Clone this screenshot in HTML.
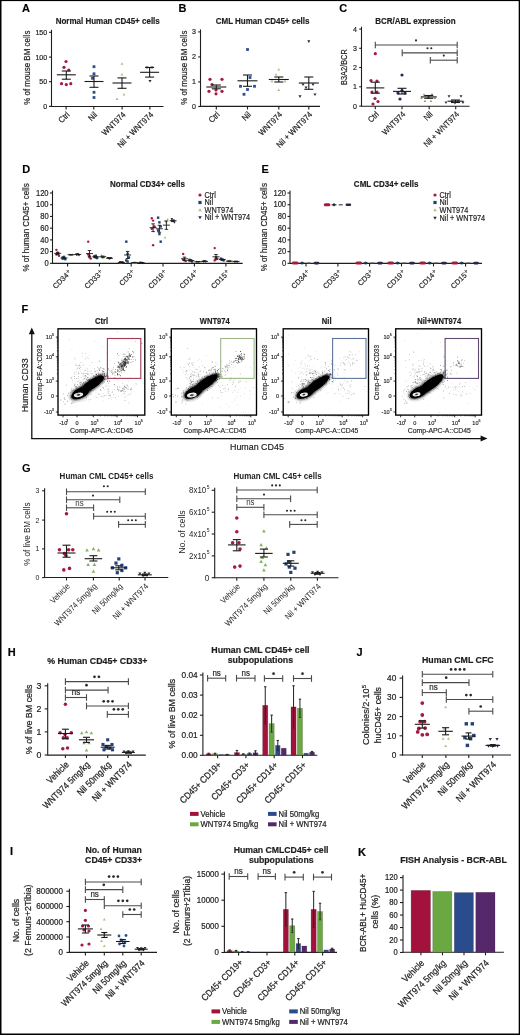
<!DOCTYPE html>
<html><head><meta charset="utf-8"><style>
html,body{margin:0;padding:0;background:#fff;}
svg{display:block;will-change:transform;}
text{font-family:"Liberation Sans", sans-serif;}
.hv text{stroke:#1e1e1e;stroke-width:0.2px;}
.md text{stroke:#1e1e1e;stroke-width:0.17px;}
</style></head><body>
<svg width="520" height="1035" viewBox="0 0 520 1035">
<rect x="0" y="0" width="520" height="1035" fill="#fff"/>
<g class="md">
<text x="0" y="0" font-size="11" text-anchor="start" font-weight="bold" fill="#000" transform="translate(22 12.3)">A</text>
<text x="0" y="0" font-size="8" text-anchor="middle" font-weight="bold" fill="#1e1e1e" transform="translate(107.7 23.5) scale(1 1.12)">Normal Human CD45+ cells</text>
<line x1="51.5" y1="29.8" x2="51.5" y2="107" stroke="#1e1e1e" stroke-width="1.1"/>
<line x1="49" y1="32.3" x2="51.5" y2="32.3" stroke="#1e1e1e" stroke-width="1.1"/>
<text x="0" y="0" font-size="7.1" text-anchor="end" fill="#1e1e1e" transform="translate(47.2 34.86) scale(1 1.12)">150</text>
<line x1="49" y1="57.1" x2="51.5" y2="57.1" stroke="#1e1e1e" stroke-width="1.1"/>
<text x="0" y="0" font-size="7.1" text-anchor="end" fill="#1e1e1e" transform="translate(47.2 59.66) scale(1 1.12)">100</text>
<line x1="49" y1="81.7" x2="51.5" y2="81.7" stroke="#1e1e1e" stroke-width="1.1"/>
<text x="0" y="0" font-size="7.1" text-anchor="end" fill="#1e1e1e" transform="translate(47.2 84.26) scale(1 1.12)">50</text>
<line x1="49" y1="106.4" x2="51.5" y2="106.4" stroke="#1e1e1e" stroke-width="1.1"/>
<text x="0" y="0" font-size="7.1" text-anchor="end" fill="#1e1e1e" transform="translate(47.2 108.96) scale(1 1.12)">0</text>
<text x="0" y="0" font-size="7.95" text-anchor="middle" fill="#1e1e1e" transform="translate(29.6 67.7) rotate(-90) scale(1 1.12)">% of mouse BM cells</text>
<line x1="51.5" y1="106.5" x2="163.5" y2="106.5" stroke="#1e1e1e" stroke-width="1.1"/>
<line x1="66.1" y1="106.5" x2="66.1" y2="109.5" stroke="#1e1e1e" stroke-width="1.1"/>
<line x1="93.8" y1="106.5" x2="93.8" y2="109.5" stroke="#1e1e1e" stroke-width="1.1"/>
<line x1="122.1" y1="106.5" x2="122.1" y2="109.5" stroke="#1e1e1e" stroke-width="1.1"/>
<line x1="149.9" y1="106.5" x2="149.9" y2="109.5" stroke="#1e1e1e" stroke-width="1.1"/>
<circle cx="66" cy="61.5" r="1.6" fill="#a51a3e"/>
<circle cx="64" cy="67.3" r="1.6" fill="#a51a3e"/>
<circle cx="68.8" cy="70" r="1.6" fill="#a51a3e"/>
<circle cx="61.5" cy="83.7" r="1.6" fill="#a51a3e"/>
<circle cx="66.3" cy="84.6" r="1.6" fill="#a51a3e"/>
<circle cx="70.8" cy="83.7" r="1.6" fill="#a51a3e"/>
<line x1="56.8" y1="74.8" x2="75.8" y2="74.8" stroke="#1a1a1a" stroke-width="1.1"/>
<line x1="66.3" y1="71" x2="66.3" y2="79.2" stroke="#1a1a1a" stroke-width="1.1"/>
<line x1="61.8" y1="71" x2="70.8" y2="71" stroke="#1a1a1a" stroke-width="1.1"/>
<line x1="61.8" y1="79.2" x2="70.8" y2="79.2" stroke="#1a1a1a" stroke-width="1.1"/>
<rect x="92.6" y="65.3" width="2.8" height="2.8" fill="#2c4f8e"/>
<rect x="92.6" y="72.4" width="2.8" height="2.8" fill="#2c4f8e"/>
<rect x="91.1" y="76.9" width="2.8" height="2.8" fill="#2c4f8e"/>
<rect x="92.6" y="90.9" width="2.8" height="2.8" fill="#2c4f8e"/>
<rect x="92.6" y="96.1" width="2.8" height="2.8" fill="#2c4f8e"/>
<line x1="84.5" y1="81.5" x2="103.5" y2="81.5" stroke="#1a1a1a" stroke-width="1.1"/>
<line x1="94" y1="76" x2="94" y2="87.3" stroke="#1a1a1a" stroke-width="1.1"/>
<line x1="89.5" y1="76" x2="98.5" y2="76" stroke="#1a1a1a" stroke-width="1.1"/>
<line x1="89.5" y1="87.3" x2="98.5" y2="87.3" stroke="#1a1a1a" stroke-width="1.1"/>
<polygon points="122,62.32 123.43,64.79 120.57,64.79" fill="#bdb57e"/>
<polygon points="122,72.92 123.43,75.39 120.57,75.39" fill="#bdb57e"/>
<polygon points="124,93.12 125.43,95.59 122.57,95.59" fill="#bdb57e"/>
<polygon points="117,97.52 118.43,99.99 115.57,99.99" fill="#bdb57e"/>
<line x1="112.5" y1="83" x2="131.5" y2="83" stroke="#1a1a1a" stroke-width="1.1"/>
<line x1="122" y1="77.9" x2="122" y2="88.3" stroke="#1a1a1a" stroke-width="1.1"/>
<line x1="117.5" y1="77.9" x2="126.5" y2="77.9" stroke="#1a1a1a" stroke-width="1.1"/>
<line x1="117.5" y1="88.3" x2="126.5" y2="88.3" stroke="#1a1a1a" stroke-width="1.1"/>
<polygon points="147,69.1 148.54,66.44 145.46,66.44" fill="#2b2740"/>
<polygon points="152,69.1 153.54,66.44 150.46,66.44" fill="#2b2740"/>
<polygon points="150,82.6 151.54,79.94 148.46,79.94" fill="#2b2740"/>
<line x1="140.1" y1="72.3" x2="159.1" y2="72.3" stroke="#1a1a1a" stroke-width="1.1"/>
<line x1="149.6" y1="67.5" x2="149.6" y2="77.1" stroke="#1a1a1a" stroke-width="1.1"/>
<line x1="145.1" y1="67.5" x2="154.1" y2="67.5" stroke="#1a1a1a" stroke-width="1.1"/>
<line x1="145.1" y1="77.1" x2="154.1" y2="77.1" stroke="#1a1a1a" stroke-width="1.1"/>
<text x="0" y="0" font-size="7.5" text-anchor="end" fill="#1e1e1e" transform="translate(70.1 115.2) rotate(-45) scale(1 1.12)">Ctrl</text>
<text x="0" y="0" font-size="7.5" text-anchor="end" fill="#1e1e1e" transform="translate(97.8 115.2) rotate(-45) scale(1 1.12)">Nil</text>
<text x="0" y="0" font-size="7.5" text-anchor="end" fill="#1e1e1e" transform="translate(126.1 115.2) rotate(-45) scale(1 1.12)">WNT974</text>
<text x="0" y="0" font-size="7.5" text-anchor="end" fill="#1e1e1e" transform="translate(153.9 115.2) rotate(-45) scale(1 1.12)">Nil + WNT974</text>
<text x="0" y="0" font-size="11" text-anchor="start" font-weight="bold" fill="#000" transform="translate(178.5 12.3)">B</text>
<text x="0" y="0" font-size="8" text-anchor="middle" font-weight="bold" fill="#1e1e1e" transform="translate(262.6 23.6) scale(1 1.12)">CML Human CD45+ cells</text>
<line x1="200.5" y1="29.4" x2="200.5" y2="107" stroke="#1e1e1e" stroke-width="1.1"/>
<line x1="198.2" y1="31.9" x2="200.5" y2="31.9" stroke="#1e1e1e" stroke-width="1.1"/>
<text x="0" y="0" font-size="7.1" text-anchor="end" fill="#1e1e1e" transform="translate(195.9 34.46) scale(1 1.12)">3</text>
<line x1="198.2" y1="56.9" x2="200.5" y2="56.9" stroke="#1e1e1e" stroke-width="1.1"/>
<text x="0" y="0" font-size="7.1" text-anchor="end" fill="#1e1e1e" transform="translate(195.9 59.46) scale(1 1.12)">2</text>
<line x1="198.2" y1="81.9" x2="200.5" y2="81.9" stroke="#1e1e1e" stroke-width="1.1"/>
<text x="0" y="0" font-size="7.1" text-anchor="end" fill="#1e1e1e" transform="translate(195.9 84.46) scale(1 1.12)">1</text>
<line x1="198.2" y1="106.5" x2="200.5" y2="106.5" stroke="#1e1e1e" stroke-width="1.1"/>
<text x="0" y="0" font-size="7.1" text-anchor="end" fill="#1e1e1e" transform="translate(195.9 109.06) scale(1 1.12)">0</text>
<text x="0" y="0" font-size="7.95" text-anchor="middle" fill="#1e1e1e" transform="translate(186.8 67.7) rotate(-90) scale(1 1.12)">% of mouse BM cells</text>
<line x1="200.4" y1="106.4" x2="320" y2="106.4" stroke="#1e1e1e" stroke-width="1.1"/>
<line x1="216.3" y1="106.4" x2="216.3" y2="109.4" stroke="#1e1e1e" stroke-width="1.1"/>
<line x1="247.5" y1="106.4" x2="247.5" y2="109.4" stroke="#1e1e1e" stroke-width="1.1"/>
<line x1="278.8" y1="106.4" x2="278.8" y2="109.4" stroke="#1e1e1e" stroke-width="1.1"/>
<line x1="308.8" y1="106.4" x2="308.8" y2="109.4" stroke="#1e1e1e" stroke-width="1.1"/>
<circle cx="210" cy="79.3" r="1.6" fill="#a51a3e"/>
<circle cx="222" cy="79.3" r="1.6" fill="#a51a3e"/>
<circle cx="212" cy="84.5" r="1.6" fill="#a51a3e"/>
<circle cx="216" cy="90" r="1.6" fill="#a51a3e"/>
<circle cx="209" cy="91.3" r="1.6" fill="#a51a3e"/>
<circle cx="222" cy="91.3" r="1.6" fill="#a51a3e"/>
<circle cx="216" cy="93.8" r="1.6" fill="#a51a3e"/>
<line x1="206.3" y1="87" x2="226.3" y2="87" stroke="#1a1a1a" stroke-width="1.1"/>
<line x1="216.3" y1="85" x2="216.3" y2="88.8" stroke="#1a1a1a" stroke-width="1.1"/>
<line x1="211.8" y1="85" x2="220.8" y2="85" stroke="#1a1a1a" stroke-width="1.1"/>
<line x1="211.8" y1="88.8" x2="220.8" y2="88.8" stroke="#1a1a1a" stroke-width="1.1"/>
<rect x="246.1" y="48.1" width="2.8" height="2.8" fill="#2c4f8e"/>
<rect x="248.6" y="76.1" width="2.8" height="2.8" fill="#2c4f8e"/>
<rect x="239.1" y="84.9" width="2.8" height="2.8" fill="#2c4f8e"/>
<rect x="253.1" y="84.9" width="2.8" height="2.8" fill="#2c4f8e"/>
<rect x="246.1" y="88.1" width="2.8" height="2.8" fill="#2c4f8e"/>
<rect x="242.6" y="92.9" width="2.8" height="2.8" fill="#2c4f8e"/>
<line x1="237.5" y1="80.8" x2="257.5" y2="80.8" stroke="#1a1a1a" stroke-width="1.1"/>
<line x1="247.5" y1="75" x2="247.5" y2="86.3" stroke="#1a1a1a" stroke-width="1.1"/>
<line x1="243" y1="75" x2="252" y2="75" stroke="#1a1a1a" stroke-width="1.1"/>
<line x1="243" y1="86.3" x2="252" y2="86.3" stroke="#1a1a1a" stroke-width="1.1"/>
<polygon points="278.8,68.02 280.23,70.49 277.37,70.49" fill="#bdb57e"/>
<polygon points="276,73.02 277.43,75.49 274.57,75.49" fill="#bdb57e"/>
<polygon points="272,79.82 273.43,82.29 270.57,82.29" fill="#bdb57e"/>
<polygon points="285,79.82 286.43,82.29 283.57,82.29" fill="#bdb57e"/>
<polygon points="278.8,88.52 280.23,90.99 277.37,90.99" fill="#bdb57e"/>
<line x1="268.8" y1="79.5" x2="288.8" y2="79.5" stroke="#1a1a1a" stroke-width="1.1"/>
<line x1="278.8" y1="77" x2="278.8" y2="82" stroke="#1a1a1a" stroke-width="1.1"/>
<line x1="274.3" y1="77" x2="283.3" y2="77" stroke="#1a1a1a" stroke-width="1.1"/>
<line x1="274.3" y1="82" x2="283.3" y2="82" stroke="#1a1a1a" stroke-width="1.1"/>
<polygon points="308.8,42.9 310.34,40.24 307.26,40.24" fill="#2b2740"/>
<polygon points="303,86.1 304.54,83.44 301.46,83.44" fill="#2b2740"/>
<polygon points="313,86.1 314.54,83.44 311.46,83.44" fill="#2b2740"/>
<polygon points="306,89.1 307.54,86.44 304.46,86.44" fill="#2b2740"/>
<polygon points="315,96.1 316.54,93.44 313.46,93.44" fill="#2b2740"/>
<polygon points="300,97.9 301.54,95.24 298.46,95.24" fill="#2b2740"/>
<line x1="298.8" y1="83" x2="318.8" y2="83" stroke="#1a1a1a" stroke-width="1.1"/>
<line x1="308.8" y1="77" x2="308.8" y2="89.3" stroke="#1a1a1a" stroke-width="1.1"/>
<line x1="304.3" y1="77" x2="313.3" y2="77" stroke="#1a1a1a" stroke-width="1.1"/>
<line x1="304.3" y1="89.3" x2="313.3" y2="89.3" stroke="#1a1a1a" stroke-width="1.1"/>
<text x="0" y="0" font-size="7.5" text-anchor="end" fill="#1e1e1e" transform="translate(220.3 115.1) rotate(-45) scale(1 1.12)">Ctrl</text>
<text x="0" y="0" font-size="7.5" text-anchor="end" fill="#1e1e1e" transform="translate(251.5 115.1) rotate(-45) scale(1 1.12)">Nil</text>
<text x="0" y="0" font-size="7.5" text-anchor="end" fill="#1e1e1e" transform="translate(282.8 115.1) rotate(-45) scale(1 1.12)">WNT974</text>
<text x="0" y="0" font-size="7.5" text-anchor="end" fill="#1e1e1e" transform="translate(312.8 115.1) rotate(-45) scale(1 1.12)">Nil + WNT974</text>
<text x="0" y="0" font-size="11" text-anchor="start" font-weight="bold" fill="#000" transform="translate(339.3 12.3)">C</text>
<text x="0" y="0" font-size="8" text-anchor="middle" font-weight="bold" fill="#1e1e1e" transform="translate(415.4 23.5) scale(1 1.12)">BCR/ABL expression</text>
<line x1="361.5" y1="26.7" x2="361.5" y2="106.7" stroke="#1e1e1e" stroke-width="1.1"/>
<line x1="359.2" y1="29.1" x2="361.5" y2="29.1" stroke="#1e1e1e" stroke-width="1.1"/>
<text x="0" y="0" font-size="7.1" text-anchor="end" fill="#1e1e1e" transform="translate(356.9 31.66) scale(1 1.12)">4</text>
<line x1="359.2" y1="48.3" x2="361.5" y2="48.3" stroke="#1e1e1e" stroke-width="1.1"/>
<text x="0" y="0" font-size="7.1" text-anchor="end" fill="#1e1e1e" transform="translate(356.9 50.86) scale(1 1.12)">3</text>
<line x1="359.2" y1="67.5" x2="361.5" y2="67.5" stroke="#1e1e1e" stroke-width="1.1"/>
<text x="0" y="0" font-size="7.1" text-anchor="end" fill="#1e1e1e" transform="translate(356.9 70.06) scale(1 1.12)">2</text>
<line x1="359.2" y1="86.8" x2="361.5" y2="86.8" stroke="#1e1e1e" stroke-width="1.1"/>
<text x="0" y="0" font-size="7.1" text-anchor="end" fill="#1e1e1e" transform="translate(356.9 89.36) scale(1 1.12)">1</text>
<line x1="359.2" y1="106.1" x2="361.5" y2="106.1" stroke="#1e1e1e" stroke-width="1.1"/>
<text x="0" y="0" font-size="7.1" text-anchor="end" fill="#1e1e1e" transform="translate(356.9 108.66) scale(1 1.12)">0</text>
<text x="0" y="0" font-size="7.4" text-anchor="middle" fill="#1e1e1e" transform="translate(346.6 67.1) rotate(-90) scale(1 1.12)">B3A2/BCR</text>
<line x1="361.5" y1="106.2" x2="469.5" y2="106.2" stroke="#1e1e1e" stroke-width="1.1"/>
<line x1="375.3" y1="106.2" x2="375.3" y2="109.2" stroke="#1e1e1e" stroke-width="1.1"/>
<line x1="402" y1="106.2" x2="402" y2="109.2" stroke="#1e1e1e" stroke-width="1.1"/>
<line x1="429.2" y1="106.2" x2="429.2" y2="109.2" stroke="#1e1e1e" stroke-width="1.1"/>
<line x1="455.7" y1="106.2" x2="455.7" y2="109.2" stroke="#1e1e1e" stroke-width="1.1"/>
<line x1="375.3" y1="45" x2="457.2" y2="45" stroke="#4a4a4a" stroke-width="1.1"/>
<line x1="375.3" y1="41.7" x2="375.3" y2="48.3" stroke="#4a4a4a" stroke-width="1.1"/>
<line x1="457.2" y1="41.7" x2="457.2" y2="48.3" stroke="#4a4a4a" stroke-width="1.1"/>
<circle cx="416" cy="40.4" r="1.05" fill="#2a2a2a"/>
<line x1="402.2" y1="52.9" x2="457.2" y2="52.9" stroke="#4a4a4a" stroke-width="1.1"/>
<line x1="402.2" y1="49.6" x2="402.2" y2="56.2" stroke="#4a4a4a" stroke-width="1.1"/>
<line x1="457.2" y1="49.6" x2="457.2" y2="56.2" stroke="#4a4a4a" stroke-width="1.1"/>
<circle cx="427.5" cy="48.3" r="1.05" fill="#2a2a2a"/>
<circle cx="431.3" cy="48.3" r="1.05" fill="#2a2a2a"/>
<line x1="430.3" y1="60.2" x2="457.2" y2="60.2" stroke="#4a4a4a" stroke-width="1.1"/>
<line x1="430.3" y1="56.9" x2="430.3" y2="63.5" stroke="#4a4a4a" stroke-width="1.1"/>
<line x1="457.2" y1="56.9" x2="457.2" y2="63.5" stroke="#4a4a4a" stroke-width="1.1"/>
<circle cx="443.8" cy="55.6" r="1.05" fill="#2a2a2a"/>
<circle cx="375.3" cy="53.7" r="1.6" fill="#a51a3e"/>
<circle cx="371" cy="80.5" r="1.6" fill="#9a2040"/>
<circle cx="377" cy="81" r="1.6" fill="#9a2040"/>
<circle cx="372" cy="92" r="1.6" fill="#9a2040"/>
<circle cx="377" cy="92" r="1.6" fill="#9a2040"/>
<circle cx="375" cy="98.5" r="1.6" fill="#9a2040"/>
<circle cx="378" cy="101.5" r="1.6" fill="#9a2040"/>
<circle cx="373" cy="104" r="1.6" fill="#9a2040"/>
<line x1="366.3" y1="87.9" x2="384.3" y2="87.9" stroke="#1a1a1a" stroke-width="1.1"/>
<line x1="375.3" y1="82.2" x2="375.3" y2="93.2" stroke="#1a1a1a" stroke-width="1.1"/>
<line x1="370.8" y1="82.2" x2="379.8" y2="82.2" stroke="#1a1a1a" stroke-width="1.1"/>
<line x1="370.8" y1="93.2" x2="379.8" y2="93.2" stroke="#1a1a1a" stroke-width="1.1"/>
<circle cx="402" cy="75" r="1.6" fill="#1f2f55"/>
<circle cx="398" cy="93" r="1.6" fill="#1f2f55"/>
<circle cx="405" cy="93" r="1.6" fill="#1f2f55"/>
<circle cx="400" cy="99" r="1.6" fill="#1f2f55"/>
<circle cx="402" cy="90.5" r="1.6" fill="#1f2f55"/>
<line x1="393" y1="91.4" x2="411" y2="91.4" stroke="#1a1a1a" stroke-width="1.1"/>
<line x1="402" y1="88.3" x2="402" y2="94" stroke="#1a1a1a" stroke-width="1.1"/>
<line x1="397.5" y1="88.3" x2="406.5" y2="88.3" stroke="#1a1a1a" stroke-width="1.1"/>
<line x1="397.5" y1="94" x2="406.5" y2="94" stroke="#1a1a1a" stroke-width="1.1"/>
<polygon points="424,93.13 425.32,95.41 422.68,95.41" fill="#8a9a70"/>
<polygon points="432,92.63 433.32,94.91 430.68,94.91" fill="#8a9a70"/>
<polygon points="428,96.13 429.32,98.41 426.68,98.41" fill="#8a9a70"/>
<polygon points="421.5,96.63 422.82,98.91 420.18,98.91" fill="#8a9a70"/>
<polygon points="435,96.63 436.32,98.91 433.68,98.91" fill="#8a9a70"/>
<polygon points="425,99.63 426.32,101.91 423.68,101.91" fill="#8a9a70"/>
<polygon points="431,99.63 432.32,101.91 429.68,101.91" fill="#8a9a70"/>
<line x1="420.8" y1="96.9" x2="436.8" y2="96.9" stroke="#1a1a1a" stroke-width="1.1"/>
<line x1="428.8" y1="95.5" x2="428.8" y2="98.3" stroke="#1a1a1a" stroke-width="1.1"/>
<line x1="424.3" y1="95.5" x2="433.3" y2="95.5" stroke="#1a1a1a" stroke-width="1.1"/>
<line x1="424.3" y1="98.3" x2="433.3" y2="98.3" stroke="#1a1a1a" stroke-width="1.1"/>
<polygon points="449,97.68 450.43,95.21 447.57,95.21" fill="#2b2740"/>
<polygon points="461,97.68 462.43,95.21 459.57,95.21" fill="#2b2740"/>
<polygon points="452,102.98 453.43,100.51 450.57,100.51" fill="#2b2740"/>
<polygon points="458,102.98 459.43,100.51 456.57,100.51" fill="#2b2740"/>
<polygon points="446,103.98 447.43,101.51 444.57,101.51" fill="#2b2740"/>
<polygon points="455,104.48 456.43,102.01 453.57,102.01" fill="#2b2740"/>
<polygon points="463,103.98 464.43,101.51 461.57,101.51" fill="#2b2740"/>
<line x1="447.5" y1="101.2" x2="463.5" y2="101.2" stroke="#1a1a1a" stroke-width="1.1"/>
<line x1="455.5" y1="100" x2="455.5" y2="102.5" stroke="#1a1a1a" stroke-width="1.1"/>
<line x1="451" y1="100" x2="460" y2="100" stroke="#1a1a1a" stroke-width="1.1"/>
<line x1="451" y1="102.5" x2="460" y2="102.5" stroke="#1a1a1a" stroke-width="1.1"/>
<text x="0" y="0" font-size="7.4" text-anchor="end" fill="#1e1e1e" transform="translate(379.3 114.9) rotate(-45) scale(1 1.12)">Ctrl</text>
<text x="0" y="0" font-size="7.4" text-anchor="end" fill="#1e1e1e" transform="translate(406 114.9) rotate(-45) scale(1 1.12)">WNT974</text>
<text x="0" y="0" font-size="7.4" text-anchor="end" fill="#1e1e1e" transform="translate(433.2 114.9) rotate(-45) scale(1 1.12)">Nil</text>
<text x="0" y="0" font-size="7.4" text-anchor="end" fill="#1e1e1e" transform="translate(459.7 114.9) rotate(-45) scale(1 1.12)">Nil + WNT974</text>
<text x="0" y="0" font-size="11" text-anchor="start" font-weight="bold" fill="#000" transform="translate(22.2 172.7)">D</text>
<text x="0" y="0" font-size="8" text-anchor="middle" font-weight="bold" fill="#1e1e1e" transform="translate(147.5 187) scale(1 1.12)">Normal CD34+ cells</text>
<line x1="52.5" y1="190.5" x2="52.5" y2="263.9" stroke="#1e1e1e" stroke-width="1.1"/>
<line x1="50" y1="193" x2="52.5" y2="193" stroke="#1e1e1e" stroke-width="1.1"/>
<text x="0" y="0" font-size="7.6" text-anchor="end" fill="#1e1e1e" transform="translate(48.6 195.74) scale(1 1.12)">120</text>
<line x1="50" y1="204.72" x2="52.5" y2="204.72" stroke="#1e1e1e" stroke-width="1.1"/>
<text x="0" y="0" font-size="7.6" text-anchor="end" fill="#1e1e1e" transform="translate(48.6 207.46) scale(1 1.12)">100</text>
<line x1="50" y1="216.44" x2="52.5" y2="216.44" stroke="#1e1e1e" stroke-width="1.1"/>
<text x="0" y="0" font-size="7.6" text-anchor="end" fill="#1e1e1e" transform="translate(48.6 219.18) scale(1 1.12)">80</text>
<line x1="50" y1="228.16" x2="52.5" y2="228.16" stroke="#1e1e1e" stroke-width="1.1"/>
<text x="0" y="0" font-size="7.6" text-anchor="end" fill="#1e1e1e" transform="translate(48.6 230.9) scale(1 1.12)">60</text>
<line x1="50" y1="239.88" x2="52.5" y2="239.88" stroke="#1e1e1e" stroke-width="1.1"/>
<text x="0" y="0" font-size="7.6" text-anchor="end" fill="#1e1e1e" transform="translate(48.6 242.62) scale(1 1.12)">40</text>
<line x1="50" y1="251.6" x2="52.5" y2="251.6" stroke="#1e1e1e" stroke-width="1.1"/>
<text x="0" y="0" font-size="7.6" text-anchor="end" fill="#1e1e1e" transform="translate(48.6 254.34) scale(1 1.12)">20</text>
<line x1="50" y1="263.32" x2="52.5" y2="263.32" stroke="#1e1e1e" stroke-width="1.1"/>
<text x="0" y="0" font-size="7.6" text-anchor="end" fill="#1e1e1e" transform="translate(48.6 266.06) scale(1 1.12)">0</text>
<text x="0" y="0" font-size="8.0" text-anchor="middle" fill="#1e1e1e" transform="translate(28.6 227.4) rotate(-90) scale(1 1.12)">% of human CD45+ cells</text>
<line x1="52.5" y1="263.4" x2="242.7" y2="263.4" stroke="#1e1e1e" stroke-width="1.1"/>
<line x1="67.6" y1="263.4" x2="67.6" y2="266.4" stroke="#1e1e1e" stroke-width="1.1"/>
<line x1="99.4" y1="263.4" x2="99.4" y2="266.4" stroke="#1e1e1e" stroke-width="1.1"/>
<line x1="131.2" y1="263.4" x2="131.2" y2="266.4" stroke="#1e1e1e" stroke-width="1.1"/>
<line x1="163" y1="263.4" x2="163" y2="266.4" stroke="#1e1e1e" stroke-width="1.1"/>
<line x1="194.4" y1="263.4" x2="194.4" y2="266.4" stroke="#1e1e1e" stroke-width="1.1"/>
<line x1="225.9" y1="263.4" x2="225.9" y2="266.4" stroke="#1e1e1e" stroke-width="1.1"/>
<circle cx="56.4" cy="249.85" r="1.2" fill="#a51a3e"/>
<circle cx="57.7" cy="253.94" r="1.2" fill="#a51a3e"/>
<circle cx="59" cy="255.7" r="1.2" fill="#a51a3e"/>
<circle cx="56.4" cy="254.53" r="1.2" fill="#a51a3e"/>
<circle cx="57.7" cy="252.77" r="1.2" fill="#a51a3e"/>
<line x1="54.2" y1="253.36" x2="61.2" y2="253.36" stroke="#1a1a1a" stroke-width="0.9"/>
<line x1="57.7" y1="252.36" x2="57.7" y2="254.35" stroke="#1a1a1a" stroke-width="0.9"/>
<line x1="55.95" y1="252.36" x2="59.45" y2="252.36" stroke="#1a1a1a" stroke-width="0.9"/>
<line x1="55.95" y1="254.35" x2="59.45" y2="254.35" stroke="#1a1a1a" stroke-width="0.9"/>
<rect x="61.5" y="257.42" width="2.4" height="2.4" fill="#22426e"/>
<rect x="62.8" y="255.67" width="2.4" height="2.4" fill="#22426e"/>
<rect x="64.1" y="258" width="2.4" height="2.4" fill="#22426e"/>
<rect x="61.5" y="256.25" width="2.4" height="2.4" fill="#22426e"/>
<line x1="60.5" y1="258.04" x2="67.5" y2="258.04" stroke="#1a1a1a" stroke-width="0.9"/>
<line x1="64" y1="257.5" x2="64" y2="258.57" stroke="#1a1a1a" stroke-width="0.9"/>
<line x1="62.25" y1="257.5" x2="65.75" y2="257.5" stroke="#1a1a1a" stroke-width="0.9"/>
<line x1="62.25" y1="258.57" x2="65.75" y2="258.57" stroke="#1a1a1a" stroke-width="0.9"/>
<polygon points="69.7,253.16 71.02,255.44 68.38,255.44" fill="#a8c07a"/>
<polygon points="71,253.74 72.32,256.02 69.68,256.02" fill="#a8c07a"/>
<polygon points="72.3,253.16 73.62,255.44 70.98,255.44" fill="#a8c07a"/>
<line x1="67.5" y1="254.72" x2="74.5" y2="254.72" stroke="#1a1a1a" stroke-width="0.9"/>
<line x1="71" y1="254.53" x2="71" y2="254.92" stroke="#1a1a1a" stroke-width="0.9"/>
<line x1="69.25" y1="254.53" x2="72.75" y2="254.53" stroke="#1a1a1a" stroke-width="0.9"/>
<line x1="69.25" y1="254.92" x2="72.75" y2="254.92" stroke="#1a1a1a" stroke-width="0.9"/>
<polygon points="76.4,255.89 77.72,253.61 75.08,253.61" fill="#2b2740"/>
<polygon points="77.7,255.31 79.02,253.03 76.38,253.03" fill="#2b2740"/>
<polygon points="79,256.48 80.32,254.2 77.68,254.2" fill="#2b2740"/>
<line x1="74.2" y1="254.53" x2="81.2" y2="254.53" stroke="#1a1a1a" stroke-width="0.9"/>
<line x1="77.7" y1="254.19" x2="77.7" y2="254.86" stroke="#1a1a1a" stroke-width="0.9"/>
<line x1="75.95" y1="254.19" x2="79.45" y2="254.19" stroke="#1a1a1a" stroke-width="0.9"/>
<line x1="75.95" y1="254.86" x2="79.45" y2="254.86" stroke="#1a1a1a" stroke-width="0.9"/>
<circle cx="88.2" cy="241.66" r="1.2" fill="#a51a3e"/>
<circle cx="89.5" cy="255.7" r="1.2" fill="#a51a3e"/>
<circle cx="90.8" cy="258.62" r="1.2" fill="#a51a3e"/>
<circle cx="88.2" cy="254.53" r="1.2" fill="#a51a3e"/>
<circle cx="89.5" cy="257.45" r="1.2" fill="#a51a3e"/>
<line x1="86" y1="253.59" x2="93" y2="253.59" stroke="#1a1a1a" stroke-width="0.9"/>
<line x1="89.5" y1="250.52" x2="89.5" y2="256.65" stroke="#1a1a1a" stroke-width="0.9"/>
<line x1="87.75" y1="250.52" x2="91.25" y2="250.52" stroke="#1a1a1a" stroke-width="0.9"/>
<line x1="87.75" y1="256.65" x2="91.25" y2="256.65" stroke="#1a1a1a" stroke-width="0.9"/>
<rect x="93.3" y="255.67" width="2.4" height="2.4" fill="#22426e"/>
<rect x="94.6" y="254.5" width="2.4" height="2.4" fill="#22426e"/>
<rect x="95.9" y="256.84" width="2.4" height="2.4" fill="#22426e"/>
<rect x="93.3" y="255.08" width="2.4" height="2.4" fill="#22426e"/>
<rect x="94.6" y="256.25" width="2.4" height="2.4" fill="#22426e"/>
<line x1="92.3" y1="256.87" x2="99.3" y2="256.87" stroke="#1a1a1a" stroke-width="0.9"/>
<line x1="95.8" y1="256.45" x2="95.8" y2="257.28" stroke="#1a1a1a" stroke-width="0.9"/>
<line x1="94.05" y1="256.45" x2="97.55" y2="256.45" stroke="#1a1a1a" stroke-width="0.9"/>
<line x1="94.05" y1="257.28" x2="97.55" y2="257.28" stroke="#1a1a1a" stroke-width="0.9"/>
<polygon points="101.5,254.91 102.82,257.19 100.18,257.19" fill="#a8c07a"/>
<polygon points="102.8,256.67 104.12,258.95 101.48,258.95" fill="#a8c07a"/>
<polygon points="104.1,256.08 105.42,258.36 102.78,258.36" fill="#a8c07a"/>
<polygon points="101.5,253.74 102.82,256.02 100.18,256.02" fill="#a8c07a"/>
<line x1="99.3" y1="256.72" x2="106.3" y2="256.72" stroke="#1a1a1a" stroke-width="0.9"/>
<line x1="102.8" y1="256.07" x2="102.8" y2="257.37" stroke="#1a1a1a" stroke-width="0.9"/>
<line x1="101.05" y1="256.07" x2="104.55" y2="256.07" stroke="#1a1a1a" stroke-width="0.9"/>
<line x1="101.05" y1="257.37" x2="104.55" y2="257.37" stroke="#1a1a1a" stroke-width="0.9"/>
<polygon points="108.2,259.4 109.52,257.12 106.88,257.12" fill="#2b2740"/>
<polygon points="109.5,259.99 110.82,257.71 108.18,257.71" fill="#2b2740"/>
<polygon points="110.8,259.4 112.12,257.12 109.48,257.12" fill="#2b2740"/>
<line x1="106" y1="258.23" x2="113" y2="258.23" stroke="#1a1a1a" stroke-width="0.9"/>
<line x1="109.5" y1="258.04" x2="109.5" y2="258.43" stroke="#1a1a1a" stroke-width="0.9"/>
<line x1="107.75" y1="258.04" x2="111.25" y2="258.04" stroke="#1a1a1a" stroke-width="0.9"/>
<line x1="107.75" y1="258.43" x2="111.25" y2="258.43" stroke="#1a1a1a" stroke-width="0.9"/>
<circle cx="120" cy="262.13" r="1.2" fill="#a51a3e"/>
<circle cx="121.3" cy="262.72" r="1.2" fill="#a51a3e"/>
<circle cx="122.6" cy="262.13" r="1.2" fill="#a51a3e"/>
<circle cx="120" cy="262.72" r="1.2" fill="#a51a3e"/>
<circle cx="121.3" cy="262.42" r="1.2" fill="#a51a3e"/>
<line x1="117.8" y1="262.42" x2="124.8" y2="262.42" stroke="#1a1a1a" stroke-width="0.9"/>
<line x1="121.3" y1="262.29" x2="121.3" y2="262.55" stroke="#1a1a1a" stroke-width="0.9"/>
<line x1="119.55" y1="262.29" x2="123.05" y2="262.29" stroke="#1a1a1a" stroke-width="0.9"/>
<line x1="119.55" y1="262.55" x2="123.05" y2="262.55" stroke="#1a1a1a" stroke-width="0.9"/>
<rect x="125.1" y="240.46" width="2.4" height="2.4" fill="#22426e"/>
<rect x="126.4" y="252.74" width="2.4" height="2.4" fill="#22426e"/>
<rect x="127.7" y="256.25" width="2.4" height="2.4" fill="#22426e"/>
<rect x="125.1" y="259.18" width="2.4" height="2.4" fill="#22426e"/>
<rect x="126.4" y="260.35" width="2.4" height="2.4" fill="#22426e"/>
<line x1="124.1" y1="254.99" x2="131.1" y2="254.99" stroke="#1a1a1a" stroke-width="0.9"/>
<line x1="127.6" y1="251.41" x2="127.6" y2="258.58" stroke="#1a1a1a" stroke-width="0.9"/>
<line x1="125.85" y1="251.41" x2="129.35" y2="251.41" stroke="#1a1a1a" stroke-width="0.9"/>
<line x1="125.85" y1="258.58" x2="129.35" y2="258.58" stroke="#1a1a1a" stroke-width="0.9"/>
<polygon points="133.3,261.35 134.62,263.63 131.98,263.63" fill="#a8c07a"/>
<polygon points="134.6,261.05 135.92,263.33 133.28,263.33" fill="#a8c07a"/>
<polygon points="135.9,261.35 137.22,263.63 134.58,263.63" fill="#a8c07a"/>
<line x1="131.1" y1="262.62" x2="138.1" y2="262.62" stroke="#1a1a1a" stroke-width="0.9"/>
<line x1="134.6" y1="262.52" x2="134.6" y2="262.72" stroke="#1a1a1a" stroke-width="0.9"/>
<line x1="132.85" y1="262.52" x2="136.35" y2="262.52" stroke="#1a1a1a" stroke-width="0.9"/>
<line x1="132.85" y1="262.72" x2="136.35" y2="262.72" stroke="#1a1a1a" stroke-width="0.9"/>
<polygon points="140,264.08 141.32,261.8 138.68,261.8" fill="#2b2740"/>
<polygon points="141.3,264.08 142.62,261.8 139.98,261.8" fill="#2b2740"/>
<polygon points="142.6,264.38 143.92,262.1 141.28,262.1" fill="#2b2740"/>
<line x1="137.8" y1="262.81" x2="144.8" y2="262.81" stroke="#1a1a1a" stroke-width="0.9"/>
<line x1="141.3" y1="262.72" x2="141.3" y2="262.91" stroke="#1a1a1a" stroke-width="0.9"/>
<line x1="139.55" y1="262.72" x2="143.05" y2="262.72" stroke="#1a1a1a" stroke-width="0.9"/>
<line x1="139.55" y1="262.91" x2="143.05" y2="262.91" stroke="#1a1a1a" stroke-width="0.9"/>
<circle cx="151.8" cy="218.26" r="1.2" fill="#a51a3e"/>
<circle cx="153.1" cy="220.6" r="1.2" fill="#a51a3e"/>
<circle cx="154.4" cy="226.45" r="1.2" fill="#a51a3e"/>
<circle cx="151.8" cy="228.79" r="1.2" fill="#a51a3e"/>
<circle cx="153.1" cy="245.17" r="1.2" fill="#a51a3e"/>
<circle cx="154.4" cy="227.03" r="1.2" fill="#a51a3e"/>
<line x1="149.6" y1="227.71" x2="156.6" y2="227.71" stroke="#1a1a1a" stroke-width="0.9"/>
<line x1="153.1" y1="223.85" x2="153.1" y2="231.58" stroke="#1a1a1a" stroke-width="0.9"/>
<line x1="151.35" y1="223.85" x2="154.85" y2="223.85" stroke="#1a1a1a" stroke-width="0.9"/>
<line x1="151.35" y1="231.58" x2="154.85" y2="231.58" stroke="#1a1a1a" stroke-width="0.9"/>
<rect x="156.9" y="216.47" width="2.4" height="2.4" fill="#22426e"/>
<rect x="158.2" y="221.15" width="2.4" height="2.4" fill="#22426e"/>
<rect x="159.5" y="225.25" width="2.4" height="2.4" fill="#22426e"/>
<rect x="156.9" y="229.34" width="2.4" height="2.4" fill="#22426e"/>
<rect x="158.2" y="232.85" width="2.4" height="2.4" fill="#22426e"/>
<rect x="159.5" y="240.46" width="2.4" height="2.4" fill="#22426e"/>
<line x1="155.9" y1="228.79" x2="162.9" y2="228.79" stroke="#1a1a1a" stroke-width="0.9"/>
<line x1="159.4" y1="225.29" x2="159.4" y2="232.28" stroke="#1a1a1a" stroke-width="0.9"/>
<line x1="157.65" y1="225.29" x2="161.15" y2="225.29" stroke="#1a1a1a" stroke-width="0.9"/>
<line x1="157.65" y1="232.28" x2="161.15" y2="232.28" stroke="#1a1a1a" stroke-width="0.9"/>
<polygon points="165.1,219.81 166.42,222.09 163.78,222.09" fill="#a8c07a"/>
<polygon points="166.4,220.98 167.72,223.26 165.08,223.26" fill="#a8c07a"/>
<polygon points="167.7,218.06 169.02,220.34 166.38,220.34" fill="#a8c07a"/>
<polygon points="165.1,236.19 166.42,238.47 163.78,238.47" fill="#a8c07a"/>
<line x1="162.9" y1="225.13" x2="169.9" y2="225.13" stroke="#1a1a1a" stroke-width="0.9"/>
<line x1="166.4" y1="220.94" x2="166.4" y2="229.32" stroke="#1a1a1a" stroke-width="0.9"/>
<line x1="164.65" y1="220.94" x2="168.15" y2="220.94" stroke="#1a1a1a" stroke-width="0.9"/>
<line x1="164.65" y1="229.32" x2="168.15" y2="229.32" stroke="#1a1a1a" stroke-width="0.9"/>
<polygon points="171.8,220.21 173.12,217.93 170.48,217.93" fill="#2b2740"/>
<polygon points="173.1,221.96 174.42,219.68 171.78,219.68" fill="#2b2740"/>
<polygon points="174.4,223.72 175.72,221.44 173.08,221.44" fill="#2b2740"/>
<polygon points="171.8,222.55 173.12,220.27 170.48,220.27" fill="#2b2740"/>
<line x1="169.6" y1="220.74" x2="176.6" y2="220.74" stroke="#1a1a1a" stroke-width="0.9"/>
<line x1="173.1" y1="220.01" x2="173.1" y2="221.47" stroke="#1a1a1a" stroke-width="0.9"/>
<line x1="171.35" y1="220.01" x2="174.85" y2="220.01" stroke="#1a1a1a" stroke-width="0.9"/>
<line x1="171.35" y1="221.47" x2="174.85" y2="221.47" stroke="#1a1a1a" stroke-width="0.9"/>
<circle cx="183.2" cy="253.94" r="1.2" fill="#a51a3e"/>
<circle cx="184.5" cy="260.38" r="1.2" fill="#a51a3e"/>
<circle cx="185.8" cy="260.96" r="1.2" fill="#a51a3e"/>
<circle cx="183.2" cy="259.79" r="1.2" fill="#a51a3e"/>
<line x1="181" y1="258.77" x2="188" y2="258.77" stroke="#1a1a1a" stroke-width="0.9"/>
<line x1="184.5" y1="257.14" x2="184.5" y2="260.39" stroke="#1a1a1a" stroke-width="0.9"/>
<line x1="182.75" y1="257.14" x2="186.25" y2="257.14" stroke="#1a1a1a" stroke-width="0.9"/>
<line x1="182.75" y1="260.39" x2="186.25" y2="260.39" stroke="#1a1a1a" stroke-width="0.9"/>
<rect x="188.3" y="258.59" width="2.4" height="2.4" fill="#22426e"/>
<rect x="189.6" y="259.18" width="2.4" height="2.4" fill="#22426e"/>
<rect x="190.9" y="260.35" width="2.4" height="2.4" fill="#22426e"/>
<rect x="188.3" y="259.18" width="2.4" height="2.4" fill="#22426e"/>
<line x1="187.3" y1="260.52" x2="194.3" y2="260.52" stroke="#1a1a1a" stroke-width="0.9"/>
<line x1="190.8" y1="260.15" x2="190.8" y2="260.89" stroke="#1a1a1a" stroke-width="0.9"/>
<line x1="189.05" y1="260.15" x2="192.55" y2="260.15" stroke="#1a1a1a" stroke-width="0.9"/>
<line x1="189.05" y1="260.89" x2="192.55" y2="260.89" stroke="#1a1a1a" stroke-width="0.9"/>
<polygon points="196.5,260.18 197.82,262.46 195.18,262.46" fill="#a8c07a"/>
<polygon points="197.8,260.76 199.12,263.04 196.48,263.04" fill="#a8c07a"/>
<polygon points="199.1,260.18 200.42,262.46 197.78,262.46" fill="#a8c07a"/>
<line x1="194.3" y1="261.74" x2="201.3" y2="261.74" stroke="#1a1a1a" stroke-width="0.9"/>
<line x1="197.8" y1="261.55" x2="197.8" y2="261.94" stroke="#1a1a1a" stroke-width="0.9"/>
<line x1="196.05" y1="261.55" x2="199.55" y2="261.55" stroke="#1a1a1a" stroke-width="0.9"/>
<line x1="196.05" y1="261.94" x2="199.55" y2="261.94" stroke="#1a1a1a" stroke-width="0.9"/>
<polygon points="203.2,262.91 204.52,260.63 201.88,260.63" fill="#2b2740"/>
<polygon points="204.5,262.33 205.82,260.05 203.18,260.05" fill="#2b2740"/>
<polygon points="205.8,262.91 207.12,260.63 204.48,260.63" fill="#2b2740"/>
<line x1="201" y1="261.35" x2="208" y2="261.35" stroke="#1a1a1a" stroke-width="0.9"/>
<line x1="204.5" y1="261.16" x2="204.5" y2="261.55" stroke="#1a1a1a" stroke-width="0.9"/>
<line x1="202.75" y1="261.16" x2="206.25" y2="261.16" stroke="#1a1a1a" stroke-width="0.9"/>
<line x1="202.75" y1="261.55" x2="206.25" y2="261.55" stroke="#1a1a1a" stroke-width="0.9"/>
<circle cx="214.7" cy="248.09" r="1.2" fill="#a51a3e"/>
<circle cx="216" cy="257.45" r="1.2" fill="#a51a3e"/>
<circle cx="217.3" cy="258.62" r="1.2" fill="#a51a3e"/>
<circle cx="214.7" cy="260.38" r="1.2" fill="#a51a3e"/>
<circle cx="216" cy="259.2" r="1.2" fill="#a51a3e"/>
<line x1="212.5" y1="256.75" x2="219.5" y2="256.75" stroke="#1a1a1a" stroke-width="0.9"/>
<line x1="216" y1="254.53" x2="216" y2="258.96" stroke="#1a1a1a" stroke-width="0.9"/>
<line x1="214.25" y1="254.53" x2="217.75" y2="254.53" stroke="#1a1a1a" stroke-width="0.9"/>
<line x1="214.25" y1="258.96" x2="217.75" y2="258.96" stroke="#1a1a1a" stroke-width="0.9"/>
<rect x="219.8" y="257.42" width="2.4" height="2.4" fill="#22426e"/>
<rect x="221.1" y="258.59" width="2.4" height="2.4" fill="#22426e"/>
<rect x="222.4" y="259.18" width="2.4" height="2.4" fill="#22426e"/>
<rect x="219.8" y="258" width="2.4" height="2.4" fill="#22426e"/>
<line x1="218.8" y1="259.5" x2="225.8" y2="259.5" stroke="#1a1a1a" stroke-width="0.9"/>
<line x1="222.3" y1="259.12" x2="222.3" y2="259.88" stroke="#1a1a1a" stroke-width="0.9"/>
<line x1="220.55" y1="259.12" x2="224.05" y2="259.12" stroke="#1a1a1a" stroke-width="0.9"/>
<line x1="220.55" y1="259.88" x2="224.05" y2="259.88" stroke="#1a1a1a" stroke-width="0.9"/>
<polygon points="228,259.59 229.32,261.87 226.68,261.87" fill="#a8c07a"/>
<polygon points="229.3,260.18 230.62,262.46 227.98,262.46" fill="#a8c07a"/>
<polygon points="230.6,259.59 231.92,261.87 229.28,261.87" fill="#a8c07a"/>
<line x1="225.8" y1="261.16" x2="232.8" y2="261.16" stroke="#1a1a1a" stroke-width="0.9"/>
<line x1="229.3" y1="260.96" x2="229.3" y2="261.35" stroke="#1a1a1a" stroke-width="0.9"/>
<line x1="227.55" y1="260.96" x2="231.05" y2="260.96" stroke="#1a1a1a" stroke-width="0.9"/>
<line x1="227.55" y1="261.35" x2="231.05" y2="261.35" stroke="#1a1a1a" stroke-width="0.9"/>
<polygon points="234.7,262.91 236.02,260.63 233.38,260.63" fill="#2b2740"/>
<polygon points="236,262.91 237.32,260.63 234.68,260.63" fill="#2b2740"/>
<polygon points="237.3,262.91 238.62,260.63 235.98,260.63" fill="#2b2740"/>
<line x1="232.5" y1="261.55" x2="239.5" y2="261.55" stroke="#1a1a1a" stroke-width="0.9"/>
<line x1="236" y1="261.55" x2="236" y2="261.55" stroke="#1a1a1a" stroke-width="0.9"/>
<line x1="234.25" y1="261.55" x2="237.75" y2="261.55" stroke="#1a1a1a" stroke-width="0.9"/>
<line x1="234.25" y1="261.55" x2="237.75" y2="261.55" stroke="#1a1a1a" stroke-width="0.9"/>
<circle cx="200" cy="195" r="1.6" fill="#a51a3e"/>
<text x="0" y="0" font-size="7.3" text-anchor="start" fill="#1e1e1e" transform="translate(204.5 197.63) scale(1 1.12)">Ctrl</text>
<rect x="198.4" y="200.9" width="3.2" height="3.2" fill="#22426e"/>
<text x="0" y="0" font-size="7.3" text-anchor="start" fill="#1e1e1e" transform="translate(204.5 205.13) scale(1 1.12)">Nil</text>
<polygon points="200,208.18 201.76,211.22 198.24,211.22" fill="#a8c07a"/>
<text x="0" y="0" font-size="7.3" text-anchor="start" fill="#1e1e1e" transform="translate(204.5 212.63) scale(1 1.12)">WNT974</text>
<polygon points="200,219.32 201.76,216.28 198.24,216.28" fill="#2b2740"/>
<text x="0" y="0" font-size="7.3" text-anchor="start" fill="#1e1e1e" transform="translate(204.5 220.13) scale(1 1.12)">Nil + WNT974</text>
<text x="72" y="273" font-size="7.4" text-anchor="end" fill="#1e1e1e" transform="rotate(-45 72 273)">CD34<tspan font-size="6.29" dx="0.4" dy="-2.0">+</tspan></text>
<text x="103.8" y="273" font-size="7.4" text-anchor="end" fill="#1e1e1e" transform="rotate(-45 103.8 273)">CD33<tspan font-size="6.29" dx="0.4" dy="-2.0">+</tspan></text>
<text x="135.6" y="273" font-size="7.4" text-anchor="end" fill="#1e1e1e" transform="rotate(-45 135.6 273)">CD3<tspan font-size="6.29" dx="0.4" dy="-2.0">+</tspan></text>
<text x="167.4" y="273" font-size="7.4" text-anchor="end" fill="#1e1e1e" transform="rotate(-45 167.4 273)">CD19<tspan font-size="6.29" dx="0.4" dy="-2.0">+</tspan></text>
<text x="198.8" y="273" font-size="7.4" text-anchor="end" fill="#1e1e1e" transform="rotate(-45 198.8 273)">CD14<tspan font-size="6.29" dx="0.4" dy="-2.0">+</tspan></text>
<text x="230.3" y="273" font-size="7.4" text-anchor="end" fill="#1e1e1e" transform="rotate(-45 230.3 273)">CD15<tspan font-size="6.29" dx="0.4" dy="-2.0">+</tspan></text>
<text x="0" y="0" font-size="11" text-anchor="start" font-weight="bold" fill="#000" transform="translate(261.5 173.4)">E</text>
<text x="0" y="0" font-size="8" text-anchor="middle" font-weight="bold" fill="#1e1e1e" transform="translate(386.1 186.6) scale(1 1.12)">CML CD34+ cells</text>
<line x1="290" y1="190.5" x2="290" y2="263.9" stroke="#1e1e1e" stroke-width="1.1"/>
<line x1="287.5" y1="193" x2="290" y2="193" stroke="#1e1e1e" stroke-width="1.1"/>
<text x="0" y="0" font-size="7.6" text-anchor="end" fill="#1e1e1e" transform="translate(286.1 195.74) scale(1 1.12)">120</text>
<line x1="287.5" y1="204.72" x2="290" y2="204.72" stroke="#1e1e1e" stroke-width="1.1"/>
<text x="0" y="0" font-size="7.6" text-anchor="end" fill="#1e1e1e" transform="translate(286.1 207.46) scale(1 1.12)">100</text>
<line x1="287.5" y1="216.44" x2="290" y2="216.44" stroke="#1e1e1e" stroke-width="1.1"/>
<text x="0" y="0" font-size="7.6" text-anchor="end" fill="#1e1e1e" transform="translate(286.1 219.18) scale(1 1.12)">80</text>
<line x1="287.5" y1="228.16" x2="290" y2="228.16" stroke="#1e1e1e" stroke-width="1.1"/>
<text x="0" y="0" font-size="7.6" text-anchor="end" fill="#1e1e1e" transform="translate(286.1 230.9) scale(1 1.12)">60</text>
<line x1="287.5" y1="239.88" x2="290" y2="239.88" stroke="#1e1e1e" stroke-width="1.1"/>
<text x="0" y="0" font-size="7.6" text-anchor="end" fill="#1e1e1e" transform="translate(286.1 242.62) scale(1 1.12)">40</text>
<line x1="287.5" y1="251.6" x2="290" y2="251.6" stroke="#1e1e1e" stroke-width="1.1"/>
<text x="0" y="0" font-size="7.6" text-anchor="end" fill="#1e1e1e" transform="translate(286.1 254.34) scale(1 1.12)">20</text>
<line x1="287.5" y1="263.32" x2="290" y2="263.32" stroke="#1e1e1e" stroke-width="1.1"/>
<text x="0" y="0" font-size="7.6" text-anchor="end" fill="#1e1e1e" transform="translate(286.1 266.06) scale(1 1.12)">0</text>
<text x="0" y="0" font-size="8.0" text-anchor="middle" fill="#1e1e1e" transform="translate(267.3 227.2) rotate(-90) scale(1 1.12)">% of human CD45+ cells</text>
<line x1="290" y1="263.4" x2="482" y2="263.4" stroke="#1e1e1e" stroke-width="1.1"/>
<line x1="306" y1="263.4" x2="306" y2="266.4" stroke="#1e1e1e" stroke-width="1.1"/>
<line x1="337.9" y1="263.4" x2="337.9" y2="266.4" stroke="#1e1e1e" stroke-width="1.1"/>
<line x1="369.6" y1="263.4" x2="369.6" y2="266.4" stroke="#1e1e1e" stroke-width="1.1"/>
<line x1="401.5" y1="263.4" x2="401.5" y2="266.4" stroke="#1e1e1e" stroke-width="1.1"/>
<line x1="433.5" y1="263.4" x2="433.5" y2="266.4" stroke="#1e1e1e" stroke-width="1.1"/>
<line x1="465.6" y1="263.4" x2="465.6" y2="266.4" stroke="#1e1e1e" stroke-width="1.1"/>
<rect x="291.9" y="261.62" width="6.6" height="3" rx="1.5" fill="#a51a3e"/>
<circle cx="302.1" cy="263.12" r="1.5" fill="#22426e"/>
<line x1="299.6" y1="263.12" x2="304.6" y2="263.12" stroke="#222" stroke-width="0.9"/>
<line x1="306.8" y1="263.12" x2="310.8" y2="263.12" stroke="#445" stroke-width="1.2"/>
<rect x="313.7" y="261.82" width="5.6" height="2.6" rx="1.3" fill="#2b2740"/>
<rect x="323.8" y="203.3" width="6.6" height="3" rx="1.5" fill="#a51a3e"/>
<circle cx="334" cy="204.8" r="1.5" fill="#22426e"/>
<line x1="331.5" y1="204.8" x2="336.5" y2="204.8" stroke="#222" stroke-width="0.9"/>
<line x1="338.7" y1="204.8" x2="342.7" y2="204.8" stroke="#445" stroke-width="1.2"/>
<rect x="345.6" y="203.5" width="5.6" height="2.6" rx="1.3" fill="#2b2740"/>
<rect x="355.5" y="261.62" width="6.6" height="3" rx="1.5" fill="#a51a3e"/>
<circle cx="365.7" cy="263.12" r="1.5" fill="#22426e"/>
<line x1="363.2" y1="263.12" x2="368.2" y2="263.12" stroke="#222" stroke-width="0.9"/>
<line x1="370.4" y1="263.12" x2="374.4" y2="263.12" stroke="#445" stroke-width="1.2"/>
<rect x="377.3" y="261.82" width="5.6" height="2.6" rx="1.3" fill="#2b2740"/>
<rect x="387.4" y="261.62" width="6.6" height="3" rx="1.5" fill="#a51a3e"/>
<circle cx="397.6" cy="263.12" r="1.5" fill="#22426e"/>
<line x1="395.1" y1="263.12" x2="400.1" y2="263.12" stroke="#222" stroke-width="0.9"/>
<line x1="402.3" y1="263.12" x2="406.3" y2="263.12" stroke="#445" stroke-width="1.2"/>
<rect x="409.2" y="261.82" width="5.6" height="2.6" rx="1.3" fill="#2b2740"/>
<rect x="419.4" y="261.62" width="6.6" height="3" rx="1.5" fill="#a51a3e"/>
<circle cx="429.6" cy="263.12" r="1.5" fill="#22426e"/>
<line x1="427.1" y1="263.12" x2="432.1" y2="263.12" stroke="#222" stroke-width="0.9"/>
<line x1="434.3" y1="263.12" x2="438.3" y2="263.12" stroke="#445" stroke-width="1.2"/>
<rect x="441.2" y="261.82" width="5.6" height="2.6" rx="1.3" fill="#2b2740"/>
<rect x="451.5" y="261.62" width="6.6" height="3" rx="1.5" fill="#a51a3e"/>
<circle cx="461.7" cy="263.12" r="1.5" fill="#22426e"/>
<line x1="459.2" y1="263.12" x2="464.2" y2="263.12" stroke="#222" stroke-width="0.9"/>
<line x1="466.4" y1="263.12" x2="470.4" y2="263.12" stroke="#445" stroke-width="1.2"/>
<rect x="473.3" y="261.82" width="5.6" height="2.6" rx="1.3" fill="#2b2740"/>
<circle cx="435" cy="195" r="1.6" fill="#a51a3e"/>
<text x="0" y="0" font-size="7.3" text-anchor="start" fill="#1e1e1e" transform="translate(439.5 197.63) scale(1 1.12)">Ctrl</text>
<rect x="433.4" y="200.9" width="3.2" height="3.2" fill="#22426e"/>
<text x="0" y="0" font-size="7.3" text-anchor="start" fill="#1e1e1e" transform="translate(439.5 205.13) scale(1 1.12)">Nil</text>
<polygon points="435,208.18 436.76,211.22 433.24,211.22" fill="#a8c07a"/>
<text x="0" y="0" font-size="7.3" text-anchor="start" fill="#1e1e1e" transform="translate(439.5 212.63) scale(1 1.12)">WNT974</text>
<polygon points="435,219.82 436.76,216.78 433.24,216.78" fill="#2b2740"/>
<text x="0" y="0" font-size="7.3" text-anchor="start" fill="#1e1e1e" transform="translate(439.5 220.63) scale(1 1.12)">Nil + WNT974</text>
<text x="310.4" y="273" font-size="7.4" text-anchor="end" fill="#1e1e1e" transform="rotate(-45 310.4 273)">CD34<tspan font-size="6.29" dx="0.4" dy="-2.0">+</tspan></text>
<text x="342.3" y="273" font-size="7.4" text-anchor="end" fill="#1e1e1e" transform="rotate(-45 342.3 273)">CD33<tspan font-size="6.29" dx="0.4" dy="-2.0">+</tspan></text>
<text x="374" y="273" font-size="7.4" text-anchor="end" fill="#1e1e1e" transform="rotate(-45 374 273)">CD3<tspan font-size="6.29" dx="0.4" dy="-2.0">+</tspan></text>
<text x="405.9" y="273" font-size="7.4" text-anchor="end" fill="#1e1e1e" transform="rotate(-45 405.9 273)">CD19<tspan font-size="6.29" dx="0.4" dy="-2.0">+</tspan></text>
<text x="437.9" y="273" font-size="7.4" text-anchor="end" fill="#1e1e1e" transform="rotate(-45 437.9 273)">CD14<tspan font-size="6.29" dx="0.4" dy="-2.0">+</tspan></text>
<text x="470" y="273" font-size="7.4" text-anchor="end" fill="#1e1e1e" transform="rotate(-45 470 273)">CD15<tspan font-size="6.29" dx="0.4" dy="-2.0">+</tspan></text>
<text x="0" y="0" font-size="11" text-anchor="start" font-weight="bold" fill="#000" transform="translate(21.5 313.2)">F</text>
<text x="0" y="0" font-size="7.6" text-anchor="middle" font-weight="bold" fill="#1e1e1e" transform="translate(101.5 324) scale(1 1.12)">Ctrl</text>
<line x1="55.8" y1="337.1" x2="58" y2="337.1" stroke="#1e1e1e" stroke-width="0.9"/>
<text x="0" y="0" font-size="5.6" text-anchor="end" fill="#333" transform="translate(52 339.1) scale(1 1.12)">10</text>
<text x="0" y="0" font-size="3.5" text-anchor="start" fill="#333" transform="translate(52.1 336.4) scale(1 1.12)">5</text>
<line x1="55.8" y1="356.8" x2="58" y2="356.8" stroke="#1e1e1e" stroke-width="0.9"/>
<text x="0" y="0" font-size="5.6" text-anchor="end" fill="#333" transform="translate(52 358.8) scale(1 1.12)">10</text>
<text x="0" y="0" font-size="3.5" text-anchor="start" fill="#333" transform="translate(52.1 356.1) scale(1 1.12)">4</text>
<line x1="55.8" y1="381.1" x2="58" y2="381.1" stroke="#1e1e1e" stroke-width="0.9"/>
<text x="0" y="0" font-size="5.6" text-anchor="end" fill="#333" transform="translate(52 383.1) scale(1 1.12)">10</text>
<text x="0" y="0" font-size="3.5" text-anchor="start" fill="#333" transform="translate(52.1 380.4) scale(1 1.12)">3</text>
<line x1="55.8" y1="396" x2="58" y2="396" stroke="#1e1e1e" stroke-width="0.9"/>
<text x="0" y="0" font-size="5.6" text-anchor="end" fill="#333" transform="translate(54 398) scale(1 1.12)">0</text>
<line x1="55.8" y1="412" x2="58" y2="412" stroke="#1e1e1e" stroke-width="0.9"/>
<text x="0" y="0" font-size="5.6" text-anchor="end" fill="#333" transform="translate(52 414) scale(1 1.12)">-10</text>
<text x="0" y="0" font-size="3.5" text-anchor="start" fill="#333" transform="translate(52.1 411.3) scale(1 1.12)">3</text>
<line x1="56.8" y1="350.87" x2="58" y2="350.87" stroke="#1e1e1e" stroke-width="0.6"/>
<line x1="56.8" y1="347.4" x2="58" y2="347.4" stroke="#1e1e1e" stroke-width="0.6"/>
<line x1="56.8" y1="344.94" x2="58" y2="344.94" stroke="#1e1e1e" stroke-width="0.6"/>
<line x1="56.8" y1="343.03" x2="58" y2="343.03" stroke="#1e1e1e" stroke-width="0.6"/>
<line x1="56.8" y1="341.47" x2="58" y2="341.47" stroke="#1e1e1e" stroke-width="0.6"/>
<line x1="56.8" y1="340.15" x2="58" y2="340.15" stroke="#1e1e1e" stroke-width="0.6"/>
<line x1="56.8" y1="339.01" x2="58" y2="339.01" stroke="#1e1e1e" stroke-width="0.6"/>
<line x1="56.8" y1="338" x2="58" y2="338" stroke="#1e1e1e" stroke-width="0.6"/>
<line x1="56.8" y1="373.78" x2="58" y2="373.78" stroke="#1e1e1e" stroke-width="0.6"/>
<line x1="56.8" y1="369.51" x2="58" y2="369.51" stroke="#1e1e1e" stroke-width="0.6"/>
<line x1="56.8" y1="366.47" x2="58" y2="366.47" stroke="#1e1e1e" stroke-width="0.6"/>
<line x1="56.8" y1="364.12" x2="58" y2="364.12" stroke="#1e1e1e" stroke-width="0.6"/>
<line x1="56.8" y1="362.19" x2="58" y2="362.19" stroke="#1e1e1e" stroke-width="0.6"/>
<line x1="56.8" y1="360.56" x2="58" y2="360.56" stroke="#1e1e1e" stroke-width="0.6"/>
<line x1="56.8" y1="359.15" x2="58" y2="359.15" stroke="#1e1e1e" stroke-width="0.6"/>
<line x1="56.8" y1="357.91" x2="58" y2="357.91" stroke="#1e1e1e" stroke-width="0.6"/>
<line x1="63" y1="415.1" x2="63" y2="417.3" stroke="#1e1e1e" stroke-width="0.9"/>
<text x="0" y="0" font-size="5.6" text-anchor="middle" fill="#333" transform="translate(63.2 424.6) scale(1 1.12)">-10</text>
<text x="0" y="0" font-size="3.5" text-anchor="start" fill="#333" transform="translate(66.2 421.6) scale(1 1.12)">3</text>
<line x1="77" y1="415.1" x2="77" y2="417.3" stroke="#1e1e1e" stroke-width="0.9"/>
<text x="0" y="0" font-size="5.6" text-anchor="middle" fill="#333" transform="translate(77 424.6) scale(1 1.12)">0</text>
<line x1="93.3" y1="415.1" x2="93.3" y2="417.3" stroke="#1e1e1e" stroke-width="0.9"/>
<text x="0" y="0" font-size="5.6" text-anchor="middle" fill="#333" transform="translate(93.5 424.6) scale(1 1.12)">10</text>
<text x="0" y="0" font-size="3.5" text-anchor="start" fill="#333" transform="translate(96.5 421.6) scale(1 1.12)">3</text>
<line x1="117" y1="415.1" x2="117" y2="417.3" stroke="#1e1e1e" stroke-width="0.9"/>
<text x="0" y="0" font-size="5.6" text-anchor="middle" fill="#333" transform="translate(117.2 424.6) scale(1 1.12)">10</text>
<text x="0" y="0" font-size="3.5" text-anchor="start" fill="#333" transform="translate(120.2 421.6) scale(1 1.12)">4</text>
<line x1="137.5" y1="415.1" x2="137.5" y2="417.3" stroke="#1e1e1e" stroke-width="0.9"/>
<text x="0" y="0" font-size="5.6" text-anchor="middle" fill="#333" transform="translate(137.7 424.6) scale(1 1.12)">10</text>
<text x="0" y="0" font-size="3.5" text-anchor="start" fill="#333" transform="translate(140.7 421.6) scale(1 1.12)">5</text>
<line x1="100.43" y1="415.1" x2="100.43" y2="416.3" stroke="#1e1e1e" stroke-width="0.6"/>
<line x1="104.61" y1="415.1" x2="104.61" y2="416.3" stroke="#1e1e1e" stroke-width="0.6"/>
<line x1="107.57" y1="415.1" x2="107.57" y2="416.3" stroke="#1e1e1e" stroke-width="0.6"/>
<line x1="109.87" y1="415.1" x2="109.87" y2="416.3" stroke="#1e1e1e" stroke-width="0.6"/>
<line x1="111.74" y1="415.1" x2="111.74" y2="416.3" stroke="#1e1e1e" stroke-width="0.6"/>
<line x1="113.33" y1="415.1" x2="113.33" y2="416.3" stroke="#1e1e1e" stroke-width="0.6"/>
<line x1="114.7" y1="415.1" x2="114.7" y2="416.3" stroke="#1e1e1e" stroke-width="0.6"/>
<line x1="115.92" y1="415.1" x2="115.92" y2="416.3" stroke="#1e1e1e" stroke-width="0.6"/>
<line x1="123.17" y1="415.1" x2="123.17" y2="416.3" stroke="#1e1e1e" stroke-width="0.6"/>
<line x1="126.78" y1="415.1" x2="126.78" y2="416.3" stroke="#1e1e1e" stroke-width="0.6"/>
<line x1="129.34" y1="415.1" x2="129.34" y2="416.3" stroke="#1e1e1e" stroke-width="0.6"/>
<line x1="131.33" y1="415.1" x2="131.33" y2="416.3" stroke="#1e1e1e" stroke-width="0.6"/>
<line x1="132.95" y1="415.1" x2="132.95" y2="416.3" stroke="#1e1e1e" stroke-width="0.6"/>
<line x1="134.32" y1="415.1" x2="134.32" y2="416.3" stroke="#1e1e1e" stroke-width="0.6"/>
<line x1="135.51" y1="415.1" x2="135.51" y2="416.3" stroke="#1e1e1e" stroke-width="0.6"/>
<line x1="136.56" y1="415.1" x2="136.56" y2="416.3" stroke="#1e1e1e" stroke-width="0.6"/>
<text x="101.6" y="432.8" font-size="7.4" text-anchor="middle" fill="#2a2a2a" textLength="63" lengthAdjust="spacingAndGlyphs">Comp-APC-A::CD45</text>
<text x="41.7" y="372.4" font-size="7.4" text-anchor="middle" fill="#2a2a2a" textLength="55" lengthAdjust="spacingAndGlyphs" transform="rotate(-90 41.7 372.4)">Comp-PE-A::CD33</text>
<path d="M83.55 372.61h0.85v0.85h-0.85zM82.71 368.96h0.85v0.85h-0.85zM78.47 378.17h0.85v0.85h-0.85zM86.48 368.53h0.85v0.85h-0.85zM86.72 379.81h0.85v0.85h-0.85zM85.19 358.06h0.85v0.85h-0.85zM71.82 375.84h0.85v0.85h-0.85zM76.03 371.33h0.85v0.85h-0.85zM82.04 375.29h0.85v0.85h-0.85zM74.52 373.3h0.85v0.85h-0.85zM94.35 369.69h0.85v0.85h-0.85zM81.77 375.76h0.85v0.85h-0.85zM75.46 362.76h0.85v0.85h-0.85zM83.42 378.44h0.85v0.85h-0.85zM82.44 379.29h0.85v0.85h-0.85zM79.22 380.02h0.85v0.85h-0.85zM77.65 371.7h0.85v0.85h-0.85zM71.49 349.33h0.85v0.85h-0.85zM94.42 372.53h0.85v0.85h-0.85zM89.17 355.19h0.85v0.85h-0.85zM85.13 367.42h0.85v0.85h-0.85zM87.98 394.46h0.85v0.85h-0.85zM87.24 368.31h0.85v0.85h-0.85zM77.58 374.19h0.85v0.85h-0.85zM83.16 380.45h0.85v0.85h-0.85zM106.45 382.45h0.85v0.85h-0.85zM74.93 364.36h0.85v0.85h-0.85zM79.93 371.03h0.85v0.85h-0.85zM84.52 359.25h0.85v0.85h-0.85zM80.32 368.98h0.85v0.85h-0.85zM78.92 363.86h0.85v0.85h-0.85zM82.19 372.94h0.85v0.85h-0.85zM76.95 367.97h0.85v0.85h-0.85zM83.34 374.14h0.85v0.85h-0.85zM73.65 356.74h0.85v0.85h-0.85zM69.68 362.89h0.85v0.85h-0.85zM84.98 377.83h0.85v0.85h-0.85zM82.24 356.05h0.85v0.85h-0.85zM78.36 388.26h0.85v0.85h-0.85zM88.81 370.42h0.85v0.85h-0.85zM75.34 363.99h0.85v0.85h-0.85zM88.88 364.91h0.85v0.85h-0.85zM85.23 376.74h0.85v0.85h-0.85zM89.46 374.95h0.85v0.85h-0.85zM78.95 365.78h0.85v0.85h-0.85zM78.24 371.87h0.85v0.85h-0.85zM76.89 364.91h0.85v0.85h-0.85zM74.84 384.13h0.85v0.85h-0.85zM107.41 385.67h0.85v0.85h-0.85zM122.25 383.1h0.85v0.85h-0.85zM113.06 397.24h0.85v0.85h-0.85zM103.28 396.63h0.85v0.85h-0.85zM109.38 394.99h0.85v0.85h-0.85zM117.69 380.41h0.85v0.85h-0.85zM122.07 382.33h0.85v0.85h-0.85zM127.59 388.55h0.85v0.85h-0.85zM106.41 389.38h0.85v0.85h-0.85zM121.41 395.01h0.85v0.85h-0.85zM126.82 395.38h0.85v0.85h-0.85zM121.8 386.2h0.85v0.85h-0.85zM102.85 392.84h0.85v0.85h-0.85zM119.05 389.59h0.85v0.85h-0.85zM113.98 389.09h0.85v0.85h-0.85zM104.27 389.14h0.85v0.85h-0.85zM112.47 389.61h0.85v0.85h-0.85zM131.02 391.49h0.85v0.85h-0.85zM97.56 395.71h0.85v0.85h-0.85zM111.02 399.01h0.85v0.85h-0.85zM82.8 401.45h0.85v0.85h-0.85zM94.73 396.32h0.85v0.85h-0.85zM102.66 400.61h0.85v0.85h-0.85zM136.25 384.11h0.85v0.85h-0.85zM111.34 392.21h0.85v0.85h-0.85zM95.65 391.96h0.85v0.85h-0.85zM105.87 384.27h0.85v0.85h-0.85zM118.02 395.84h0.85v0.85h-0.85zM119.61 386.68h0.85v0.85h-0.85zM103.06 387.53h0.85v0.85h-0.85zM101.8 346.28h0.85v0.85h-0.85zM75.1 382.66h0.85v0.85h-0.85zM109.94 359.87h0.85v0.85h-0.85zM142.28 383.18h0.85v0.85h-0.85zM63.5 364.66h0.85v0.85h-0.85zM125.22 356.04h0.85v0.85h-0.85zM117.19 331.12h0.85v0.85h-0.85zM85.21 400.11h0.85v0.85h-0.85zM108.54 385.79h0.85v0.85h-0.85zM76.28 371.77h0.85v0.85h-0.85zM105.81 352.69h0.85v0.85h-0.85zM113.56 374.54h0.85v0.85h-0.85zM142.56 378.08h0.85v0.85h-0.85zM94.04 340.8h0.85v0.85h-0.85zM72.98 393.31h0.85v0.85h-0.85zM68.83 339.04h0.85v0.85h-0.85zM74.12 373.8h0.85v0.85h-0.85zM128.16 381.25h0.85v0.85h-0.85z" fill="#000" opacity="0.15"/>
<path d="M86.49 387.13h0.85v0.85h-0.85zM62.93 393.54h0.85v0.85h-0.85zM100.68 375.83h0.85v0.85h-0.85zM92.42 387.63h0.85v0.85h-0.85zM89.47 379.23h0.85v0.85h-0.85zM74.85 386.13h0.85v0.85h-0.85zM76.4 388.1h0.85v0.85h-0.85zM70.17 391.81h0.85v0.85h-0.85zM105.48 376.53h0.85v0.85h-0.85zM84 389.24h0.85v0.85h-0.85zM88.04 399.46h0.85v0.85h-0.85zM98.4 381.61h0.85v0.85h-0.85zM75.32 388.46h0.85v0.85h-0.85zM99.23 372.98h0.85v0.85h-0.85zM101.17 374.94h0.85v0.85h-0.85zM75.55 386.98h0.85v0.85h-0.85zM87.22 380.37h0.85v0.85h-0.85zM93.95 378.02h0.85v0.85h-0.85zM101.21 381.19h0.85v0.85h-0.85zM78.62 386.04h0.85v0.85h-0.85zM79.76 381.85h0.85v0.85h-0.85zM84.49 383.78h0.85v0.85h-0.85zM100.1 374.09h0.85v0.85h-0.85zM86.75 385.54h0.85v0.85h-0.85zM83.96 384.25h0.85v0.85h-0.85zM78.39 390.22h0.85v0.85h-0.85zM71.01 395.87h0.85v0.85h-0.85zM99.56 381.13h0.85v0.85h-0.85zM86.12 379.19h0.85v0.85h-0.85zM95.64 374.68h0.85v0.85h-0.85zM74.63 385.83h0.85v0.85h-0.85zM90.47 370.81h0.85v0.85h-0.85zM95.29 384.72h0.85v0.85h-0.85zM97.82 374.67h0.85v0.85h-0.85zM96.36 385.41h0.85v0.85h-0.85zM71.86 395.18h0.85v0.85h-0.85zM70.52 397.25h0.85v0.85h-0.85zM85.19 381.27h0.85v0.85h-0.85zM79.9 383.84h0.85v0.85h-0.85zM109.2 369.95h0.85v0.85h-0.85zM95.42 377.59h0.85v0.85h-0.85zM96.21 378.12h0.85v0.85h-0.85zM93.92 367.95h0.85v0.85h-0.85zM73.53 391.44h0.85v0.85h-0.85zM98.44 368.34h0.85v0.85h-0.85zM87.49 379.95h0.85v0.85h-0.85zM70.44 396.63h0.85v0.85h-0.85zM87.86 380.29h0.85v0.85h-0.85zM90.36 386.26h0.85v0.85h-0.85zM73 392.88h0.85v0.85h-0.85zM74.45 395.18h0.85v0.85h-0.85zM106.82 364.16h0.85v0.85h-0.85zM90.07 378.81h0.85v0.85h-0.85zM81.69 390.62h0.85v0.85h-0.85zM87.33 370.83h0.85v0.85h-0.85zM92.05 377.84h0.85v0.85h-0.85zM75.25 389.55h0.85v0.85h-0.85zM83.72 385.76h0.85v0.85h-0.85zM90.63 394.25h0.85v0.85h-0.85zM85.3 382.35h0.85v0.85h-0.85zM88.54 378.96h0.85v0.85h-0.85zM88.26 383.93h0.85v0.85h-0.85zM88.42 380.31h0.85v0.85h-0.85zM95.18 375.96h0.85v0.85h-0.85zM106.69 372.77h0.85v0.85h-0.85zM96.41 376.34h0.85v0.85h-0.85zM91.74 362h0.85v0.85h-0.85zM107.13 370.86h0.85v0.85h-0.85zM97.29 375.68h0.85v0.85h-0.85zM98.24 375.39h0.85v0.85h-0.85zM80.65 391.18h0.85v0.85h-0.85zM71.04 389.19h0.85v0.85h-0.85zM101.72 372.31h0.85v0.85h-0.85zM112.6 368.86h0.85v0.85h-0.85zM97.22 379.15h0.85v0.85h-0.85zM93.11 389.98h0.85v0.85h-0.85zM87.13 387.76h0.85v0.85h-0.85zM102.61 380.85h0.85v0.85h-0.85zM80.72 376.96h0.85v0.85h-0.85zM101.77 368.14h0.85v0.85h-0.85zM91.75 373.32h0.85v0.85h-0.85zM71.41 391.28h0.85v0.85h-0.85zM87.08 383.67h0.85v0.85h-0.85zM84.51 378.22h0.85v0.85h-0.85zM94.58 388.64h0.85v0.85h-0.85zM85.81 376.15h0.85v0.85h-0.85zM74.17 384.88h0.85v0.85h-0.85zM92.99 379.11h0.85v0.85h-0.85zM76.07 392.66h0.85v0.85h-0.85zM113.95 363.3h0.85v0.85h-0.85zM99.31 375.03h0.85v0.85h-0.85zM98.78 369.46h0.85v0.85h-0.85zM80.47 382.53h0.85v0.85h-0.85zM79.68 391.65h0.85v0.85h-0.85zM89.89 379.11h0.85v0.85h-0.85zM103.17 368.03h0.85v0.85h-0.85zM87.76 376.92h0.85v0.85h-0.85zM90.5 373.37h0.85v0.85h-0.85zM63.2 401.18h0.85v0.85h-0.85zM76.17 388.95h0.85v0.85h-0.85zM100.56 374.26h0.85v0.85h-0.85zM79.12 387.74h0.85v0.85h-0.85zM86.28 386.4h0.85v0.85h-0.85zM77.55 398.27h0.85v0.85h-0.85zM76.96 397.28h0.85v0.85h-0.85zM82.28 390.76h0.85v0.85h-0.85zM99.99 379.89h0.85v0.85h-0.85zM96.97 366.85h0.85v0.85h-0.85zM100.49 373.06h0.85v0.85h-0.85zM96.23 376.57h0.85v0.85h-0.85zM90.69 384.59h0.85v0.85h-0.85zM107.72 374.85h0.85v0.85h-0.85zM87.68 378.9h0.85v0.85h-0.85zM80.1 384.32h0.85v0.85h-0.85zM84.91 382.32h0.85v0.85h-0.85zM85.81 398.3h0.85v0.85h-0.85zM83.03 389.19h0.85v0.85h-0.85zM88.62 387.77h0.85v0.85h-0.85zM79.97 389.18h0.85v0.85h-0.85zM94.47 376.6h0.85v0.85h-0.85zM83.73 378.76h0.85v0.85h-0.85zM80.33 388.36h0.85v0.85h-0.85zM103.01 378.09h0.85v0.85h-0.85zM96.62 372.87h0.85v0.85h-0.85zM90.59 381.67h0.85v0.85h-0.85zM74.58 397.01h0.85v0.85h-0.85zM73.94 371.75h0.85v0.85h-0.85zM99.98 377.88h0.85v0.85h-0.85zM105.7 375.85h0.85v0.85h-0.85zM74.47 402.01h0.85v0.85h-0.85zM88.06 373.75h0.85v0.85h-0.85zM81.78 352.75h0.85v0.85h-0.85zM81.27 386.25h0.85v0.85h-0.85zM86.33 373h0.85v0.85h-0.85zM80.56 362.16h0.85v0.85h-0.85zM85.29 352.7h0.85v0.85h-0.85zM77.82 366.99h0.85v0.85h-0.85zM66.24 384.79h0.85v0.85h-0.85zM83.49 376.26h0.85v0.85h-0.85zM82.93 364.62h0.85v0.85h-0.85zM76.71 368.45h0.85v0.85h-0.85zM88.36 379.48h0.85v0.85h-0.85zM86.39 356.72h0.85v0.85h-0.85zM80.33 366.82h0.85v0.85h-0.85zM83.34 373.07h0.85v0.85h-0.85zM78.18 376.29h0.85v0.85h-0.85zM79.04 382.75h0.85v0.85h-0.85zM81.01 372.89h0.85v0.85h-0.85zM78.32 364.94h0.85v0.85h-0.85zM72.13 379.69h0.85v0.85h-0.85zM84.57 370.05h0.85v0.85h-0.85zM74.48 358.31h0.85v0.85h-0.85zM79.02 368.07h0.85v0.85h-0.85zM83.72 377.76h0.85v0.85h-0.85zM85.24 370.02h0.85v0.85h-0.85zM79.38 365.07h0.85v0.85h-0.85zM75.85 365.34h0.85v0.85h-0.85zM74.14 377.94h0.85v0.85h-0.85zM74.13 376.1h0.85v0.85h-0.85zM87.66 357.95h0.85v0.85h-0.85zM84.46 374.94h0.85v0.85h-0.85zM85.07 373.2h0.85v0.85h-0.85zM119.79 366.31h0.85v0.85h-0.85zM118.39 355.11h0.85v0.85h-0.85zM121.79 359.8h0.85v0.85h-0.85zM123.09 368.76h0.85v0.85h-0.85zM116.47 378.6h0.85v0.85h-0.85zM123.87 362.69h0.85v0.85h-0.85zM127.43 355.58h0.85v0.85h-0.85zM114.56 374.91h0.85v0.85h-0.85zM123.81 353.42h0.85v0.85h-0.85zM134.93 340.78h0.85v0.85h-0.85zM130 355.38h0.85v0.85h-0.85zM126.07 359.03h0.85v0.85h-0.85zM116.88 366.59h0.85v0.85h-0.85zM129.41 358.57h0.85v0.85h-0.85zM117.24 374.54h0.85v0.85h-0.85zM114.37 377.1h0.85v0.85h-0.85zM132.99 358.88h0.85v0.85h-0.85zM128.92 348.16h0.85v0.85h-0.85zM126.55 355.99h0.85v0.85h-0.85zM117.16 371.52h0.85v0.85h-0.85zM123.88 370.54h0.85v0.85h-0.85zM117.64 360.99h0.85v0.85h-0.85zM118.3 366.08h0.85v0.85h-0.85zM123.96 358.72h0.85v0.85h-0.85zM113.23 366.79h0.85v0.85h-0.85zM112.51 371.87h0.85v0.85h-0.85zM120.75 367.36h0.85v0.85h-0.85zM121.71 357.93h0.85v0.85h-0.85zM128.35 363.29h0.85v0.85h-0.85zM127.72 388.72h0.85v0.85h-0.85zM126.16 387.31h0.85v0.85h-0.85zM126.15 387.72h0.85v0.85h-0.85zM127.11 385.04h0.85v0.85h-0.85zM124.96 386.65h0.85v0.85h-0.85zM127.76 386.48h0.85v0.85h-0.85zM120.54 390.61h0.85v0.85h-0.85zM123.29 391.2h0.85v0.85h-0.85zM117.23 386.26h0.85v0.85h-0.85zM130.95 387.54h0.85v0.85h-0.85zM123.67 387.62h0.85v0.85h-0.85zM123.71 393.32h0.85v0.85h-0.85zM117.64 389.09h0.85v0.85h-0.85zM123.81 392.63h0.85v0.85h-0.85zM124.25 384.83h0.85v0.85h-0.85zM122.68 387.7h0.85v0.85h-0.85zM126.51 384.62h0.85v0.85h-0.85zM121.81 389.87h0.85v0.85h-0.85zM124.4 386.52h0.85v0.85h-0.85zM124.51 400.03h0.85v0.85h-0.85zM90.35 399.26h0.85v0.85h-0.85zM108.3 395.15h0.85v0.85h-0.85zM108.04 382.6h0.85v0.85h-0.85zM109.94 394.51h0.85v0.85h-0.85zM114.92 397.16h0.85v0.85h-0.85zM129.79 393.53h0.85v0.85h-0.85zM86.06 396.97h0.85v0.85h-0.85zM124.72 396.61h0.85v0.85h-0.85zM99.64 394.2h0.85v0.85h-0.85zM126.59 388.68h0.85v0.85h-0.85zM113.21 394.14h0.85v0.85h-0.85zM108.29 389.28h0.85v0.85h-0.85zM98.33 393.53h0.85v0.85h-0.85zM109.1 394.8h0.85v0.85h-0.85zM124.84 391.05h0.85v0.85h-0.85zM128.49 402.5h0.85v0.85h-0.85zM99.92 389.97h0.85v0.85h-0.85zM90.38 390.99h0.85v0.85h-0.85zM105.49 385.83h0.85v0.85h-0.85zM119.27 386.56h0.85v0.85h-0.85zM108.21 393.21h0.85v0.85h-0.85zM114.57 385.39h0.85v0.85h-0.85zM103.43 395.77h0.85v0.85h-0.85zM110.35 396.53h0.85v0.85h-0.85zM101.19 396.04h0.85v0.85h-0.85zM112.17 391.53h0.85v0.85h-0.85zM105.58 394.88h0.85v0.85h-0.85zM117.19 386.95h0.85v0.85h-0.85zM108.51 390.95h0.85v0.85h-0.85zM120.84 391.13h0.85v0.85h-0.85zM127.8 393.89h0.85v0.85h-0.85zM108.42 397.9h0.85v0.85h-0.85zM71.34 387.72h0.85v0.85h-0.85zM104.32 395.01h0.85v0.85h-0.85zM107.59 391.64h0.85v0.85h-0.85zM135.58 383.15h0.85v0.85h-0.85zM96.3 396.95h0.85v0.85h-0.85zM107.41 388.53h0.85v0.85h-0.85zM128.66 378.26h0.85v0.85h-0.85z" fill="#000" opacity="0.3"/>
<path d="M102.4 376.45h0.85v0.85h-0.85zM111.49 370.39h0.85v0.85h-0.85zM77.12 394.12h0.85v0.85h-0.85zM71.65 389.94h0.85v0.85h-0.85zM75.83 386.5h0.85v0.85h-0.85zM87.09 376.94h0.85v0.85h-0.85zM83.27 381.93h0.85v0.85h-0.85zM63.82 397.6h0.85v0.85h-0.85zM80.95 387.55h0.85v0.85h-0.85zM92.24 379.52h0.85v0.85h-0.85zM84.46 390.17h0.85v0.85h-0.85zM106.31 373.98h0.85v0.85h-0.85zM88.26 388.66h0.85v0.85h-0.85zM71.12 402.63h0.85v0.85h-0.85zM100.53 377.64h0.85v0.85h-0.85zM100.39 367.02h0.85v0.85h-0.85zM70.86 377.62h0.85v0.85h-0.85zM73.01 394.02h0.85v0.85h-0.85zM88.26 386.15h0.85v0.85h-0.85zM67.02 400.65h0.85v0.85h-0.85zM80.41 391.81h0.85v0.85h-0.85zM73.49 389.87h0.85v0.85h-0.85zM82.01 384.84h0.85v0.85h-0.85zM102.02 371.14h0.85v0.85h-0.85zM107.93 377.58h0.85v0.85h-0.85zM98.02 379.46h0.85v0.85h-0.85zM102.59 387.36h0.85v0.85h-0.85zM82.95 382.01h0.85v0.85h-0.85zM67.34 394.99h0.85v0.85h-0.85zM108.05 368.59h0.85v0.85h-0.85zM91.31 390.03h0.85v0.85h-0.85zM64.47 403.74h0.85v0.85h-0.85zM100.33 378.65h0.85v0.85h-0.85zM89.73 379.18h0.85v0.85h-0.85zM87.27 373.61h0.85v0.85h-0.85zM95.51 373.71h0.85v0.85h-0.85zM115.42 371.83h0.85v0.85h-0.85zM103.87 373.54h0.85v0.85h-0.85zM88.77 379.28h0.85v0.85h-0.85zM60.37 399.56h0.85v0.85h-0.85zM86.38 378.75h0.85v0.85h-0.85zM89.2 380.32h0.85v0.85h-0.85zM99.14 370.03h0.85v0.85h-0.85zM84.61 391.82h0.85v0.85h-0.85zM80.64 381.82h0.85v0.85h-0.85zM79.19 388.8h0.85v0.85h-0.85zM81.66 389.16h0.85v0.85h-0.85zM101.91 370.26h0.85v0.85h-0.85zM107.48 379.49h0.85v0.85h-0.85zM100.26 389.3h0.85v0.85h-0.85zM97.03 382.29h0.85v0.85h-0.85zM85.53 388.08h0.85v0.85h-0.85zM98.71 378.84h0.85v0.85h-0.85zM79.84 393.44h0.85v0.85h-0.85zM93.12 379h0.85v0.85h-0.85zM88.7 385.69h0.85v0.85h-0.85zM94.72 371.03h0.85v0.85h-0.85zM78.05 393.99h0.85v0.85h-0.85zM111.33 371.95h0.85v0.85h-0.85zM125.71 358.61h0.85v0.85h-0.85zM93.31 384.37h0.85v0.85h-0.85zM79.93 387.72h0.85v0.85h-0.85zM80.77 387.95h0.85v0.85h-0.85zM79.17 388.64h0.85v0.85h-0.85zM108 376.25h0.85v0.85h-0.85zM77 384.19h0.85v0.85h-0.85zM88.61 381.71h0.85v0.85h-0.85zM84.86 386.01h0.85v0.85h-0.85zM96.77 370.44h0.85v0.85h-0.85zM81.87 388.09h0.85v0.85h-0.85zM99.05 375.57h0.85v0.85h-0.85zM87.77 383.38h0.85v0.85h-0.85zM88.77 385.09h0.85v0.85h-0.85zM76.65 387.62h0.85v0.85h-0.85zM74.19 384.41h0.85v0.85h-0.85zM85.17 375.3h0.85v0.85h-0.85zM110.58 370.68h0.85v0.85h-0.85zM91.33 381.63h0.85v0.85h-0.85zM98.18 374.55h0.85v0.85h-0.85zM84.82 383.29h0.85v0.85h-0.85zM89.05 384.67h0.85v0.85h-0.85zM78.3 373.15h0.85v0.85h-0.85zM89.68 379.85h0.85v0.85h-0.85zM94.51 380.14h0.85v0.85h-0.85zM92.15 380.33h0.85v0.85h-0.85zM81.6 382.89h0.85v0.85h-0.85zM102.42 372.81h0.85v0.85h-0.85zM87.96 385.37h0.85v0.85h-0.85zM93.04 380.74h0.85v0.85h-0.85zM93.45 378.32h0.85v0.85h-0.85zM64.46 399.27h0.85v0.85h-0.85zM89.01 382.39h0.85v0.85h-0.85zM88.23 382.54h0.85v0.85h-0.85zM76.36 378.27h0.85v0.85h-0.85zM88.95 384.57h0.85v0.85h-0.85zM103.38 372.41h0.85v0.85h-0.85zM88.18 384.81h0.85v0.85h-0.85zM82.46 384.21h0.85v0.85h-0.85zM79.69 390.74h0.85v0.85h-0.85zM86.42 382.19h0.85v0.85h-0.85zM71.03 397.68h0.85v0.85h-0.85zM96.28 382.85h0.85v0.85h-0.85zM86.82 393.29h0.85v0.85h-0.85zM82.07 389.55h0.85v0.85h-0.85zM84.29 383.67h0.85v0.85h-0.85zM74.97 389.84h0.85v0.85h-0.85zM99.55 368.54h0.85v0.85h-0.85zM72.94 393.39h0.85v0.85h-0.85zM111.88 373.76h0.85v0.85h-0.85zM79.66 392.58h0.85v0.85h-0.85zM98.61 380.32h0.85v0.85h-0.85zM71.55 402.98h0.85v0.85h-0.85zM103.62 368.83h0.85v0.85h-0.85zM75.61 386.18h0.85v0.85h-0.85zM97.92 376.55h0.85v0.85h-0.85zM100.24 375.77h0.85v0.85h-0.85zM95.77 379.04h0.85v0.85h-0.85zM96.24 379.48h0.85v0.85h-0.85zM77.62 381.01h0.85v0.85h-0.85zM83.13 382.66h0.85v0.85h-0.85zM90.97 385.23h0.85v0.85h-0.85zM93.66 378.05h0.85v0.85h-0.85zM72.39 401.72h0.85v0.85h-0.85zM86.05 387.74h0.85v0.85h-0.85zM105.56 372.77h0.85v0.85h-0.85zM98.85 360.7h0.85v0.85h-0.85zM88.61 382.98h0.85v0.85h-0.85zM68.15 392.75h0.85v0.85h-0.85zM78.79 398.12h0.85v0.85h-0.85zM83.74 394.79h0.85v0.85h-0.85zM99.85 374.22h0.85v0.85h-0.85zM98.07 372.57h0.85v0.85h-0.85zM101.99 376.5h0.85v0.85h-0.85zM102.44 381.39h0.85v0.85h-0.85zM97.38 375.02h0.85v0.85h-0.85zM95.39 380.74h0.85v0.85h-0.85zM97.06 377.41h0.85v0.85h-0.85zM101.07 377.71h0.85v0.85h-0.85zM96.04 374.58h0.85v0.85h-0.85zM100.44 375.09h0.85v0.85h-0.85zM97.3 378.18h0.85v0.85h-0.85zM101.01 378.08h0.85v0.85h-0.85zM104.9 378.81h0.85v0.85h-0.85zM98.24 373.9h0.85v0.85h-0.85zM99.62 379.37h0.85v0.85h-0.85zM102.95 377.27h0.85v0.85h-0.85zM101.62 380.05h0.85v0.85h-0.85zM99.83 379.13h0.85v0.85h-0.85zM101.43 377.14h0.85v0.85h-0.85zM98.79 375.31h0.85v0.85h-0.85zM100.06 379.02h0.85v0.85h-0.85zM104.1 381.43h0.85v0.85h-0.85zM101.64 376.82h0.85v0.85h-0.85zM101.55 377.67h0.85v0.85h-0.85zM104.26 375.07h0.85v0.85h-0.85zM102.5 382.65h0.85v0.85h-0.85zM104.39 376.52h0.85v0.85h-0.85zM101.92 378.59h0.85v0.85h-0.85zM103.18 378.31h0.85v0.85h-0.85zM98.3 379.49h0.85v0.85h-0.85zM101.48 374.14h0.85v0.85h-0.85zM120.79 366.23h0.85v0.85h-0.85zM121.88 368.83h0.85v0.85h-0.85zM124.78 362.54h0.85v0.85h-0.85zM121.89 364.54h0.85v0.85h-0.85zM123.35 363.08h0.85v0.85h-0.85zM120.16 363.82h0.85v0.85h-0.85zM130.47 362.07h0.85v0.85h-0.85zM126.48 360.99h0.85v0.85h-0.85zM132.89 352.34h0.85v0.85h-0.85zM122.34 365.58h0.85v0.85h-0.85zM124.97 357.81h0.85v0.85h-0.85zM123.81 362.43h0.85v0.85h-0.85zM123.08 368.7h0.85v0.85h-0.85zM124.16 362.94h0.85v0.85h-0.85zM125.29 366.76h0.85v0.85h-0.85zM121.8 365.13h0.85v0.85h-0.85zM125.82 359.51h0.85v0.85h-0.85zM129.17 358.88h0.85v0.85h-0.85zM113.95 377.69h0.85v0.85h-0.85zM128.92 352.97h0.85v0.85h-0.85zM125.94 362.87h0.85v0.85h-0.85zM121.24 371.77h0.85v0.85h-0.85zM125.36 360.48h0.85v0.85h-0.85zM123.44 366.28h0.85v0.85h-0.85zM118.78 366.14h0.85v0.85h-0.85zM126.09 365.81h0.85v0.85h-0.85zM120.6 365.84h0.85v0.85h-0.85zM123.9 365.1h0.85v0.85h-0.85zM128.57 360.93h0.85v0.85h-0.85zM121.89 362.29h0.85v0.85h-0.85zM126.46 362.85h0.85v0.85h-0.85zM124.85 357.6h0.85v0.85h-0.85zM122.13 366.71h0.85v0.85h-0.85zM124.75 358.75h0.85v0.85h-0.85zM120.34 365.67h0.85v0.85h-0.85zM125.48 359.05h0.85v0.85h-0.85zM122.22 368.06h0.85v0.85h-0.85zM128.59 357.61h0.85v0.85h-0.85zM118.34 362.65h0.85v0.85h-0.85zM118.16 369.78h0.85v0.85h-0.85zM119.18 374.21h0.85v0.85h-0.85zM126.08 359.95h0.85v0.85h-0.85zM121.17 362.26h0.85v0.85h-0.85zM125.54 364.21h0.85v0.85h-0.85zM127.1 357.11h0.85v0.85h-0.85zM125.25 363.01h0.85v0.85h-0.85zM118.6 366.27h0.85v0.85h-0.85zM121.51 367.05h0.85v0.85h-0.85zM122.91 360.72h0.85v0.85h-0.85zM120.68 368.11h0.85v0.85h-0.85zM123.4 363.4h0.85v0.85h-0.85zM124.75 363.54h0.85v0.85h-0.85zM123.58 361.58h0.85v0.85h-0.85zM128.05 362.34h0.85v0.85h-0.85zM122.07 362.01h0.85v0.85h-0.85zM121.08 366.17h0.85v0.85h-0.85zM124.15 359.35h0.85v0.85h-0.85zM125.02 363.64h0.85v0.85h-0.85zM113.84 384.09h0.85v0.85h-0.85zM126.74 362.11h0.85v0.85h-0.85zM117.17 373.26h0.85v0.85h-0.85zM126.44 363.06h0.85v0.85h-0.85zM123.19 369.14h0.85v0.85h-0.85zM128.49 355.94h0.85v0.85h-0.85zM133.44 356.43h0.85v0.85h-0.85zM118.95 366.83h0.85v0.85h-0.85zM121.82 364.55h0.85v0.85h-0.85zM125.16 358.75h0.85v0.85h-0.85zM124.75 362.79h0.85v0.85h-0.85zM120.6 369.83h0.85v0.85h-0.85zM119.93 368.75h0.85v0.85h-0.85zM112.3 373.33h0.85v0.85h-0.85zM120.82 367.99h0.85v0.85h-0.85zM128.22 359.03h0.85v0.85h-0.85zM120.28 365.6h0.85v0.85h-0.85zM122.55 363.43h0.85v0.85h-0.85zM129.63 355.73h0.85v0.85h-0.85zM119.51 371.01h0.85v0.85h-0.85zM122.29 369.65h0.85v0.85h-0.85zM124.67 361.47h0.85v0.85h-0.85zM124.6 362.2h0.85v0.85h-0.85zM122.67 366.78h0.85v0.85h-0.85zM129.37 353.78h0.85v0.85h-0.85zM122.19 365.93h0.85v0.85h-0.85zM125.79 356.45h0.85v0.85h-0.85zM113.78 372.51h0.85v0.85h-0.85zM122.07 369.36h0.85v0.85h-0.85zM123.73 360.75h0.85v0.85h-0.85zM124 365.45h0.85v0.85h-0.85zM117.14 369.32h0.85v0.85h-0.85zM124.42 364.24h0.85v0.85h-0.85zM123.62 361.33h0.85v0.85h-0.85zM123.46 363.56h0.85v0.85h-0.85zM120.39 366.66h0.85v0.85h-0.85zM122.22 362.6h0.85v0.85h-0.85zM121.42 364.95h0.85v0.85h-0.85zM121.12 359.66h0.85v0.85h-0.85zM124.63 354.2h0.85v0.85h-0.85zM125.96 361.92h0.85v0.85h-0.85zM122.28 369.74h0.85v0.85h-0.85zM141.39 342.8h0.85v0.85h-0.85zM123.66 356.14h0.85v0.85h-0.85zM126.84 359.22h0.85v0.85h-0.85zM119.07 365.02h0.85v0.85h-0.85zM129.95 355.05h0.85v0.85h-0.85zM121.09 361.79h0.85v0.85h-0.85zM115.05 369.24h0.85v0.85h-0.85zM132.5 360.93h0.85v0.85h-0.85zM135.06 359.6h0.85v0.85h-0.85zM122.89 360.33h0.85v0.85h-0.85zM127.68 351.62h0.85v0.85h-0.85zM119.16 368.58h0.85v0.85h-0.85zM117.01 353.34h0.85v0.85h-0.85zM122.76 354.25h0.85v0.85h-0.85zM121.24 365.93h0.85v0.85h-0.85zM121.69 365.93h0.85v0.85h-0.85zM124.41 363.33h0.85v0.85h-0.85zM125.03 363.77h0.85v0.85h-0.85zM124.21 358.89h0.85v0.85h-0.85zM121.59 366.04h0.85v0.85h-0.85zM130.76 358.89h0.85v0.85h-0.85zM117.32 374.2h0.85v0.85h-0.85zM128.15 361.56h0.85v0.85h-0.85zM130.7 388.87h0.85v0.85h-0.85zM124.06 386.13h0.85v0.85h-0.85zM130.15 389.15h0.85v0.85h-0.85zM122.39 390.03h0.85v0.85h-0.85zM118.26 390.49h0.85v0.85h-0.85zM120.63 390.91h0.85v0.85h-0.85zM122.37 388.03h0.85v0.85h-0.85zM125.27 386.88h0.85v0.85h-0.85zM117.4 388.86h0.85v0.85h-0.85zM123.67 389.05h0.85v0.85h-0.85zM120.67 390.17h0.85v0.85h-0.85z" fill="#000" opacity="0.5"/>
<path d="M107.17 380.82h0.85v0.85h-0.85zM103.63 376.32h0.85v0.85h-0.85zM106.39 378.74h0.85v0.85h-0.85zM102.39 374.17h0.85v0.85h-0.85zM99.25 380.65h0.85v0.85h-0.85zM98.46 376.58h0.85v0.85h-0.85zM102.71 379.58h0.85v0.85h-0.85zM99.46 375.14h0.85v0.85h-0.85zM104.13 374.62h0.85v0.85h-0.85zM101.77 379.97h0.85v0.85h-0.85zM93.32 375.57h0.85v0.85h-0.85zM104.6 377.92h0.85v0.85h-0.85zM101.19 376.9h0.85v0.85h-0.85zM103.88 379.09h0.85v0.85h-0.85zM95.58 376.03h0.85v0.85h-0.85zM106.21 375.37h0.85v0.85h-0.85zM97.26 377.32h0.85v0.85h-0.85zM102.77 377.37h0.85v0.85h-0.85zM100.79 375.41h0.85v0.85h-0.85zM104.97 375.94h0.85v0.85h-0.85zM100.78 376.81h0.85v0.85h-0.85zM99.34 374.75h0.85v0.85h-0.85zM109.02 380.63h0.85v0.85h-0.85zM101.47 377.52h0.85v0.85h-0.85zM103.34 371.04h0.85v0.85h-0.85zM99.46 375.74h0.85v0.85h-0.85zM95.93 374.25h0.85v0.85h-0.85zM104.06 373.2h0.85v0.85h-0.85zM99.38 382.18h0.85v0.85h-0.85zM123.3 362.72h0.85v0.85h-0.85zM126.25 355.9h0.85v0.85h-0.85zM124.12 358.51h0.85v0.85h-0.85zM124.57 365.19h0.85v0.85h-0.85zM126.74 359.51h0.85v0.85h-0.85zM130.26 355.99h0.85v0.85h-0.85zM122.36 360.66h0.85v0.85h-0.85zM119.62 362.84h0.85v0.85h-0.85zM127.97 357.56h0.85v0.85h-0.85zM119.01 363.93h0.85v0.85h-0.85zM114.68 371.29h0.85v0.85h-0.85zM120.71 365.28h0.85v0.85h-0.85zM120.81 369.79h0.85v0.85h-0.85zM125.18 358.58h0.85v0.85h-0.85zM127.29 361.64h0.85v0.85h-0.85zM122.06 364.86h0.85v0.85h-0.85zM118.12 362.02h0.85v0.85h-0.85zM119.87 375.34h0.85v0.85h-0.85zM132.02 356.59h0.85v0.85h-0.85zM130.85 353.95h0.85v0.85h-0.85zM120.82 363.65h0.85v0.85h-0.85zM122.39 365.69h0.85v0.85h-0.85zM126.55 359.52h0.85v0.85h-0.85zM120.58 363.42h0.85v0.85h-0.85zM119.83 364.39h0.85v0.85h-0.85zM125.24 359.69h0.85v0.85h-0.85zM120.68 362.93h0.85v0.85h-0.85zM122.36 365.1h0.85v0.85h-0.85zM117.59 367.01h0.85v0.85h-0.85zM127.64 358.21h0.85v0.85h-0.85zM118.74 366.63h0.85v0.85h-0.85zM127.1 360.52h0.85v0.85h-0.85zM132.43 350.89h0.85v0.85h-0.85zM123.6 359.02h0.85v0.85h-0.85zM122.94 368.39h0.85v0.85h-0.85zM125.21 364.62h0.85v0.85h-0.85zM128.79 355.74h0.85v0.85h-0.85zM129.44 355.49h0.85v0.85h-0.85zM122.76 368.64h0.85v0.85h-0.85zM120.97 364.49h0.85v0.85h-0.85zM124.26 361.7h0.85v0.85h-0.85zM123.52 361.82h0.85v0.85h-0.85zM124.94 362.98h0.85v0.85h-0.85zM124.49 360.57h0.85v0.85h-0.85zM123.66 365.1h0.85v0.85h-0.85zM117.49 365.75h0.85v0.85h-0.85zM117.05 373.45h0.85v0.85h-0.85zM126.79 361.65h0.85v0.85h-0.85zM118.03 365.67h0.85v0.85h-0.85zM125.09 361.61h0.85v0.85h-0.85zM123.87 361.76h0.85v0.85h-0.85zM123.2 369.92h0.85v0.85h-0.85zM124.8 364.96h0.85v0.85h-0.85zM117.03 370.6h0.85v0.85h-0.85zM123.08 367.45h0.85v0.85h-0.85zM121.28 366.73h0.85v0.85h-0.85zM123.81 365.89h0.85v0.85h-0.85zM123.75 362.39h0.85v0.85h-0.85zM122.82 364.34h0.85v0.85h-0.85zM125.12 362.1h0.85v0.85h-0.85zM118.66 367.29h0.85v0.85h-0.85zM127.51 363.04h0.85v0.85h-0.85zM127.01 356.22h0.85v0.85h-0.85zM124.64 360.75h0.85v0.85h-0.85zM121.11 366.03h0.85v0.85h-0.85zM122.84 361.06h0.85v0.85h-0.85zM123.55 363.82h0.85v0.85h-0.85zM125.15 363.1h0.85v0.85h-0.85zM123.14 362.77h0.85v0.85h-0.85zM117.33 374.28h0.85v0.85h-0.85zM124.3 370.25h0.85v0.85h-0.85zM122.6 368.7h0.85v0.85h-0.85zM118.61 371.39h0.85v0.85h-0.85zM128.59 354.53h0.85v0.85h-0.85zM124.24 363.84h0.85v0.85h-0.85zM124.31 358.5h0.85v0.85h-0.85zM126.16 366.62h0.85v0.85h-0.85zM123.75 364.54h0.85v0.85h-0.85z" fill="#000" opacity="0.75"/>
<ellipse cx="80.5" cy="393" rx="13.2" ry="8.2" fill="#000" opacity="0.1" transform="rotate(-28 80.5 393)"/>
<ellipse cx="92" cy="384.3" rx="17.2" ry="7.6" fill="#000" opacity="0.1" transform="rotate(-34 92 384.3)"/>
<ellipse cx="80.5" cy="393" rx="11.6" ry="6.6" fill="#000" opacity="0.3" transform="rotate(-28 80.5 393)"/>
<ellipse cx="92" cy="384.3" rx="15.6" ry="6" fill="#000" opacity="0.3" transform="rotate(-34 92 384.3)"/>
<ellipse cx="80.5" cy="393" rx="10" ry="5.2" fill="#000" transform="rotate(-28 80.5 393)"/>
<ellipse cx="92" cy="384.3" rx="14" ry="4.6" fill="#000" transform="rotate(-34 92 384.3)"/>
<ellipse cx="78.5" cy="394.8" rx="4.2" ry="1.7" fill="#ddd" stroke="#fafafa" stroke-width="1.0" transform="rotate(-10 78.5 394.8)"/>
<ellipse cx="78.5" cy="394.8" rx="1.76" ry="0.85" fill="#333" transform="rotate(-10 78.5 394.8)"/>
<rect x="107.4" y="338.5" width="33.4" height="39.9" fill="none" stroke="#a23a55" stroke-width="1.1"/>
<rect x="58" y="328.8" width="86.8" height="86.3" fill="none" stroke="#000" stroke-width="1.35"/>
<text x="0" y="0" font-size="7.6" text-anchor="middle" font-weight="bold" fill="#1e1e1e" transform="translate(214.8 324) scale(1 1.12)">WNT974</text>
<line x1="169.1" y1="337.1" x2="171.3" y2="337.1" stroke="#1e1e1e" stroke-width="0.9"/>
<text x="0" y="0" font-size="5.6" text-anchor="end" fill="#333" transform="translate(165.3 339.1) scale(1 1.12)">10</text>
<text x="0" y="0" font-size="3.5" text-anchor="start" fill="#333" transform="translate(165.4 336.4) scale(1 1.12)">5</text>
<line x1="169.1" y1="356.8" x2="171.3" y2="356.8" stroke="#1e1e1e" stroke-width="0.9"/>
<text x="0" y="0" font-size="5.6" text-anchor="end" fill="#333" transform="translate(165.3 358.8) scale(1 1.12)">10</text>
<text x="0" y="0" font-size="3.5" text-anchor="start" fill="#333" transform="translate(165.4 356.1) scale(1 1.12)">4</text>
<line x1="169.1" y1="381.1" x2="171.3" y2="381.1" stroke="#1e1e1e" stroke-width="0.9"/>
<text x="0" y="0" font-size="5.6" text-anchor="end" fill="#333" transform="translate(165.3 383.1) scale(1 1.12)">10</text>
<text x="0" y="0" font-size="3.5" text-anchor="start" fill="#333" transform="translate(165.4 380.4) scale(1 1.12)">3</text>
<line x1="169.1" y1="396" x2="171.3" y2="396" stroke="#1e1e1e" stroke-width="0.9"/>
<text x="0" y="0" font-size="5.6" text-anchor="end" fill="#333" transform="translate(167.3 398) scale(1 1.12)">0</text>
<line x1="169.1" y1="412" x2="171.3" y2="412" stroke="#1e1e1e" stroke-width="0.9"/>
<text x="0" y="0" font-size="5.6" text-anchor="end" fill="#333" transform="translate(165.3 414) scale(1 1.12)">-10</text>
<text x="0" y="0" font-size="3.5" text-anchor="start" fill="#333" transform="translate(165.4 411.3) scale(1 1.12)">3</text>
<line x1="170.1" y1="350.87" x2="171.3" y2="350.87" stroke="#1e1e1e" stroke-width="0.6"/>
<line x1="170.1" y1="347.4" x2="171.3" y2="347.4" stroke="#1e1e1e" stroke-width="0.6"/>
<line x1="170.1" y1="344.94" x2="171.3" y2="344.94" stroke="#1e1e1e" stroke-width="0.6"/>
<line x1="170.1" y1="343.03" x2="171.3" y2="343.03" stroke="#1e1e1e" stroke-width="0.6"/>
<line x1="170.1" y1="341.47" x2="171.3" y2="341.47" stroke="#1e1e1e" stroke-width="0.6"/>
<line x1="170.1" y1="340.15" x2="171.3" y2="340.15" stroke="#1e1e1e" stroke-width="0.6"/>
<line x1="170.1" y1="339.01" x2="171.3" y2="339.01" stroke="#1e1e1e" stroke-width="0.6"/>
<line x1="170.1" y1="338" x2="171.3" y2="338" stroke="#1e1e1e" stroke-width="0.6"/>
<line x1="170.1" y1="373.78" x2="171.3" y2="373.78" stroke="#1e1e1e" stroke-width="0.6"/>
<line x1="170.1" y1="369.51" x2="171.3" y2="369.51" stroke="#1e1e1e" stroke-width="0.6"/>
<line x1="170.1" y1="366.47" x2="171.3" y2="366.47" stroke="#1e1e1e" stroke-width="0.6"/>
<line x1="170.1" y1="364.12" x2="171.3" y2="364.12" stroke="#1e1e1e" stroke-width="0.6"/>
<line x1="170.1" y1="362.19" x2="171.3" y2="362.19" stroke="#1e1e1e" stroke-width="0.6"/>
<line x1="170.1" y1="360.56" x2="171.3" y2="360.56" stroke="#1e1e1e" stroke-width="0.6"/>
<line x1="170.1" y1="359.15" x2="171.3" y2="359.15" stroke="#1e1e1e" stroke-width="0.6"/>
<line x1="170.1" y1="357.91" x2="171.3" y2="357.91" stroke="#1e1e1e" stroke-width="0.6"/>
<line x1="176.3" y1="415.1" x2="176.3" y2="417.3" stroke="#1e1e1e" stroke-width="0.9"/>
<text x="0" y="0" font-size="5.6" text-anchor="middle" fill="#333" transform="translate(176.5 424.6) scale(1 1.12)">-10</text>
<text x="0" y="0" font-size="3.5" text-anchor="start" fill="#333" transform="translate(179.5 421.6) scale(1 1.12)">3</text>
<line x1="190.3" y1="415.1" x2="190.3" y2="417.3" stroke="#1e1e1e" stroke-width="0.9"/>
<text x="0" y="0" font-size="5.6" text-anchor="middle" fill="#333" transform="translate(190.3 424.6) scale(1 1.12)">0</text>
<line x1="206.6" y1="415.1" x2="206.6" y2="417.3" stroke="#1e1e1e" stroke-width="0.9"/>
<text x="0" y="0" font-size="5.6" text-anchor="middle" fill="#333" transform="translate(206.8 424.6) scale(1 1.12)">10</text>
<text x="0" y="0" font-size="3.5" text-anchor="start" fill="#333" transform="translate(209.8 421.6) scale(1 1.12)">3</text>
<line x1="230.3" y1="415.1" x2="230.3" y2="417.3" stroke="#1e1e1e" stroke-width="0.9"/>
<text x="0" y="0" font-size="5.6" text-anchor="middle" fill="#333" transform="translate(230.5 424.6) scale(1 1.12)">10</text>
<text x="0" y="0" font-size="3.5" text-anchor="start" fill="#333" transform="translate(233.5 421.6) scale(1 1.12)">4</text>
<line x1="250.8" y1="415.1" x2="250.8" y2="417.3" stroke="#1e1e1e" stroke-width="0.9"/>
<text x="0" y="0" font-size="5.6" text-anchor="middle" fill="#333" transform="translate(251 424.6) scale(1 1.12)">10</text>
<text x="0" y="0" font-size="3.5" text-anchor="start" fill="#333" transform="translate(254 421.6) scale(1 1.12)">5</text>
<line x1="213.73" y1="415.1" x2="213.73" y2="416.3" stroke="#1e1e1e" stroke-width="0.6"/>
<line x1="217.91" y1="415.1" x2="217.91" y2="416.3" stroke="#1e1e1e" stroke-width="0.6"/>
<line x1="220.87" y1="415.1" x2="220.87" y2="416.3" stroke="#1e1e1e" stroke-width="0.6"/>
<line x1="223.17" y1="415.1" x2="223.17" y2="416.3" stroke="#1e1e1e" stroke-width="0.6"/>
<line x1="225.04" y1="415.1" x2="225.04" y2="416.3" stroke="#1e1e1e" stroke-width="0.6"/>
<line x1="226.63" y1="415.1" x2="226.63" y2="416.3" stroke="#1e1e1e" stroke-width="0.6"/>
<line x1="228" y1="415.1" x2="228" y2="416.3" stroke="#1e1e1e" stroke-width="0.6"/>
<line x1="229.22" y1="415.1" x2="229.22" y2="416.3" stroke="#1e1e1e" stroke-width="0.6"/>
<line x1="236.47" y1="415.1" x2="236.47" y2="416.3" stroke="#1e1e1e" stroke-width="0.6"/>
<line x1="240.08" y1="415.1" x2="240.08" y2="416.3" stroke="#1e1e1e" stroke-width="0.6"/>
<line x1="242.64" y1="415.1" x2="242.64" y2="416.3" stroke="#1e1e1e" stroke-width="0.6"/>
<line x1="244.63" y1="415.1" x2="244.63" y2="416.3" stroke="#1e1e1e" stroke-width="0.6"/>
<line x1="246.25" y1="415.1" x2="246.25" y2="416.3" stroke="#1e1e1e" stroke-width="0.6"/>
<line x1="247.62" y1="415.1" x2="247.62" y2="416.3" stroke="#1e1e1e" stroke-width="0.6"/>
<line x1="248.81" y1="415.1" x2="248.81" y2="416.3" stroke="#1e1e1e" stroke-width="0.6"/>
<line x1="249.86" y1="415.1" x2="249.86" y2="416.3" stroke="#1e1e1e" stroke-width="0.6"/>
<text x="214.9" y="432.8" font-size="7.4" text-anchor="middle" fill="#2a2a2a" textLength="63" lengthAdjust="spacingAndGlyphs">Comp-APC-A::CD45</text>
<text x="155" y="372.4" font-size="7.4" text-anchor="middle" fill="#2a2a2a" textLength="55" lengthAdjust="spacingAndGlyphs" transform="rotate(-90 155 372.4)">Comp-PE-A::CD33</text>
<path d="M189 357.06h0.85v0.85h-0.85zM199.02 383.93h0.85v0.85h-0.85zM205.65 355.03h0.85v0.85h-0.85zM189.84 368.92h0.85v0.85h-0.85zM200.21 374.52h0.85v0.85h-0.85zM185.02 365.69h0.85v0.85h-0.85zM205.43 377.7h0.85v0.85h-0.85zM200.5 369.98h0.85v0.85h-0.85zM197.24 384.35h0.85v0.85h-0.85zM188.25 363.61h0.85v0.85h-0.85zM182.02 368.78h0.85v0.85h-0.85zM190.86 377.08h0.85v0.85h-0.85zM192.74 364.86h0.85v0.85h-0.85zM198.03 372.68h0.85v0.85h-0.85zM192.73 379.94h0.85v0.85h-0.85zM201.27 361.01h0.85v0.85h-0.85zM189.93 358.34h0.85v0.85h-0.85zM197.35 360.19h0.85v0.85h-0.85zM199.1 358.86h0.85v0.85h-0.85zM188.32 369.63h0.85v0.85h-0.85zM202.94 379.03h0.85v0.85h-0.85zM186.54 370.59h0.85v0.85h-0.85zM199.69 391.63h0.85v0.85h-0.85zM191.66 381.47h0.85v0.85h-0.85zM186.8 375.21h0.85v0.85h-0.85zM193.49 366.88h0.85v0.85h-0.85zM188.42 380.1h0.85v0.85h-0.85zM193.16 383.47h0.85v0.85h-0.85zM191.43 370.67h0.85v0.85h-0.85zM200.47 378.95h0.85v0.85h-0.85zM189.03 366.15h0.85v0.85h-0.85zM192.12 363.45h0.85v0.85h-0.85zM189.75 379.11h0.85v0.85h-0.85zM197.03 374.35h0.85v0.85h-0.85zM186.36 370.3h0.85v0.85h-0.85zM186.13 372.59h0.85v0.85h-0.85zM196.42 376.3h0.85v0.85h-0.85zM237.7 358.37h0.85v0.85h-0.85zM226.67 367.04h0.85v0.85h-0.85zM220.18 371.03h0.85v0.85h-0.85zM224.17 365.54h0.85v0.85h-0.85zM234.11 361.54h0.85v0.85h-0.85zM239.99 356.98h0.85v0.85h-0.85zM235.04 366.21h0.85v0.85h-0.85zM223.33 368.55h0.85v0.85h-0.85zM212.6 379.94h0.85v0.85h-0.85zM224.6 367.21h0.85v0.85h-0.85zM230.14 362.85h0.85v0.85h-0.85zM228.05 364.55h0.85v0.85h-0.85zM232.7 367.07h0.85v0.85h-0.85zM234.39 365.19h0.85v0.85h-0.85zM220.53 371.62h0.85v0.85h-0.85zM227.46 365.03h0.85v0.85h-0.85zM240.69 357.28h0.85v0.85h-0.85zM229.92 366.38h0.85v0.85h-0.85zM227.54 391.12h0.85v0.85h-0.85zM237.38 392.06h0.85v0.85h-0.85zM234.61 386.98h0.85v0.85h-0.85zM234.61 379.17h0.85v0.85h-0.85zM239.98 395.28h0.85v0.85h-0.85zM209.92 387.95h0.85v0.85h-0.85zM225.2 384.88h0.85v0.85h-0.85zM243.78 393.01h0.85v0.85h-0.85zM221.44 395.18h0.85v0.85h-0.85zM249.19 398.31h0.85v0.85h-0.85zM245.38 388.18h0.85v0.85h-0.85zM219.95 383.66h0.85v0.85h-0.85zM249.47 390.77h0.85v0.85h-0.85zM243.3 386.38h0.85v0.85h-0.85zM234.86 398.44h0.85v0.85h-0.85zM225.96 403.88h0.85v0.85h-0.85zM234.29 399.93h0.85v0.85h-0.85zM236.33 395.73h0.85v0.85h-0.85zM224.62 390.8h0.85v0.85h-0.85zM250.23 393.92h0.85v0.85h-0.85zM225.15 389.5h0.85v0.85h-0.85zM230.94 373.4h0.85v0.85h-0.85zM237.57 389.56h0.85v0.85h-0.85zM239.83 387.73h0.85v0.85h-0.85zM232.6 382.56h0.85v0.85h-0.85zM212.93 389.66h0.85v0.85h-0.85zM218.23 376.25h0.85v0.85h-0.85zM233.76 378.46h0.85v0.85h-0.85zM238.57 377.35h0.85v0.85h-0.85zM249.34 389.9h0.85v0.85h-0.85zM228.4 388.4h0.85v0.85h-0.85zM243.01 358.65h0.85v0.85h-0.85zM218.74 368.8h0.85v0.85h-0.85zM235.74 405.2h0.85v0.85h-0.85zM173.9 347.63h0.85v0.85h-0.85zM202.09 403.27h0.85v0.85h-0.85zM181.26 403.03h0.85v0.85h-0.85zM250.02 367.02h0.85v0.85h-0.85zM219.75 406.56h0.85v0.85h-0.85zM228.95 406.02h0.85v0.85h-0.85zM235.15 377.72h0.85v0.85h-0.85zM231.7 401.72h0.85v0.85h-0.85zM187.02 384.45h0.85v0.85h-0.85zM243.29 412.27h0.85v0.85h-0.85zM231.51 369.45h0.85v0.85h-0.85zM244.81 380.67h0.85v0.85h-0.85zM182.91 371.78h0.85v0.85h-0.85zM204.29 388.39h0.85v0.85h-0.85zM238.26 403.98h0.85v0.85h-0.85z" fill="#000" opacity="0.15"/>
<path d="M201.79 379.63h0.85v0.85h-0.85zM191.82 381.18h0.85v0.85h-0.85zM196.4 379.82h0.85v0.85h-0.85zM218.03 372.3h0.85v0.85h-0.85zM210.03 377.53h0.85v0.85h-0.85zM228.77 367.02h0.85v0.85h-0.85zM225.13 367.41h0.85v0.85h-0.85zM208.69 382h0.85v0.85h-0.85zM196.2 393.03h0.85v0.85h-0.85zM181.68 401.71h0.85v0.85h-0.85zM202.3 382.93h0.85v0.85h-0.85zM199.02 386.52h0.85v0.85h-0.85zM210.18 378.56h0.85v0.85h-0.85zM188.03 388.78h0.85v0.85h-0.85zM185.43 403.53h0.85v0.85h-0.85zM200.53 389.12h0.85v0.85h-0.85zM206.17 385.25h0.85v0.85h-0.85zM190.45 386.39h0.85v0.85h-0.85zM191.83 392.58h0.85v0.85h-0.85zM204.37 377.67h0.85v0.85h-0.85zM220.2 370.8h0.85v0.85h-0.85zM199.62 388.74h0.85v0.85h-0.85zM189.9 379.95h0.85v0.85h-0.85zM197.7 392.52h0.85v0.85h-0.85zM211.98 383.73h0.85v0.85h-0.85zM199.27 371h0.85v0.85h-0.85zM224.54 374.96h0.85v0.85h-0.85zM199.74 381.38h0.85v0.85h-0.85zM177.49 387.8h0.85v0.85h-0.85zM217.11 363.99h0.85v0.85h-0.85zM217.85 369.2h0.85v0.85h-0.85zM217.22 371.01h0.85v0.85h-0.85zM183.73 393.52h0.85v0.85h-0.85zM190.31 392.67h0.85v0.85h-0.85zM205.96 382.04h0.85v0.85h-0.85zM192.29 386.91h0.85v0.85h-0.85zM208.82 381.72h0.85v0.85h-0.85zM206.62 383.35h0.85v0.85h-0.85zM216.71 378.52h0.85v0.85h-0.85zM200.05 379.17h0.85v0.85h-0.85zM214.86 373.27h0.85v0.85h-0.85zM210.87 377.28h0.85v0.85h-0.85zM210.48 379.05h0.85v0.85h-0.85zM201.17 389.59h0.85v0.85h-0.85zM197.7 382.46h0.85v0.85h-0.85zM213.19 374.83h0.85v0.85h-0.85zM200.91 385.99h0.85v0.85h-0.85zM198.3 378.67h0.85v0.85h-0.85zM192.66 383.37h0.85v0.85h-0.85zM204.09 376.14h0.85v0.85h-0.85zM185.96 387.39h0.85v0.85h-0.85zM191.49 384.06h0.85v0.85h-0.85zM206.5 372.86h0.85v0.85h-0.85zM204.93 381.35h0.85v0.85h-0.85zM202.86 381.24h0.85v0.85h-0.85zM188.83 389.85h0.85v0.85h-0.85zM229.29 360.37h0.85v0.85h-0.85zM213.01 371.96h0.85v0.85h-0.85zM200.53 387.82h0.85v0.85h-0.85zM202.75 385.35h0.85v0.85h-0.85zM207.15 385.81h0.85v0.85h-0.85zM192.85 374.56h0.85v0.85h-0.85zM212.88 379.43h0.85v0.85h-0.85zM175.62 388.57h0.85v0.85h-0.85zM185.34 395.22h0.85v0.85h-0.85zM200.77 379.12h0.85v0.85h-0.85zM198.83 384.75h0.85v0.85h-0.85zM217.11 371.96h0.85v0.85h-0.85zM195.99 386.4h0.85v0.85h-0.85zM182.32 400.68h0.85v0.85h-0.85zM203.24 371.35h0.85v0.85h-0.85zM215.2 376.97h0.85v0.85h-0.85zM227.41 366.97h0.85v0.85h-0.85zM203.48 381.33h0.85v0.85h-0.85zM210.27 377.96h0.85v0.85h-0.85zM212.16 366.79h0.85v0.85h-0.85zM186.46 399.8h0.85v0.85h-0.85zM211.09 370.31h0.85v0.85h-0.85zM209.87 370.32h0.85v0.85h-0.85zM194.8 392.64h0.85v0.85h-0.85zM204.3 379.87h0.85v0.85h-0.85zM211.66 367.4h0.85v0.85h-0.85zM196.92 388.73h0.85v0.85h-0.85zM215.56 361.99h0.85v0.85h-0.85zM213.57 370.15h0.85v0.85h-0.85zM208.84 378.6h0.85v0.85h-0.85zM202.06 382.7h0.85v0.85h-0.85zM209.19 370h0.85v0.85h-0.85zM202.47 383.27h0.85v0.85h-0.85zM216.84 382.12h0.85v0.85h-0.85zM202.99 381.82h0.85v0.85h-0.85zM217.38 379.07h0.85v0.85h-0.85zM185.45 390.9h0.85v0.85h-0.85zM200.28 380.07h0.85v0.85h-0.85zM196.1 383.37h0.85v0.85h-0.85zM193.28 374.44h0.85v0.85h-0.85zM190.26 388.55h0.85v0.85h-0.85zM181.93 399.56h0.85v0.85h-0.85zM192.02 389.68h0.85v0.85h-0.85zM218.82 376.19h0.85v0.85h-0.85zM209.14 373.39h0.85v0.85h-0.85zM208.88 371.92h0.85v0.85h-0.85zM203.09 382.7h0.85v0.85h-0.85zM208.8 368.92h0.85v0.85h-0.85zM200.06 370.97h0.85v0.85h-0.85zM190.28 373.97h0.85v0.85h-0.85zM194.12 371.8h0.85v0.85h-0.85zM193.35 361.94h0.85v0.85h-0.85zM197.91 376.4h0.85v0.85h-0.85zM195.5 368.85h0.85v0.85h-0.85zM193.92 374.66h0.85v0.85h-0.85zM189 362.75h0.85v0.85h-0.85zM187.05 348.2h0.85v0.85h-0.85zM189.06 376.66h0.85v0.85h-0.85zM190.75 375.46h0.85v0.85h-0.85zM193.78 382.59h0.85v0.85h-0.85zM186.93 378.42h0.85v0.85h-0.85zM184.76 374.16h0.85v0.85h-0.85zM185.28 371.23h0.85v0.85h-0.85zM194.13 384.62h0.85v0.85h-0.85zM191.96 374.59h0.85v0.85h-0.85zM186.45 363.19h0.85v0.85h-0.85zM202.37 364.95h0.85v0.85h-0.85zM199.01 366.47h0.85v0.85h-0.85zM195.51 371.99h0.85v0.85h-0.85zM186.04 370.35h0.85v0.85h-0.85zM193.56 377.52h0.85v0.85h-0.85zM190.82 379.67h0.85v0.85h-0.85zM195.78 375.63h0.85v0.85h-0.85zM189.25 378.06h0.85v0.85h-0.85zM190.84 373.13h0.85v0.85h-0.85zM188.06 364.36h0.85v0.85h-0.85zM190.68 382.58h0.85v0.85h-0.85zM193.13 379.06h0.85v0.85h-0.85zM195.18 381.01h0.85v0.85h-0.85zM192.13 364.68h0.85v0.85h-0.85zM185.85 377.17h0.85v0.85h-0.85zM196.78 369.33h0.85v0.85h-0.85zM199.01 376.71h0.85v0.85h-0.85zM199.32 379.26h0.85v0.85h-0.85zM191.35 362.82h0.85v0.85h-0.85zM194.28 374.95h0.85v0.85h-0.85zM188.57 359.03h0.85v0.85h-0.85zM180.08 366.69h0.85v0.85h-0.85zM183.61 366.88h0.85v0.85h-0.85zM192.34 371.31h0.85v0.85h-0.85zM201.83 379.93h0.85v0.85h-0.85zM201.83 376.61h0.85v0.85h-0.85zM225.63 367.39h0.85v0.85h-0.85zM212.58 378.96h0.85v0.85h-0.85zM225.27 371.61h0.85v0.85h-0.85zM233.11 361.61h0.85v0.85h-0.85zM231.37 364.2h0.85v0.85h-0.85zM229.22 362.6h0.85v0.85h-0.85zM209.54 379.41h0.85v0.85h-0.85zM219.26 368.17h0.85v0.85h-0.85zM238.24 358.84h0.85v0.85h-0.85zM231.28 363.95h0.85v0.85h-0.85zM232.38 361.96h0.85v0.85h-0.85zM232.88 362.21h0.85v0.85h-0.85zM224.24 370.56h0.85v0.85h-0.85zM227.51 368.32h0.85v0.85h-0.85zM227.06 369.82h0.85v0.85h-0.85zM226.57 365.75h0.85v0.85h-0.85zM224.95 366.47h0.85v0.85h-0.85zM228.88 365.03h0.85v0.85h-0.85zM227.26 366.4h0.85v0.85h-0.85zM219.72 376.3h0.85v0.85h-0.85zM226 364.6h0.85v0.85h-0.85zM231.18 361.37h0.85v0.85h-0.85zM232.84 382.06h0.85v0.85h-0.85zM221.78 392.15h0.85v0.85h-0.85zM219.4 386.56h0.85v0.85h-0.85zM240.17 380.86h0.85v0.85h-0.85zM220.56 392.46h0.85v0.85h-0.85zM230.49 376.88h0.85v0.85h-0.85zM235.14 385.8h0.85v0.85h-0.85zM233.14 379.9h0.85v0.85h-0.85zM214.42 379.87h0.85v0.85h-0.85zM220.12 390.33h0.85v0.85h-0.85zM223 388.51h0.85v0.85h-0.85zM232.34 391.65h0.85v0.85h-0.85zM228.1 389h0.85v0.85h-0.85zM229.19 380.14h0.85v0.85h-0.85zM212.11 397.49h0.85v0.85h-0.85zM239.81 373.57h0.85v0.85h-0.85zM227.13 384.18h0.85v0.85h-0.85zM221.85 385.08h0.85v0.85h-0.85zM232.28 384.02h0.85v0.85h-0.85zM238.63 380.61h0.85v0.85h-0.85zM218.16 385.01h0.85v0.85h-0.85zM230.28 378.82h0.85v0.85h-0.85zM245.85 381.57h0.85v0.85h-0.85zM217.68 397.4h0.85v0.85h-0.85zM253.29 387.22h0.85v0.85h-0.85zM238.5 382.05h0.85v0.85h-0.85zM224.46 387.8h0.85v0.85h-0.85zM225.34 373.98h0.85v0.85h-0.85zM234.43 390.22h0.85v0.85h-0.85z" fill="#000" opacity="0.3"/>
<path d="M196.46 390.7h0.85v0.85h-0.85zM209.63 376.83h0.85v0.85h-0.85zM172.34 394.2h0.85v0.85h-0.85zM197.06 396.81h0.85v0.85h-0.85zM199.73 390.84h0.85v0.85h-0.85zM205.45 378.87h0.85v0.85h-0.85zM191 381.89h0.85v0.85h-0.85zM198.1 395.7h0.85v0.85h-0.85zM225.45 366.08h0.85v0.85h-0.85zM195.49 384.85h0.85v0.85h-0.85zM193.51 391.75h0.85v0.85h-0.85zM209.34 381.26h0.85v0.85h-0.85zM235.72 350.88h0.85v0.85h-0.85zM191.86 387.19h0.85v0.85h-0.85zM227.17 369.86h0.85v0.85h-0.85zM203.64 383.51h0.85v0.85h-0.85zM201.74 387.73h0.85v0.85h-0.85zM207.26 376.46h0.85v0.85h-0.85zM190.23 381.49h0.85v0.85h-0.85zM203 380.01h0.85v0.85h-0.85zM206.99 389.84h0.85v0.85h-0.85zM204.94 377.98h0.85v0.85h-0.85zM189.89 385.75h0.85v0.85h-0.85zM215.66 380.42h0.85v0.85h-0.85zM182.79 390.56h0.85v0.85h-0.85zM214.77 368.72h0.85v0.85h-0.85zM205.93 377.67h0.85v0.85h-0.85zM201.47 377.86h0.85v0.85h-0.85zM200.09 380.26h0.85v0.85h-0.85zM201.53 384.43h0.85v0.85h-0.85zM192.35 390.07h0.85v0.85h-0.85zM193.95 387.29h0.85v0.85h-0.85zM193.1 381.17h0.85v0.85h-0.85zM204.05 384.61h0.85v0.85h-0.85zM215.38 378.8h0.85v0.85h-0.85zM195.14 395.85h0.85v0.85h-0.85zM189.02 386.49h0.85v0.85h-0.85zM202.87 378.32h0.85v0.85h-0.85zM210.53 381.26h0.85v0.85h-0.85zM237.78 358.32h0.85v0.85h-0.85zM219.42 374.45h0.85v0.85h-0.85zM213.74 377.92h0.85v0.85h-0.85zM181.49 396.33h0.85v0.85h-0.85zM227.54 364.76h0.85v0.85h-0.85zM177.77 387.91h0.85v0.85h-0.85zM218.74 375.85h0.85v0.85h-0.85zM194.02 392.62h0.85v0.85h-0.85zM216.68 373.48h0.85v0.85h-0.85zM220.52 360.67h0.85v0.85h-0.85zM186.86 396.45h0.85v0.85h-0.85zM197.11 381.51h0.85v0.85h-0.85zM200.95 381.8h0.85v0.85h-0.85zM189 389.84h0.85v0.85h-0.85zM206.04 376.69h0.85v0.85h-0.85zM222.29 367.93h0.85v0.85h-0.85zM188.15 388.19h0.85v0.85h-0.85zM201.9 379.61h0.85v0.85h-0.85zM192.29 384.94h0.85v0.85h-0.85zM204.4 376.37h0.85v0.85h-0.85zM197.47 381.43h0.85v0.85h-0.85zM172.97 396.48h0.85v0.85h-0.85zM185.98 391.02h0.85v0.85h-0.85zM195.51 385.08h0.85v0.85h-0.85zM195.44 382.85h0.85v0.85h-0.85zM197.23 380.58h0.85v0.85h-0.85zM208.26 369.9h0.85v0.85h-0.85zM208.32 376.41h0.85v0.85h-0.85zM175.05 394.74h0.85v0.85h-0.85zM214.78 381.5h0.85v0.85h-0.85zM202.72 378.27h0.85v0.85h-0.85zM186.97 391.19h0.85v0.85h-0.85zM199.86 381.2h0.85v0.85h-0.85zM202.93 384.85h0.85v0.85h-0.85zM236.73 360.18h0.85v0.85h-0.85zM191.51 387.02h0.85v0.85h-0.85zM206.01 371.86h0.85v0.85h-0.85zM183.11 392.23h0.85v0.85h-0.85zM202.98 380.53h0.85v0.85h-0.85zM214.53 372.7h0.85v0.85h-0.85zM217.42 374.78h0.85v0.85h-0.85zM211.82 361.57h0.85v0.85h-0.85zM194.86 392.1h0.85v0.85h-0.85zM211.5 385.9h0.85v0.85h-0.85zM197.71 390.39h0.85v0.85h-0.85zM199.54 388.24h0.85v0.85h-0.85zM200.62 383.54h0.85v0.85h-0.85zM198.82 380.36h0.85v0.85h-0.85zM202.6 388.17h0.85v0.85h-0.85zM199.29 393.07h0.85v0.85h-0.85zM184.69 392.88h0.85v0.85h-0.85zM210.87 368.57h0.85v0.85h-0.85zM211.98 376.73h0.85v0.85h-0.85zM213.04 366.91h0.85v0.85h-0.85zM214.68 366.04h0.85v0.85h-0.85zM207.43 381.14h0.85v0.85h-0.85zM193.3 390.9h0.85v0.85h-0.85zM200.44 387.52h0.85v0.85h-0.85zM191.6 386.01h0.85v0.85h-0.85zM211.92 374.29h0.85v0.85h-0.85zM190.33 376.04h0.85v0.85h-0.85zM199.87 386.39h0.85v0.85h-0.85zM181.28 392.76h0.85v0.85h-0.85zM196.17 387.9h0.85v0.85h-0.85zM196.84 383.59h0.85v0.85h-0.85zM200.8 381.75h0.85v0.85h-0.85zM177.02 395.76h0.85v0.85h-0.85zM207.45 375.84h0.85v0.85h-0.85zM202.64 380.04h0.85v0.85h-0.85zM189.26 395.36h0.85v0.85h-0.85zM216.91 375.67h0.85v0.85h-0.85zM212.72 373.72h0.85v0.85h-0.85zM202.69 380.06h0.85v0.85h-0.85zM217.61 373.72h0.85v0.85h-0.85zM196.52 389.74h0.85v0.85h-0.85zM189.48 383.22h0.85v0.85h-0.85zM207.2 386.31h0.85v0.85h-0.85zM198.1 373.74h0.85v0.85h-0.85zM189.94 383.54h0.85v0.85h-0.85zM190.14 387.55h0.85v0.85h-0.85zM202.63 381.69h0.85v0.85h-0.85zM221.35 374.76h0.85v0.85h-0.85zM214.04 380.2h0.85v0.85h-0.85zM193.81 385.82h0.85v0.85h-0.85zM192.38 383.9h0.85v0.85h-0.85zM204.37 367.33h0.85v0.85h-0.85zM216.49 374.48h0.85v0.85h-0.85zM203.73 380.57h0.85v0.85h-0.85zM204.49 385.48h0.85v0.85h-0.85zM198.21 375.44h0.85v0.85h-0.85zM175.57 401.6h0.85v0.85h-0.85zM206.87 377.26h0.85v0.85h-0.85zM201.67 387.07h0.85v0.85h-0.85zM205.84 375.59h0.85v0.85h-0.85zM191.43 381.29h0.85v0.85h-0.85zM215.23 369.78h0.85v0.85h-0.85zM215.94 376.68h0.85v0.85h-0.85zM213.81 374.01h0.85v0.85h-0.85zM216.06 376.34h0.85v0.85h-0.85zM211.79 373.78h0.85v0.85h-0.85zM214.74 379.8h0.85v0.85h-0.85zM212.66 378.43h0.85v0.85h-0.85zM215.57 374.76h0.85v0.85h-0.85zM213.75 379.12h0.85v0.85h-0.85zM216.04 373.62h0.85v0.85h-0.85zM221.07 377.6h0.85v0.85h-0.85zM215.13 371.91h0.85v0.85h-0.85zM221.67 376.35h0.85v0.85h-0.85zM212.88 376.65h0.85v0.85h-0.85zM214.48 374.28h0.85v0.85h-0.85zM216.63 373.69h0.85v0.85h-0.85zM215.85 372.8h0.85v0.85h-0.85zM217.14 370.25h0.85v0.85h-0.85zM216.12 376.96h0.85v0.85h-0.85zM220.43 376.26h0.85v0.85h-0.85zM217.92 375.64h0.85v0.85h-0.85zM217.01 375.8h0.85v0.85h-0.85zM213.33 378.64h0.85v0.85h-0.85zM218.35 373.93h0.85v0.85h-0.85zM221.58 370.87h0.85v0.85h-0.85zM218 369.21h0.85v0.85h-0.85zM211.15 378.76h0.85v0.85h-0.85zM218.16 376.64h0.85v0.85h-0.85zM213.39 375.43h0.85v0.85h-0.85zM217.76 373.09h0.85v0.85h-0.85zM219.4 374.71h0.85v0.85h-0.85zM212.64 375.26h0.85v0.85h-0.85zM220.39 374.11h0.85v0.85h-0.85zM215.09 378.94h0.85v0.85h-0.85zM216.2 376.95h0.85v0.85h-0.85zM238.7 359.1h0.85v0.85h-0.85zM237.74 359.85h0.85v0.85h-0.85zM240.93 359.56h0.85v0.85h-0.85zM241.15 353.13h0.85v0.85h-0.85zM239.81 357.04h0.85v0.85h-0.85zM236.37 362.07h0.85v0.85h-0.85zM238.22 357.43h0.85v0.85h-0.85zM241.49 357.1h0.85v0.85h-0.85zM238.13 361.33h0.85v0.85h-0.85zM241.47 361.15h0.85v0.85h-0.85zM238.14 357.73h0.85v0.85h-0.85zM235.43 360.02h0.85v0.85h-0.85zM240.23 356.74h0.85v0.85h-0.85zM243.64 353.57h0.85v0.85h-0.85zM237.28 356.21h0.85v0.85h-0.85zM238.4 354.4h0.85v0.85h-0.85zM239 357.34h0.85v0.85h-0.85zM237.74 359.55h0.85v0.85h-0.85zM237.72 355.88h0.85v0.85h-0.85zM236.1 357.8h0.85v0.85h-0.85zM241.1 353.03h0.85v0.85h-0.85zM237.77 356.04h0.85v0.85h-0.85zM236.98 355.31h0.85v0.85h-0.85zM241.88 357.78h0.85v0.85h-0.85zM240.29 354.13h0.85v0.85h-0.85zM239.35 355.31h0.85v0.85h-0.85zM242.63 356.7h0.85v0.85h-0.85zM239.54 362.15h0.85v0.85h-0.85zM235.62 358.19h0.85v0.85h-0.85zM239.84 358.77h0.85v0.85h-0.85zM240.23 359.2h0.85v0.85h-0.85zM239.64 357.56h0.85v0.85h-0.85z" fill="#000" opacity="0.5"/>
<path d="M215.02 375.64h0.85v0.85h-0.85zM215.91 373.54h0.85v0.85h-0.85zM218.62 376.54h0.85v0.85h-0.85zM218.6 374.63h0.85v0.85h-0.85zM212.44 376.06h0.85v0.85h-0.85zM216.9 370.2h0.85v0.85h-0.85zM213.15 376.14h0.85v0.85h-0.85zM214.1 378.28h0.85v0.85h-0.85zM217.72 374.16h0.85v0.85h-0.85zM216.94 378.83h0.85v0.85h-0.85zM216.08 374.09h0.85v0.85h-0.85zM216.01 373.97h0.85v0.85h-0.85zM212.12 377.57h0.85v0.85h-0.85zM213.71 369.16h0.85v0.85h-0.85zM219.21 378.33h0.85v0.85h-0.85zM215.53 375.68h0.85v0.85h-0.85zM216.48 377.24h0.85v0.85h-0.85zM214.98 374.75h0.85v0.85h-0.85zM215.44 378.05h0.85v0.85h-0.85zM214.84 373.76h0.85v0.85h-0.85zM215.13 370.93h0.85v0.85h-0.85zM219.42 373.51h0.85v0.85h-0.85zM214.41 374.67h0.85v0.85h-0.85zM215.83 380.05h0.85v0.85h-0.85zM216.21 373.68h0.85v0.85h-0.85zM241.13 359.29h0.85v0.85h-0.85zM239.54 356.68h0.85v0.85h-0.85zM239.23 355.65h0.85v0.85h-0.85zM238.15 358.45h0.85v0.85h-0.85zM241.08 354.67h0.85v0.85h-0.85zM241.09 357.68h0.85v0.85h-0.85zM238.73 355.52h0.85v0.85h-0.85zM239.79 356.69h0.85v0.85h-0.85zM239.3 356.77h0.85v0.85h-0.85zM235.32 360.42h0.85v0.85h-0.85zM241.69 359.44h0.85v0.85h-0.85zM237.33 362.63h0.85v0.85h-0.85zM243.89 354.32h0.85v0.85h-0.85zM238.54 362.14h0.85v0.85h-0.85zM242.19 358.65h0.85v0.85h-0.85zM234.86 358.24h0.85v0.85h-0.85zM239.62 357.33h0.85v0.85h-0.85zM233.72 360.72h0.85v0.85h-0.85zM238.28 361.22h0.85v0.85h-0.85zM240.06 358.24h0.85v0.85h-0.85zM244.04 357.65h0.85v0.85h-0.85zM242.22 358.3h0.85v0.85h-0.85zM239.45 356.15h0.85v0.85h-0.85zM243.3 358.97h0.85v0.85h-0.85zM240.05 351.11h0.85v0.85h-0.85zM241.53 356.51h0.85v0.85h-0.85zM237.34 356.14h0.85v0.85h-0.85zM243.67 356.13h0.85v0.85h-0.85z" fill="#000" opacity="0.75"/>
<ellipse cx="193.5" cy="392.5" rx="13.2" ry="8.2" fill="#000" opacity="0.1" transform="rotate(-28 193.5 392.5)"/>
<ellipse cx="205.5" cy="383.4" rx="17.7" ry="7.7" fill="#000" opacity="0.1" transform="rotate(-35 205.5 383.4)"/>
<ellipse cx="193.5" cy="392.5" rx="11.6" ry="6.6" fill="#000" opacity="0.3" transform="rotate(-28 193.5 392.5)"/>
<ellipse cx="205.5" cy="383.4" rx="16.1" ry="6.1" fill="#000" opacity="0.3" transform="rotate(-35 205.5 383.4)"/>
<ellipse cx="193.5" cy="392.5" rx="10" ry="5.2" fill="#000" transform="rotate(-28 193.5 392.5)"/>
<ellipse cx="205.5" cy="383.4" rx="14.5" ry="4.7" fill="#000" transform="rotate(-35 205.5 383.4)"/>
<ellipse cx="191.9" cy="395.1" rx="4.4" ry="1.8" fill="#ddd" stroke="#fafafa" stroke-width="1.0" transform="rotate(-10 191.9 395.1)"/>
<ellipse cx="191.9" cy="395.1" rx="1.85" ry="0.9" fill="#333" transform="rotate(-10 191.9 395.1)"/>
<rect x="220.7" y="338.5" width="33.4" height="39.9" fill="none" stroke="#9db88a" stroke-width="1.1"/>
<rect x="171.3" y="328.8" width="85.2" height="86.3" fill="none" stroke="#000" stroke-width="1.35"/>
<text x="0" y="0" font-size="7.6" text-anchor="middle" font-weight="bold" fill="#1e1e1e" transform="translate(326.7 324) scale(1 1.12)">Nil</text>
<line x1="281" y1="337.1" x2="283.2" y2="337.1" stroke="#1e1e1e" stroke-width="0.9"/>
<text x="0" y="0" font-size="5.6" text-anchor="end" fill="#333" transform="translate(277.2 339.1) scale(1 1.12)">10</text>
<text x="0" y="0" font-size="3.5" text-anchor="start" fill="#333" transform="translate(277.3 336.4) scale(1 1.12)">5</text>
<line x1="281" y1="356.8" x2="283.2" y2="356.8" stroke="#1e1e1e" stroke-width="0.9"/>
<text x="0" y="0" font-size="5.6" text-anchor="end" fill="#333" transform="translate(277.2 358.8) scale(1 1.12)">10</text>
<text x="0" y="0" font-size="3.5" text-anchor="start" fill="#333" transform="translate(277.3 356.1) scale(1 1.12)">4</text>
<line x1="281" y1="381.1" x2="283.2" y2="381.1" stroke="#1e1e1e" stroke-width="0.9"/>
<text x="0" y="0" font-size="5.6" text-anchor="end" fill="#333" transform="translate(277.2 383.1) scale(1 1.12)">10</text>
<text x="0" y="0" font-size="3.5" text-anchor="start" fill="#333" transform="translate(277.3 380.4) scale(1 1.12)">3</text>
<line x1="281" y1="396" x2="283.2" y2="396" stroke="#1e1e1e" stroke-width="0.9"/>
<text x="0" y="0" font-size="5.6" text-anchor="end" fill="#333" transform="translate(279.2 398) scale(1 1.12)">0</text>
<line x1="281" y1="412" x2="283.2" y2="412" stroke="#1e1e1e" stroke-width="0.9"/>
<text x="0" y="0" font-size="5.6" text-anchor="end" fill="#333" transform="translate(277.2 414) scale(1 1.12)">-10</text>
<text x="0" y="0" font-size="3.5" text-anchor="start" fill="#333" transform="translate(277.3 411.3) scale(1 1.12)">3</text>
<line x1="282" y1="350.87" x2="283.2" y2="350.87" stroke="#1e1e1e" stroke-width="0.6"/>
<line x1="282" y1="347.4" x2="283.2" y2="347.4" stroke="#1e1e1e" stroke-width="0.6"/>
<line x1="282" y1="344.94" x2="283.2" y2="344.94" stroke="#1e1e1e" stroke-width="0.6"/>
<line x1="282" y1="343.03" x2="283.2" y2="343.03" stroke="#1e1e1e" stroke-width="0.6"/>
<line x1="282" y1="341.47" x2="283.2" y2="341.47" stroke="#1e1e1e" stroke-width="0.6"/>
<line x1="282" y1="340.15" x2="283.2" y2="340.15" stroke="#1e1e1e" stroke-width="0.6"/>
<line x1="282" y1="339.01" x2="283.2" y2="339.01" stroke="#1e1e1e" stroke-width="0.6"/>
<line x1="282" y1="338" x2="283.2" y2="338" stroke="#1e1e1e" stroke-width="0.6"/>
<line x1="282" y1="373.78" x2="283.2" y2="373.78" stroke="#1e1e1e" stroke-width="0.6"/>
<line x1="282" y1="369.51" x2="283.2" y2="369.51" stroke="#1e1e1e" stroke-width="0.6"/>
<line x1="282" y1="366.47" x2="283.2" y2="366.47" stroke="#1e1e1e" stroke-width="0.6"/>
<line x1="282" y1="364.12" x2="283.2" y2="364.12" stroke="#1e1e1e" stroke-width="0.6"/>
<line x1="282" y1="362.19" x2="283.2" y2="362.19" stroke="#1e1e1e" stroke-width="0.6"/>
<line x1="282" y1="360.56" x2="283.2" y2="360.56" stroke="#1e1e1e" stroke-width="0.6"/>
<line x1="282" y1="359.15" x2="283.2" y2="359.15" stroke="#1e1e1e" stroke-width="0.6"/>
<line x1="282" y1="357.91" x2="283.2" y2="357.91" stroke="#1e1e1e" stroke-width="0.6"/>
<line x1="288.2" y1="415.1" x2="288.2" y2="417.3" stroke="#1e1e1e" stroke-width="0.9"/>
<text x="0" y="0" font-size="5.6" text-anchor="middle" fill="#333" transform="translate(288.4 424.6) scale(1 1.12)">-10</text>
<text x="0" y="0" font-size="3.5" text-anchor="start" fill="#333" transform="translate(291.4 421.6) scale(1 1.12)">3</text>
<line x1="302.2" y1="415.1" x2="302.2" y2="417.3" stroke="#1e1e1e" stroke-width="0.9"/>
<text x="0" y="0" font-size="5.6" text-anchor="middle" fill="#333" transform="translate(302.2 424.6) scale(1 1.12)">0</text>
<line x1="318.5" y1="415.1" x2="318.5" y2="417.3" stroke="#1e1e1e" stroke-width="0.9"/>
<text x="0" y="0" font-size="5.6" text-anchor="middle" fill="#333" transform="translate(318.7 424.6) scale(1 1.12)">10</text>
<text x="0" y="0" font-size="3.5" text-anchor="start" fill="#333" transform="translate(321.7 421.6) scale(1 1.12)">3</text>
<line x1="342.2" y1="415.1" x2="342.2" y2="417.3" stroke="#1e1e1e" stroke-width="0.9"/>
<text x="0" y="0" font-size="5.6" text-anchor="middle" fill="#333" transform="translate(342.4 424.6) scale(1 1.12)">10</text>
<text x="0" y="0" font-size="3.5" text-anchor="start" fill="#333" transform="translate(345.4 421.6) scale(1 1.12)">4</text>
<line x1="362.7" y1="415.1" x2="362.7" y2="417.3" stroke="#1e1e1e" stroke-width="0.9"/>
<text x="0" y="0" font-size="5.6" text-anchor="middle" fill="#333" transform="translate(362.9 424.6) scale(1 1.12)">10</text>
<text x="0" y="0" font-size="3.5" text-anchor="start" fill="#333" transform="translate(365.9 421.6) scale(1 1.12)">5</text>
<line x1="325.63" y1="415.1" x2="325.63" y2="416.3" stroke="#1e1e1e" stroke-width="0.6"/>
<line x1="329.81" y1="415.1" x2="329.81" y2="416.3" stroke="#1e1e1e" stroke-width="0.6"/>
<line x1="332.77" y1="415.1" x2="332.77" y2="416.3" stroke="#1e1e1e" stroke-width="0.6"/>
<line x1="335.07" y1="415.1" x2="335.07" y2="416.3" stroke="#1e1e1e" stroke-width="0.6"/>
<line x1="336.94" y1="415.1" x2="336.94" y2="416.3" stroke="#1e1e1e" stroke-width="0.6"/>
<line x1="338.53" y1="415.1" x2="338.53" y2="416.3" stroke="#1e1e1e" stroke-width="0.6"/>
<line x1="339.9" y1="415.1" x2="339.9" y2="416.3" stroke="#1e1e1e" stroke-width="0.6"/>
<line x1="341.12" y1="415.1" x2="341.12" y2="416.3" stroke="#1e1e1e" stroke-width="0.6"/>
<line x1="348.37" y1="415.1" x2="348.37" y2="416.3" stroke="#1e1e1e" stroke-width="0.6"/>
<line x1="351.98" y1="415.1" x2="351.98" y2="416.3" stroke="#1e1e1e" stroke-width="0.6"/>
<line x1="354.54" y1="415.1" x2="354.54" y2="416.3" stroke="#1e1e1e" stroke-width="0.6"/>
<line x1="356.53" y1="415.1" x2="356.53" y2="416.3" stroke="#1e1e1e" stroke-width="0.6"/>
<line x1="358.15" y1="415.1" x2="358.15" y2="416.3" stroke="#1e1e1e" stroke-width="0.6"/>
<line x1="359.52" y1="415.1" x2="359.52" y2="416.3" stroke="#1e1e1e" stroke-width="0.6"/>
<line x1="360.71" y1="415.1" x2="360.71" y2="416.3" stroke="#1e1e1e" stroke-width="0.6"/>
<line x1="361.76" y1="415.1" x2="361.76" y2="416.3" stroke="#1e1e1e" stroke-width="0.6"/>
<text x="326.8" y="432.8" font-size="7.4" text-anchor="middle" fill="#2a2a2a" textLength="63" lengthAdjust="spacingAndGlyphs">Comp-APC-A::CD45</text>
<text x="266.9" y="372.4" font-size="7.4" text-anchor="middle" fill="#2a2a2a" textLength="55" lengthAdjust="spacingAndGlyphs" transform="rotate(-90 266.9 372.4)">Comp-PE-A::CD33</text>
<path d="M301.58 359.95h0.85v0.85h-0.85zM315.37 373h0.85v0.85h-0.85zM301.34 376.53h0.85v0.85h-0.85zM314.18 373.07h0.85v0.85h-0.85zM308.72 360.19h0.85v0.85h-0.85zM314.87 371.15h0.85v0.85h-0.85zM296.8 383.74h0.85v0.85h-0.85zM305.81 386.2h0.85v0.85h-0.85zM307.58 368.6h0.85v0.85h-0.85zM307.64 354.2h0.85v0.85h-0.85zM304.47 363.55h0.85v0.85h-0.85zM309.51 376.73h0.85v0.85h-0.85zM307.23 373.45h0.85v0.85h-0.85zM304.82 363.63h0.85v0.85h-0.85zM288.23 353.53h0.85v0.85h-0.85zM299 372.94h0.85v0.85h-0.85zM313.1 366.2h0.85v0.85h-0.85zM299.83 366.82h0.85v0.85h-0.85zM313.77 381.53h0.85v0.85h-0.85zM309.88 382.72h0.85v0.85h-0.85zM312.41 371.43h0.85v0.85h-0.85zM295.19 372.82h0.85v0.85h-0.85zM312.9 372h0.85v0.85h-0.85zM310.56 390.05h0.85v0.85h-0.85zM309.05 365.73h0.85v0.85h-0.85zM305.55 373.89h0.85v0.85h-0.85zM291.3 370.58h0.85v0.85h-0.85zM310.45 381.98h0.85v0.85h-0.85zM301.73 368h0.85v0.85h-0.85zM298.48 371.16h0.85v0.85h-0.85zM306.81 355.97h0.85v0.85h-0.85zM306.45 388.61h0.85v0.85h-0.85zM294.83 360.26h0.85v0.85h-0.85zM314.69 369.84h0.85v0.85h-0.85zM305.15 357.8h0.85v0.85h-0.85zM303.58 389.01h0.85v0.85h-0.85zM304.85 372.04h0.85v0.85h-0.85zM309.38 379.78h0.85v0.85h-0.85zM310.63 371.88h0.85v0.85h-0.85zM307.41 377.38h0.85v0.85h-0.85zM310.21 381.38h0.85v0.85h-0.85zM300.44 373.22h0.85v0.85h-0.85zM349.98 365.55h0.85v0.85h-0.85zM349.96 358.05h0.85v0.85h-0.85zM351.33 351.79h0.85v0.85h-0.85zM343.45 369.1h0.85v0.85h-0.85zM347.83 360.92h0.85v0.85h-0.85zM351.57 359.35h0.85v0.85h-0.85zM341.75 360.59h0.85v0.85h-0.85zM359.12 351.28h0.85v0.85h-0.85zM350.33 369.28h0.85v0.85h-0.85zM347.26 362.9h0.85v0.85h-0.85zM353.44 362.63h0.85v0.85h-0.85zM344.82 359.54h0.85v0.85h-0.85zM350.65 354.33h0.85v0.85h-0.85zM349.09 363.41h0.85v0.85h-0.85zM349.33 361.85h0.85v0.85h-0.85zM348.73 354.53h0.85v0.85h-0.85zM352.27 362.87h0.85v0.85h-0.85zM348.69 358.2h0.85v0.85h-0.85zM344.46 364.31h0.85v0.85h-0.85zM342.57 387.29h0.85v0.85h-0.85zM331.6 383.54h0.85v0.85h-0.85zM335.15 379.53h0.85v0.85h-0.85zM340.1 393.94h0.85v0.85h-0.85zM341.17 386.82h0.85v0.85h-0.85zM345.04 393.14h0.85v0.85h-0.85zM346.59 381.81h0.85v0.85h-0.85zM343.65 372.37h0.85v0.85h-0.85zM343.77 376.63h0.85v0.85h-0.85zM338.8 400.98h0.85v0.85h-0.85zM350.37 386.55h0.85v0.85h-0.85zM340.06 383.86h0.85v0.85h-0.85zM348.95 387.51h0.85v0.85h-0.85zM349.3 384.78h0.85v0.85h-0.85zM344.19 380.18h0.85v0.85h-0.85zM339.34 383.59h0.85v0.85h-0.85zM341.04 378.32h0.85v0.85h-0.85zM340.19 388.77h0.85v0.85h-0.85zM342.2 384.06h0.85v0.85h-0.85zM347.81 393.56h0.85v0.85h-0.85zM347.06 392.84h0.85v0.85h-0.85zM340.39 382.11h0.85v0.85h-0.85zM345.89 381.65h0.85v0.85h-0.85zM343.03 395.85h0.85v0.85h-0.85zM350.49 384.03h0.85v0.85h-0.85zM337.61 392.84h0.85v0.85h-0.85zM363.79 388.74h0.85v0.85h-0.85zM338.1 385.98h0.85v0.85h-0.85zM343.01 382.91h0.85v0.85h-0.85zM341.54 395.68h0.85v0.85h-0.85zM331.42 387.77h0.85v0.85h-0.85zM345.36 379.65h0.85v0.85h-0.85zM332.93 371.77h0.85v0.85h-0.85zM365.67 391.28h0.85v0.85h-0.85zM345.54 398.18h0.85v0.85h-0.85zM349.44 354.25h0.85v0.85h-0.85zM288.42 334.73h0.85v0.85h-0.85zM327.55 392.37h0.85v0.85h-0.85zM300.75 364.08h0.85v0.85h-0.85zM303.81 348.04h0.85v0.85h-0.85zM306.25 368.15h0.85v0.85h-0.85zM304.73 369.24h0.85v0.85h-0.85zM342.24 385.27h0.85v0.85h-0.85zM293.41 364.37h0.85v0.85h-0.85zM328.79 354.48h0.85v0.85h-0.85zM314.82 351.22h0.85v0.85h-0.85zM338.97 357.97h0.85v0.85h-0.85zM288.28 365.08h0.85v0.85h-0.85zM353.86 336.49h0.85v0.85h-0.85zM292.1 335.48h0.85v0.85h-0.85z" fill="#000" opacity="0.15"/>
<path d="M327.17 372.68h0.85v0.85h-0.85zM297.97 384.99h0.85v0.85h-0.85zM320.45 390.26h0.85v0.85h-0.85zM313.43 380.25h0.85v0.85h-0.85zM296.23 401.94h0.85v0.85h-0.85zM314.32 384.72h0.85v0.85h-0.85zM287.51 401.59h0.85v0.85h-0.85zM325.44 383.77h0.85v0.85h-0.85zM313.73 381.43h0.85v0.85h-0.85zM292.7 392.16h0.85v0.85h-0.85zM298.91 394.18h0.85v0.85h-0.85zM321.8 385.31h0.85v0.85h-0.85zM291.58 381.51h0.85v0.85h-0.85zM302.86 387.46h0.85v0.85h-0.85zM321.05 378.98h0.85v0.85h-0.85zM313.02 381.41h0.85v0.85h-0.85zM330.01 372.98h0.85v0.85h-0.85zM323.95 371h0.85v0.85h-0.85zM325.98 368.32h0.85v0.85h-0.85zM327.86 365.97h0.85v0.85h-0.85zM312.76 370.9h0.85v0.85h-0.85zM320.42 374.48h0.85v0.85h-0.85zM324.69 367.26h0.85v0.85h-0.85zM305.7 389.63h0.85v0.85h-0.85zM284.4 398.05h0.85v0.85h-0.85zM314.96 382.74h0.85v0.85h-0.85zM322.26 373.45h0.85v0.85h-0.85zM307.11 382.77h0.85v0.85h-0.85zM307.74 379.46h0.85v0.85h-0.85zM317.46 378.43h0.85v0.85h-0.85zM300.75 384h0.85v0.85h-0.85zM312.87 384.3h0.85v0.85h-0.85zM308.87 384.44h0.85v0.85h-0.85zM322.03 372.79h0.85v0.85h-0.85zM315.69 386.36h0.85v0.85h-0.85zM298.45 395.41h0.85v0.85h-0.85zM313.91 380.2h0.85v0.85h-0.85zM307.07 381.9h0.85v0.85h-0.85zM314.65 379.07h0.85v0.85h-0.85zM308.1 382.24h0.85v0.85h-0.85zM293.53 396.8h0.85v0.85h-0.85zM304.38 393.94h0.85v0.85h-0.85zM305.36 394.69h0.85v0.85h-0.85zM307.05 391.7h0.85v0.85h-0.85zM325.1 364.32h0.85v0.85h-0.85zM313.59 387.52h0.85v0.85h-0.85zM316.18 383.89h0.85v0.85h-0.85zM309.36 372.8h0.85v0.85h-0.85zM303.08 383.61h0.85v0.85h-0.85zM308.71 386.19h0.85v0.85h-0.85zM315.07 387.25h0.85v0.85h-0.85zM324.39 371.36h0.85v0.85h-0.85zM300.69 390.15h0.85v0.85h-0.85zM337.34 374.75h0.85v0.85h-0.85zM289.11 401.36h0.85v0.85h-0.85zM306.69 386.89h0.85v0.85h-0.85zM295.86 385.91h0.85v0.85h-0.85zM299.69 384h0.85v0.85h-0.85zM301.16 382.92h0.85v0.85h-0.85zM325.33 374.36h0.85v0.85h-0.85zM308.31 386.6h0.85v0.85h-0.85zM312.38 387.51h0.85v0.85h-0.85zM322.24 373.53h0.85v0.85h-0.85zM339.79 364.98h0.85v0.85h-0.85zM308.01 381.85h0.85v0.85h-0.85zM325.04 373.88h0.85v0.85h-0.85zM330.25 368.74h0.85v0.85h-0.85zM306.42 389.7h0.85v0.85h-0.85zM294.46 390.48h0.85v0.85h-0.85zM319.95 380.8h0.85v0.85h-0.85zM314.43 387.37h0.85v0.85h-0.85zM315.35 379.17h0.85v0.85h-0.85zM313.15 377.55h0.85v0.85h-0.85zM328.89 369.34h0.85v0.85h-0.85zM337.77 369.48h0.85v0.85h-0.85zM334.7 364.63h0.85v0.85h-0.85zM313.56 397.1h0.85v0.85h-0.85zM314.83 372.63h0.85v0.85h-0.85zM331.01 360.6h0.85v0.85h-0.85zM310.36 381.82h0.85v0.85h-0.85zM307.5 394.55h0.85v0.85h-0.85zM304.46 389.13h0.85v0.85h-0.85zM317.62 378.62h0.85v0.85h-0.85zM301.97 388.06h0.85v0.85h-0.85zM319.94 380.48h0.85v0.85h-0.85zM316.05 378h0.85v0.85h-0.85zM321.72 370.61h0.85v0.85h-0.85zM310.21 394.21h0.85v0.85h-0.85zM317.6 371.53h0.85v0.85h-0.85zM298.33 377.03h0.85v0.85h-0.85zM321.36 366.4h0.85v0.85h-0.85zM309.67 379.64h0.85v0.85h-0.85zM314.19 370.31h0.85v0.85h-0.85zM312.65 381.87h0.85v0.85h-0.85zM329.12 382.69h0.85v0.85h-0.85zM318.61 378.66h0.85v0.85h-0.85zM316.71 381.86h0.85v0.85h-0.85zM309.15 390.68h0.85v0.85h-0.85zM303.36 395.09h0.85v0.85h-0.85zM327.12 376.97h0.85v0.85h-0.85zM313.22 377.74h0.85v0.85h-0.85zM319.15 380.96h0.85v0.85h-0.85zM327.56 377.56h0.85v0.85h-0.85zM312.07 381.27h0.85v0.85h-0.85zM291.82 388.01h0.85v0.85h-0.85zM328.34 374.48h0.85v0.85h-0.85zM313.04 387.28h0.85v0.85h-0.85zM332.97 379.89h0.85v0.85h-0.85zM306.73 387.38h0.85v0.85h-0.85zM312.69 379.52h0.85v0.85h-0.85zM302.88 384.51h0.85v0.85h-0.85zM317.13 388.31h0.85v0.85h-0.85zM337.21 372.76h0.85v0.85h-0.85zM344.46 364.59h0.85v0.85h-0.85zM329.88 374.15h0.85v0.85h-0.85zM303.44 379.58h0.85v0.85h-0.85zM337.5 368.02h0.85v0.85h-0.85zM307.95 380.04h0.85v0.85h-0.85zM301 392.34h0.85v0.85h-0.85zM310.97 377.48h0.85v0.85h-0.85zM311.15 380.22h0.85v0.85h-0.85zM301.43 385.41h0.85v0.85h-0.85zM310.41 355.84h0.85v0.85h-0.85zM317.13 358.89h0.85v0.85h-0.85zM305.93 379.8h0.85v0.85h-0.85zM310.03 369.63h0.85v0.85h-0.85zM306.97 365.65h0.85v0.85h-0.85zM298.68 386.33h0.85v0.85h-0.85zM308.32 355.34h0.85v0.85h-0.85zM311.58 368.63h0.85v0.85h-0.85zM306.32 370.83h0.85v0.85h-0.85zM307.33 381.5h0.85v0.85h-0.85zM302.64 381.5h0.85v0.85h-0.85zM302.08 383.84h0.85v0.85h-0.85zM302.9 379.52h0.85v0.85h-0.85zM306.69 380.24h0.85v0.85h-0.85zM300.82 362.36h0.85v0.85h-0.85zM302.82 373.7h0.85v0.85h-0.85zM309.73 357.66h0.85v0.85h-0.85zM307.61 390.3h0.85v0.85h-0.85zM308.84 369.42h0.85v0.85h-0.85zM303.56 367.64h0.85v0.85h-0.85zM297.97 377.63h0.85v0.85h-0.85zM305.15 365.38h0.85v0.85h-0.85zM313.88 357.87h0.85v0.85h-0.85zM309.51 371.86h0.85v0.85h-0.85zM301.22 379.55h0.85v0.85h-0.85zM301.38 371.84h0.85v0.85h-0.85zM310.7 358.99h0.85v0.85h-0.85zM350.13 364.58h0.85v0.85h-0.85zM352.02 354.4h0.85v0.85h-0.85zM342.67 362.21h0.85v0.85h-0.85zM356.68 360.06h0.85v0.85h-0.85zM355.5 359.73h0.85v0.85h-0.85zM348.73 354.75h0.85v0.85h-0.85zM343.7 363.11h0.85v0.85h-0.85zM352.57 358.15h0.85v0.85h-0.85zM353.04 358.44h0.85v0.85h-0.85zM353.86 362.72h0.85v0.85h-0.85zM346.33 358.99h0.85v0.85h-0.85zM343.56 356.94h0.85v0.85h-0.85zM344.84 370.25h0.85v0.85h-0.85zM354.96 354.51h0.85v0.85h-0.85zM352 363.87h0.85v0.85h-0.85zM339.96 362.66h0.85v0.85h-0.85zM344.49 368.91h0.85v0.85h-0.85zM342.89 362.58h0.85v0.85h-0.85zM352.25 362.15h0.85v0.85h-0.85zM344.81 355.75h0.85v0.85h-0.85zM349.51 350.89h0.85v0.85h-0.85zM340.62 384.8h0.85v0.85h-0.85zM349.46 391.61h0.85v0.85h-0.85zM348.32 398.11h0.85v0.85h-0.85zM340.52 384.59h0.85v0.85h-0.85zM338.31 389.1h0.85v0.85h-0.85zM347.38 381.23h0.85v0.85h-0.85zM347.52 390.33h0.85v0.85h-0.85zM333.99 376.64h0.85v0.85h-0.85zM338.35 390.46h0.85v0.85h-0.85zM349.9 385.4h0.85v0.85h-0.85zM353.68 393.48h0.85v0.85h-0.85zM350.62 394.33h0.85v0.85h-0.85zM364.37 386.16h0.85v0.85h-0.85zM334.47 393.12h0.85v0.85h-0.85zM351.12 380.62h0.85v0.85h-0.85zM343.36 387.59h0.85v0.85h-0.85zM352.71 393.23h0.85v0.85h-0.85zM344.29 389.36h0.85v0.85h-0.85z" fill="#000" opacity="0.3"/>
<path d="M312.87 380.42h0.85v0.85h-0.85zM304.46 384.41h0.85v0.85h-0.85zM304.89 379.11h0.85v0.85h-0.85zM333.96 369.52h0.85v0.85h-0.85zM321.66 378.8h0.85v0.85h-0.85zM312.08 379.35h0.85v0.85h-0.85zM301.07 389.46h0.85v0.85h-0.85zM309.09 381.95h0.85v0.85h-0.85zM313.44 379.91h0.85v0.85h-0.85zM299.1 395.04h0.85v0.85h-0.85zM312.17 385.12h0.85v0.85h-0.85zM332.55 381.29h0.85v0.85h-0.85zM309.42 373.08h0.85v0.85h-0.85zM314.08 385.94h0.85v0.85h-0.85zM303.07 387.62h0.85v0.85h-0.85zM332.28 375.88h0.85v0.85h-0.85zM319.75 377.27h0.85v0.85h-0.85zM307.2 383.7h0.85v0.85h-0.85zM311.23 378.77h0.85v0.85h-0.85zM301.98 382.88h0.85v0.85h-0.85zM317.57 381.32h0.85v0.85h-0.85zM302.85 383.27h0.85v0.85h-0.85zM318.47 373.24h0.85v0.85h-0.85zM320.16 379.81h0.85v0.85h-0.85zM325.27 381.19h0.85v0.85h-0.85zM322.41 377.63h0.85v0.85h-0.85zM315.41 377.93h0.85v0.85h-0.85zM304.62 395.12h0.85v0.85h-0.85zM329.55 373.61h0.85v0.85h-0.85zM314.14 382.83h0.85v0.85h-0.85zM308.15 385.69h0.85v0.85h-0.85zM318.45 380.09h0.85v0.85h-0.85zM331.16 363.53h0.85v0.85h-0.85zM290.99 392.48h0.85v0.85h-0.85zM315.35 384.23h0.85v0.85h-0.85zM315.39 382.96h0.85v0.85h-0.85zM325.12 376.85h0.85v0.85h-0.85zM321.63 379.07h0.85v0.85h-0.85zM330.25 374.26h0.85v0.85h-0.85zM305.1 386.52h0.85v0.85h-0.85zM308.86 382.12h0.85v0.85h-0.85zM329.09 379.77h0.85v0.85h-0.85zM306.36 374.75h0.85v0.85h-0.85zM295.07 398.1h0.85v0.85h-0.85zM323.8 377.1h0.85v0.85h-0.85zM320.46 383.42h0.85v0.85h-0.85zM313.25 381.87h0.85v0.85h-0.85zM301.66 385.62h0.85v0.85h-0.85zM318.97 378.02h0.85v0.85h-0.85zM309.86 385.44h0.85v0.85h-0.85zM324.93 362.28h0.85v0.85h-0.85zM303.32 392.34h0.85v0.85h-0.85zM302.39 391.76h0.85v0.85h-0.85zM301.46 393.21h0.85v0.85h-0.85zM306.3 385.08h0.85v0.85h-0.85zM304.06 383.36h0.85v0.85h-0.85zM302.34 384.61h0.85v0.85h-0.85zM313.28 381.14h0.85v0.85h-0.85zM318.31 375.91h0.85v0.85h-0.85zM306.32 391.55h0.85v0.85h-0.85zM302.2 390.79h0.85v0.85h-0.85zM303.06 386.29h0.85v0.85h-0.85zM300.46 381.27h0.85v0.85h-0.85zM299.7 402.57h0.85v0.85h-0.85zM302.99 397.63h0.85v0.85h-0.85zM316.12 381.9h0.85v0.85h-0.85zM314.26 382.27h0.85v0.85h-0.85zM318.88 377.47h0.85v0.85h-0.85zM323.27 377.61h0.85v0.85h-0.85zM304.16 391.61h0.85v0.85h-0.85zM306.57 398.56h0.85v0.85h-0.85zM308.36 380.84h0.85v0.85h-0.85zM314.85 371.37h0.85v0.85h-0.85zM312.65 384.55h0.85v0.85h-0.85zM313.43 375.45h0.85v0.85h-0.85zM315.85 374.08h0.85v0.85h-0.85zM309.94 377.09h0.85v0.85h-0.85zM317.11 384.26h0.85v0.85h-0.85zM347.43 356.87h0.85v0.85h-0.85zM316.55 381.3h0.85v0.85h-0.85zM310.64 372.5h0.85v0.85h-0.85zM304.89 392.15h0.85v0.85h-0.85zM312.54 373.04h0.85v0.85h-0.85zM305.45 380.96h0.85v0.85h-0.85zM294.98 398.15h0.85v0.85h-0.85zM311.82 377.15h0.85v0.85h-0.85zM311.95 373.3h0.85v0.85h-0.85zM308.59 383.22h0.85v0.85h-0.85zM312.96 384.33h0.85v0.85h-0.85zM309.46 385.54h0.85v0.85h-0.85zM296.02 391.99h0.85v0.85h-0.85zM322.98 381.71h0.85v0.85h-0.85zM317.95 382.02h0.85v0.85h-0.85zM316.77 389.49h0.85v0.85h-0.85zM287.94 401.86h0.85v0.85h-0.85zM322.29 372.21h0.85v0.85h-0.85zM313.38 380.51h0.85v0.85h-0.85zM315.68 371.71h0.85v0.85h-0.85zM324.59 378.42h0.85v0.85h-0.85zM324.26 375.33h0.85v0.85h-0.85zM329.91 372.9h0.85v0.85h-0.85zM323.06 377.34h0.85v0.85h-0.85zM325.07 375.44h0.85v0.85h-0.85zM329.23 371.34h0.85v0.85h-0.85zM324.88 377.66h0.85v0.85h-0.85zM331.88 373.37h0.85v0.85h-0.85zM326 381.9h0.85v0.85h-0.85zM331.05 377.28h0.85v0.85h-0.85zM329.15 375.62h0.85v0.85h-0.85zM329.08 376.45h0.85v0.85h-0.85zM326.31 377.2h0.85v0.85h-0.85zM329.58 373.12h0.85v0.85h-0.85zM326.61 374.7h0.85v0.85h-0.85zM325.05 379.47h0.85v0.85h-0.85zM319.41 376.57h0.85v0.85h-0.85zM328.89 375.75h0.85v0.85h-0.85zM331.35 373.81h0.85v0.85h-0.85zM328.86 376.03h0.85v0.85h-0.85zM329.21 377.32h0.85v0.85h-0.85zM331.73 381.06h0.85v0.85h-0.85zM323.12 377.93h0.85v0.85h-0.85zM326.11 373.02h0.85v0.85h-0.85zM324.19 375h0.85v0.85h-0.85zM328.27 370.07h0.85v0.85h-0.85zM323.46 378.65h0.85v0.85h-0.85zM326.99 375.87h0.85v0.85h-0.85zM327.4 373.48h0.85v0.85h-0.85z" fill="#000" opacity="0.5"/>
<path d="M328.75 377.74h0.85v0.85h-0.85zM329.37 373.88h0.85v0.85h-0.85zM325.71 374.3h0.85v0.85h-0.85zM332.03 374.07h0.85v0.85h-0.85zM326.65 379.76h0.85v0.85h-0.85zM328.27 374.74h0.85v0.85h-0.85zM324.83 374.88h0.85v0.85h-0.85zM322.92 376.49h0.85v0.85h-0.85zM326.87 374.55h0.85v0.85h-0.85zM322.15 375.79h0.85v0.85h-0.85zM326.82 379.28h0.85v0.85h-0.85zM324.16 375.43h0.85v0.85h-0.85zM329.04 378.9h0.85v0.85h-0.85zM328.09 378.08h0.85v0.85h-0.85zM330.42 374.68h0.85v0.85h-0.85zM325.8 383.42h0.85v0.85h-0.85zM327.33 378.68h0.85v0.85h-0.85zM332.42 377.95h0.85v0.85h-0.85zM323.2 375.59h0.85v0.85h-0.85zM323.2 380.61h0.85v0.85h-0.85zM322.61 377.06h0.85v0.85h-0.85z" fill="#000" opacity="0.75"/>
<ellipse cx="305.2" cy="393.2" rx="12.7" ry="7.8" fill="#000" opacity="0.1" transform="rotate(-24 305.2 393.2)"/>
<ellipse cx="316.7" cy="384.8" rx="18.2" ry="7.6" fill="#000" opacity="0.1" transform="rotate(-36 316.7 384.8)"/>
<ellipse cx="305.2" cy="393.2" rx="11.1" ry="6.2" fill="#000" opacity="0.3" transform="rotate(-24 305.2 393.2)"/>
<ellipse cx="316.7" cy="384.8" rx="16.6" ry="6" fill="#000" opacity="0.3" transform="rotate(-36 316.7 384.8)"/>
<ellipse cx="305.2" cy="393.2" rx="9.5" ry="4.8" fill="#000" transform="rotate(-24 305.2 393.2)"/>
<ellipse cx="316.7" cy="384.8" rx="15" ry="4.6" fill="#000" transform="rotate(-36 316.7 384.8)"/>
<ellipse cx="303.9" cy="394.6" rx="3.5" ry="1.5" fill="#ddd" stroke="#fafafa" stroke-width="1.0" transform="rotate(-10 303.9 394.6)"/>
<ellipse cx="303.9" cy="394.6" rx="1.47" ry="0.75" fill="#333" transform="rotate(-10 303.9 394.6)"/>
<rect x="332.6" y="338.5" width="33.4" height="39.9" fill="none" stroke="#5d7398" stroke-width="1.1"/>
<rect x="283.2" y="328.8" width="85.3" height="86.3" fill="none" stroke="#000" stroke-width="1.35"/>
<text x="0" y="0" font-size="7.6" text-anchor="middle" font-weight="bold" fill="#1e1e1e" transform="translate(439.2 324) scale(1 1.12)">Nil+WNT974</text>
<line x1="393.5" y1="337.1" x2="395.7" y2="337.1" stroke="#1e1e1e" stroke-width="0.9"/>
<text x="0" y="0" font-size="5.6" text-anchor="end" fill="#333" transform="translate(389.7 339.1) scale(1 1.12)">10</text>
<text x="0" y="0" font-size="3.5" text-anchor="start" fill="#333" transform="translate(389.8 336.4) scale(1 1.12)">5</text>
<line x1="393.5" y1="356.8" x2="395.7" y2="356.8" stroke="#1e1e1e" stroke-width="0.9"/>
<text x="0" y="0" font-size="5.6" text-anchor="end" fill="#333" transform="translate(389.7 358.8) scale(1 1.12)">10</text>
<text x="0" y="0" font-size="3.5" text-anchor="start" fill="#333" transform="translate(389.8 356.1) scale(1 1.12)">4</text>
<line x1="393.5" y1="381.1" x2="395.7" y2="381.1" stroke="#1e1e1e" stroke-width="0.9"/>
<text x="0" y="0" font-size="5.6" text-anchor="end" fill="#333" transform="translate(389.7 383.1) scale(1 1.12)">10</text>
<text x="0" y="0" font-size="3.5" text-anchor="start" fill="#333" transform="translate(389.8 380.4) scale(1 1.12)">3</text>
<line x1="393.5" y1="396" x2="395.7" y2="396" stroke="#1e1e1e" stroke-width="0.9"/>
<text x="0" y="0" font-size="5.6" text-anchor="end" fill="#333" transform="translate(391.7 398) scale(1 1.12)">0</text>
<line x1="393.5" y1="412" x2="395.7" y2="412" stroke="#1e1e1e" stroke-width="0.9"/>
<text x="0" y="0" font-size="5.6" text-anchor="end" fill="#333" transform="translate(389.7 414) scale(1 1.12)">-10</text>
<text x="0" y="0" font-size="3.5" text-anchor="start" fill="#333" transform="translate(389.8 411.3) scale(1 1.12)">3</text>
<line x1="394.5" y1="350.87" x2="395.7" y2="350.87" stroke="#1e1e1e" stroke-width="0.6"/>
<line x1="394.5" y1="347.4" x2="395.7" y2="347.4" stroke="#1e1e1e" stroke-width="0.6"/>
<line x1="394.5" y1="344.94" x2="395.7" y2="344.94" stroke="#1e1e1e" stroke-width="0.6"/>
<line x1="394.5" y1="343.03" x2="395.7" y2="343.03" stroke="#1e1e1e" stroke-width="0.6"/>
<line x1="394.5" y1="341.47" x2="395.7" y2="341.47" stroke="#1e1e1e" stroke-width="0.6"/>
<line x1="394.5" y1="340.15" x2="395.7" y2="340.15" stroke="#1e1e1e" stroke-width="0.6"/>
<line x1="394.5" y1="339.01" x2="395.7" y2="339.01" stroke="#1e1e1e" stroke-width="0.6"/>
<line x1="394.5" y1="338" x2="395.7" y2="338" stroke="#1e1e1e" stroke-width="0.6"/>
<line x1="394.5" y1="373.78" x2="395.7" y2="373.78" stroke="#1e1e1e" stroke-width="0.6"/>
<line x1="394.5" y1="369.51" x2="395.7" y2="369.51" stroke="#1e1e1e" stroke-width="0.6"/>
<line x1="394.5" y1="366.47" x2="395.7" y2="366.47" stroke="#1e1e1e" stroke-width="0.6"/>
<line x1="394.5" y1="364.12" x2="395.7" y2="364.12" stroke="#1e1e1e" stroke-width="0.6"/>
<line x1="394.5" y1="362.19" x2="395.7" y2="362.19" stroke="#1e1e1e" stroke-width="0.6"/>
<line x1="394.5" y1="360.56" x2="395.7" y2="360.56" stroke="#1e1e1e" stroke-width="0.6"/>
<line x1="394.5" y1="359.15" x2="395.7" y2="359.15" stroke="#1e1e1e" stroke-width="0.6"/>
<line x1="394.5" y1="357.91" x2="395.7" y2="357.91" stroke="#1e1e1e" stroke-width="0.6"/>
<line x1="400.7" y1="415.1" x2="400.7" y2="417.3" stroke="#1e1e1e" stroke-width="0.9"/>
<text x="0" y="0" font-size="5.6" text-anchor="middle" fill="#333" transform="translate(400.9 424.6) scale(1 1.12)">-10</text>
<text x="0" y="0" font-size="3.5" text-anchor="start" fill="#333" transform="translate(403.9 421.6) scale(1 1.12)">3</text>
<line x1="414.7" y1="415.1" x2="414.7" y2="417.3" stroke="#1e1e1e" stroke-width="0.9"/>
<text x="0" y="0" font-size="5.6" text-anchor="middle" fill="#333" transform="translate(414.7 424.6) scale(1 1.12)">0</text>
<line x1="431" y1="415.1" x2="431" y2="417.3" stroke="#1e1e1e" stroke-width="0.9"/>
<text x="0" y="0" font-size="5.6" text-anchor="middle" fill="#333" transform="translate(431.2 424.6) scale(1 1.12)">10</text>
<text x="0" y="0" font-size="3.5" text-anchor="start" fill="#333" transform="translate(434.2 421.6) scale(1 1.12)">3</text>
<line x1="454.7" y1="415.1" x2="454.7" y2="417.3" stroke="#1e1e1e" stroke-width="0.9"/>
<text x="0" y="0" font-size="5.6" text-anchor="middle" fill="#333" transform="translate(454.9 424.6) scale(1 1.12)">10</text>
<text x="0" y="0" font-size="3.5" text-anchor="start" fill="#333" transform="translate(457.9 421.6) scale(1 1.12)">4</text>
<line x1="475.2" y1="415.1" x2="475.2" y2="417.3" stroke="#1e1e1e" stroke-width="0.9"/>
<text x="0" y="0" font-size="5.6" text-anchor="middle" fill="#333" transform="translate(475.4 424.6) scale(1 1.12)">10</text>
<text x="0" y="0" font-size="3.5" text-anchor="start" fill="#333" transform="translate(478.4 421.6) scale(1 1.12)">5</text>
<line x1="438.13" y1="415.1" x2="438.13" y2="416.3" stroke="#1e1e1e" stroke-width="0.6"/>
<line x1="442.31" y1="415.1" x2="442.31" y2="416.3" stroke="#1e1e1e" stroke-width="0.6"/>
<line x1="445.27" y1="415.1" x2="445.27" y2="416.3" stroke="#1e1e1e" stroke-width="0.6"/>
<line x1="447.57" y1="415.1" x2="447.57" y2="416.3" stroke="#1e1e1e" stroke-width="0.6"/>
<line x1="449.44" y1="415.1" x2="449.44" y2="416.3" stroke="#1e1e1e" stroke-width="0.6"/>
<line x1="451.03" y1="415.1" x2="451.03" y2="416.3" stroke="#1e1e1e" stroke-width="0.6"/>
<line x1="452.4" y1="415.1" x2="452.4" y2="416.3" stroke="#1e1e1e" stroke-width="0.6"/>
<line x1="453.62" y1="415.1" x2="453.62" y2="416.3" stroke="#1e1e1e" stroke-width="0.6"/>
<line x1="460.87" y1="415.1" x2="460.87" y2="416.3" stroke="#1e1e1e" stroke-width="0.6"/>
<line x1="464.48" y1="415.1" x2="464.48" y2="416.3" stroke="#1e1e1e" stroke-width="0.6"/>
<line x1="467.04" y1="415.1" x2="467.04" y2="416.3" stroke="#1e1e1e" stroke-width="0.6"/>
<line x1="469.03" y1="415.1" x2="469.03" y2="416.3" stroke="#1e1e1e" stroke-width="0.6"/>
<line x1="470.65" y1="415.1" x2="470.65" y2="416.3" stroke="#1e1e1e" stroke-width="0.6"/>
<line x1="472.02" y1="415.1" x2="472.02" y2="416.3" stroke="#1e1e1e" stroke-width="0.6"/>
<line x1="473.21" y1="415.1" x2="473.21" y2="416.3" stroke="#1e1e1e" stroke-width="0.6"/>
<line x1="474.26" y1="415.1" x2="474.26" y2="416.3" stroke="#1e1e1e" stroke-width="0.6"/>
<text x="439.3" y="432.8" font-size="7.4" text-anchor="middle" fill="#2a2a2a" textLength="63" lengthAdjust="spacingAndGlyphs">Comp-APC-A::CD45</text>
<text x="379.4" y="372.4" font-size="7.4" text-anchor="middle" fill="#2a2a2a" textLength="55" lengthAdjust="spacingAndGlyphs" transform="rotate(-90 379.4 372.4)">Comp-PE-A::CD33</text>
<path d="M418.4 368.11h0.85v0.85h-0.85zM413.44 375.82h0.85v0.85h-0.85zM410.61 374.22h0.85v0.85h-0.85zM417.84 379.4h0.85v0.85h-0.85zM403.03 391.53h0.85v0.85h-0.85zM405.51 366.93h0.85v0.85h-0.85zM427.07 365.37h0.85v0.85h-0.85zM419.61 365.66h0.85v0.85h-0.85zM415.55 372.31h0.85v0.85h-0.85zM424.52 376.54h0.85v0.85h-0.85zM426.3 362.1h0.85v0.85h-0.85zM406.03 381.05h0.85v0.85h-0.85zM412.75 365.18h0.85v0.85h-0.85zM419.56 379.78h0.85v0.85h-0.85zM412.72 365.34h0.85v0.85h-0.85zM409.13 372.02h0.85v0.85h-0.85zM410.58 372.46h0.85v0.85h-0.85zM410.25 372.12h0.85v0.85h-0.85zM413.45 377.2h0.85v0.85h-0.85zM425.44 365.99h0.85v0.85h-0.85zM404.57 379.89h0.85v0.85h-0.85zM412 364.82h0.85v0.85h-0.85zM412.96 351.06h0.85v0.85h-0.85zM424.29 383.34h0.85v0.85h-0.85zM418.2 365.29h0.85v0.85h-0.85zM414.79 368.72h0.85v0.85h-0.85zM418.36 369.17h0.85v0.85h-0.85zM423.12 360.3h0.85v0.85h-0.85zM421.67 377.7h0.85v0.85h-0.85zM413.81 371.77h0.85v0.85h-0.85zM421.35 371.34h0.85v0.85h-0.85zM413.57 384.58h0.85v0.85h-0.85zM420.98 360.48h0.85v0.85h-0.85zM426.85 385.4h0.85v0.85h-0.85zM418.22 385.9h0.85v0.85h-0.85zM419.49 379.34h0.85v0.85h-0.85zM426.94 365.47h0.85v0.85h-0.85zM420.73 368.34h0.85v0.85h-0.85zM446.15 388.04h0.85v0.85h-0.85zM452.16 386.57h0.85v0.85h-0.85zM457.68 387.15h0.85v0.85h-0.85zM448.76 392.74h0.85v0.85h-0.85zM444.4 387.37h0.85v0.85h-0.85zM448.97 392.68h0.85v0.85h-0.85zM469.23 385.97h0.85v0.85h-0.85zM459.04 386.01h0.85v0.85h-0.85zM447.87 385.76h0.85v0.85h-0.85zM460.28 396.31h0.85v0.85h-0.85zM476.29 385.79h0.85v0.85h-0.85zM459.42 393.61h0.85v0.85h-0.85zM451.56 382.85h0.85v0.85h-0.85zM452 386.64h0.85v0.85h-0.85zM453.09 389.54h0.85v0.85h-0.85zM458.93 384.09h0.85v0.85h-0.85zM458.09 390.89h0.85v0.85h-0.85zM461.8 395.46h0.85v0.85h-0.85zM459.7 387.44h0.85v0.85h-0.85zM472.1 387.73h0.85v0.85h-0.85zM417.59 333.1h0.85v0.85h-0.85zM449.71 386.33h0.85v0.85h-0.85zM419.76 370.86h0.85v0.85h-0.85zM427.3 404.7h0.85v0.85h-0.85zM433.26 388.2h0.85v0.85h-0.85zM439.09 411.98h0.85v0.85h-0.85zM438.47 378.9h0.85v0.85h-0.85zM467.08 402.64h0.85v0.85h-0.85zM430.85 342h0.85v0.85h-0.85zM460.78 345.2h0.85v0.85h-0.85zM461.3 364.05h0.85v0.85h-0.85zM469.37 372.24h0.85v0.85h-0.85zM473.87 353.68h0.85v0.85h-0.85zM404.65 340.29h0.85v0.85h-0.85zM473.56 360.75h0.85v0.85h-0.85zM405.71 400.83h0.85v0.85h-0.85zM441.45 345.87h0.85v0.85h-0.85zM440.05 342.12h0.85v0.85h-0.85z" fill="#000" opacity="0.15"/>
<path d="M430.98 382.81h0.85v0.85h-0.85zM412.89 388.23h0.85v0.85h-0.85zM441.05 378.1h0.85v0.85h-0.85zM444.54 371.81h0.85v0.85h-0.85zM435.05 379.08h0.85v0.85h-0.85zM410.59 398.62h0.85v0.85h-0.85zM437.57 372.99h0.85v0.85h-0.85zM433.53 370.16h0.85v0.85h-0.85zM419 382.63h0.85v0.85h-0.85zM436 378.88h0.85v0.85h-0.85zM441.23 369.71h0.85v0.85h-0.85zM435.17 379.57h0.85v0.85h-0.85zM410.47 386.35h0.85v0.85h-0.85zM413.59 390.13h0.85v0.85h-0.85zM435.6 376.59h0.85v0.85h-0.85zM415.8 387.39h0.85v0.85h-0.85zM428.29 373.91h0.85v0.85h-0.85zM422.96 379.76h0.85v0.85h-0.85zM408.33 395.56h0.85v0.85h-0.85zM427.92 379.39h0.85v0.85h-0.85zM425.68 385.43h0.85v0.85h-0.85zM432.67 376.61h0.85v0.85h-0.85zM424.05 384.84h0.85v0.85h-0.85zM419.45 396.59h0.85v0.85h-0.85zM436.95 373.8h0.85v0.85h-0.85zM435 379.14h0.85v0.85h-0.85zM415.2 381.52h0.85v0.85h-0.85zM433.35 384.45h0.85v0.85h-0.85zM425.42 386.09h0.85v0.85h-0.85zM439.12 378.26h0.85v0.85h-0.85zM419.72 385.9h0.85v0.85h-0.85zM427.2 380.43h0.85v0.85h-0.85zM456.48 372.77h0.85v0.85h-0.85zM414.67 386.47h0.85v0.85h-0.85zM411.43 393.7h0.85v0.85h-0.85zM422.07 374.44h0.85v0.85h-0.85zM422.3 395.71h0.85v0.85h-0.85zM451.07 370.05h0.85v0.85h-0.85zM434.45 379.31h0.85v0.85h-0.85zM440.15 379.02h0.85v0.85h-0.85zM426.11 382.23h0.85v0.85h-0.85zM444.29 380.9h0.85v0.85h-0.85zM404.36 393.51h0.85v0.85h-0.85zM432.94 378.59h0.85v0.85h-0.85zM428.85 388.55h0.85v0.85h-0.85zM423.39 392.09h0.85v0.85h-0.85zM411.26 392.19h0.85v0.85h-0.85zM429.37 371.57h0.85v0.85h-0.85zM441.76 375.14h0.85v0.85h-0.85zM428.66 391.62h0.85v0.85h-0.85zM445.27 360.34h0.85v0.85h-0.85zM402.02 395.73h0.85v0.85h-0.85zM422.97 391.78h0.85v0.85h-0.85zM435.26 379.77h0.85v0.85h-0.85zM444.57 370.45h0.85v0.85h-0.85zM424.17 392.41h0.85v0.85h-0.85zM424.46 382.64h0.85v0.85h-0.85zM422.75 379.69h0.85v0.85h-0.85zM404.55 388.65h0.85v0.85h-0.85zM425.53 375.6h0.85v0.85h-0.85zM419.67 374.7h0.85v0.85h-0.85zM434.1 380.1h0.85v0.85h-0.85zM435.52 371.93h0.85v0.85h-0.85zM425.64 378.12h0.85v0.85h-0.85zM417.04 396.76h0.85v0.85h-0.85zM427.39 386.44h0.85v0.85h-0.85zM414.83 390.08h0.85v0.85h-0.85zM430.48 390.14h0.85v0.85h-0.85zM421.91 381.07h0.85v0.85h-0.85zM426.06 384.49h0.85v0.85h-0.85zM437.01 381.09h0.85v0.85h-0.85zM414.23 392.5h0.85v0.85h-0.85zM452.88 364.87h0.85v0.85h-0.85zM404.95 400.56h0.85v0.85h-0.85zM412.33 385.2h0.85v0.85h-0.85zM429.64 363.34h0.85v0.85h-0.85zM421.78 381.42h0.85v0.85h-0.85zM441.06 374.39h0.85v0.85h-0.85zM433.21 379.69h0.85v0.85h-0.85zM414.5 379.69h0.85v0.85h-0.85zM427.46 382.66h0.85v0.85h-0.85zM411.92 393.33h0.85v0.85h-0.85zM439.37 372.43h0.85v0.85h-0.85zM416.94 378.48h0.85v0.85h-0.85zM435.11 380.29h0.85v0.85h-0.85zM419.73 378.87h0.85v0.85h-0.85zM423.83 385.99h0.85v0.85h-0.85zM426.54 372.55h0.85v0.85h-0.85zM442.74 376.86h0.85v0.85h-0.85zM430.03 392.76h0.85v0.85h-0.85zM418.52 393.22h0.85v0.85h-0.85zM404.37 403.06h0.85v0.85h-0.85zM427.58 381.49h0.85v0.85h-0.85zM434.63 372.43h0.85v0.85h-0.85zM424.11 392.2h0.85v0.85h-0.85zM428.35 380.94h0.85v0.85h-0.85zM408.03 385.59h0.85v0.85h-0.85zM415.86 386.03h0.85v0.85h-0.85zM403.61 390.15h0.85v0.85h-0.85zM413.77 393.62h0.85v0.85h-0.85zM425.05 387.08h0.85v0.85h-0.85zM435.83 371.32h0.85v0.85h-0.85zM445.33 364.61h0.85v0.85h-0.85zM438 379.31h0.85v0.85h-0.85zM427.75 373.39h0.85v0.85h-0.85zM428.69 388.33h0.85v0.85h-0.85zM420.97 387.45h0.85v0.85h-0.85zM424.06 393.47h0.85v0.85h-0.85zM438.47 372.94h0.85v0.85h-0.85zM431.46 388.02h0.85v0.85h-0.85zM423.96 388.55h0.85v0.85h-0.85zM431.85 370.32h0.85v0.85h-0.85zM449.55 372.44h0.85v0.85h-0.85zM403.56 398.79h0.85v0.85h-0.85zM434.64 374.96h0.85v0.85h-0.85zM427.24 386.98h0.85v0.85h-0.85zM431.58 373.42h0.85v0.85h-0.85zM418.56 360.02h0.85v0.85h-0.85zM423.87 365.85h0.85v0.85h-0.85zM414.02 375.47h0.85v0.85h-0.85zM404.86 360.14h0.85v0.85h-0.85zM412.02 368.74h0.85v0.85h-0.85zM415.75 371.89h0.85v0.85h-0.85zM413.32 351.95h0.85v0.85h-0.85zM409.09 353.94h0.85v0.85h-0.85zM410.24 375.15h0.85v0.85h-0.85zM418.91 377.97h0.85v0.85h-0.85zM420.09 379.5h0.85v0.85h-0.85zM418.64 369.14h0.85v0.85h-0.85zM413.28 368.58h0.85v0.85h-0.85zM412.63 363.54h0.85v0.85h-0.85zM429.69 375.68h0.85v0.85h-0.85zM430.96 374.9h0.85v0.85h-0.85zM422.83 363.9h0.85v0.85h-0.85zM430.73 368.38h0.85v0.85h-0.85zM416.73 371.31h0.85v0.85h-0.85zM424.77 380.09h0.85v0.85h-0.85zM431.48 377.24h0.85v0.85h-0.85zM417.44 371.41h0.85v0.85h-0.85zM421.87 367.84h0.85v0.85h-0.85zM413.39 381.81h0.85v0.85h-0.85zM419.31 365.69h0.85v0.85h-0.85zM423.74 359.29h0.85v0.85h-0.85zM417.85 382.84h0.85v0.85h-0.85zM421.56 370.45h0.85v0.85h-0.85zM421.77 382.25h0.85v0.85h-0.85zM418.95 371.31h0.85v0.85h-0.85zM424.66 386.75h0.85v0.85h-0.85zM416.46 375.07h0.85v0.85h-0.85zM414.58 369.78h0.85v0.85h-0.85zM421.14 392.86h0.85v0.85h-0.85zM417.74 372.4h0.85v0.85h-0.85zM427.46 380.83h0.85v0.85h-0.85zM408.87 359.33h0.85v0.85h-0.85zM422.97 362.53h0.85v0.85h-0.85zM416.6 375.84h0.85v0.85h-0.85zM414.81 373.4h0.85v0.85h-0.85zM418.44 371.57h0.85v0.85h-0.85zM461.56 359.03h0.85v0.85h-0.85zM456.78 365.87h0.85v0.85h-0.85zM464 359.96h0.85v0.85h-0.85zM457.23 365.33h0.85v0.85h-0.85zM458.72 363.46h0.85v0.85h-0.85zM460.76 365.57h0.85v0.85h-0.85zM456.6 363.45h0.85v0.85h-0.85zM460.5 364.81h0.85v0.85h-0.85zM459.51 366.64h0.85v0.85h-0.85zM462.86 362.81h0.85v0.85h-0.85zM458.95 366.18h0.85v0.85h-0.85zM462.89 366.01h0.85v0.85h-0.85zM460.55 363.39h0.85v0.85h-0.85zM474.49 389.42h0.85v0.85h-0.85zM453.31 393.88h0.85v0.85h-0.85zM461.9 391.62h0.85v0.85h-0.85zM449.17 392.98h0.85v0.85h-0.85zM455.69 394.57h0.85v0.85h-0.85zM443.3 397.31h0.85v0.85h-0.85zM445.18 385.85h0.85v0.85h-0.85zM462.07 386.04h0.85v0.85h-0.85zM465.99 393.53h0.85v0.85h-0.85zM460.68 394.56h0.85v0.85h-0.85zM455 386.59h0.85v0.85h-0.85zM463.97 386.12h0.85v0.85h-0.85zM469.7 393.25h0.85v0.85h-0.85zM455.71 386.51h0.85v0.85h-0.85zM459.51 382.76h0.85v0.85h-0.85zM465.23 382.18h0.85v0.85h-0.85zM454.3 387.45h0.85v0.85h-0.85zM443.24 390.53h0.85v0.85h-0.85zM455.32 389.2h0.85v0.85h-0.85zM447.88 387.3h0.85v0.85h-0.85z" fill="#000" opacity="0.3"/>
<path d="M415.67 395.03h0.85v0.85h-0.85zM435.57 383.71h0.85v0.85h-0.85zM443.02 365.67h0.85v0.85h-0.85zM429.46 381.04h0.85v0.85h-0.85zM437.56 388.39h0.85v0.85h-0.85zM418.97 394.23h0.85v0.85h-0.85zM438.09 379.13h0.85v0.85h-0.85zM429.12 379.7h0.85v0.85h-0.85zM435.44 377.95h0.85v0.85h-0.85zM432.82 368.86h0.85v0.85h-0.85zM424.54 386.59h0.85v0.85h-0.85zM423.6 374.07h0.85v0.85h-0.85zM416.78 387.61h0.85v0.85h-0.85zM417.14 375.9h0.85v0.85h-0.85zM421.32 385.71h0.85v0.85h-0.85zM437.61 373.18h0.85v0.85h-0.85zM410.71 385.26h0.85v0.85h-0.85zM414.84 387.77h0.85v0.85h-0.85zM456.1 364.33h0.85v0.85h-0.85zM426.58 377.28h0.85v0.85h-0.85zM414.85 389.87h0.85v0.85h-0.85zM440.13 364.93h0.85v0.85h-0.85zM419.74 387.83h0.85v0.85h-0.85zM420.01 385.72h0.85v0.85h-0.85zM415.95 390.93h0.85v0.85h-0.85zM424.74 383.28h0.85v0.85h-0.85zM431.03 386.35h0.85v0.85h-0.85zM416.39 383.14h0.85v0.85h-0.85zM410.77 391.27h0.85v0.85h-0.85zM428.15 390.73h0.85v0.85h-0.85zM423.92 383.42h0.85v0.85h-0.85zM424.23 371.54h0.85v0.85h-0.85zM447.17 380.09h0.85v0.85h-0.85zM419.54 390.94h0.85v0.85h-0.85zM425.57 391.23h0.85v0.85h-0.85zM432.49 376.93h0.85v0.85h-0.85zM430.56 384.57h0.85v0.85h-0.85zM411.68 386.95h0.85v0.85h-0.85zM425.83 384.4h0.85v0.85h-0.85zM429.56 374.54h0.85v0.85h-0.85zM421.84 389.98h0.85v0.85h-0.85zM416.65 382.53h0.85v0.85h-0.85zM427.06 384.79h0.85v0.85h-0.85zM434.06 377.04h0.85v0.85h-0.85zM414.69 381.25h0.85v0.85h-0.85zM415.2 379.26h0.85v0.85h-0.85zM425.49 389.39h0.85v0.85h-0.85zM423.73 380.42h0.85v0.85h-0.85zM412.62 382.14h0.85v0.85h-0.85zM406.12 391.27h0.85v0.85h-0.85zM450.46 366.32h0.85v0.85h-0.85zM446.91 373.38h0.85v0.85h-0.85zM432.85 381.36h0.85v0.85h-0.85zM443.44 356.5h0.85v0.85h-0.85zM440.53 369.05h0.85v0.85h-0.85zM417.43 392.78h0.85v0.85h-0.85zM432.53 375.74h0.85v0.85h-0.85zM428.96 383.95h0.85v0.85h-0.85zM415.95 390.01h0.85v0.85h-0.85zM445.56 370.1h0.85v0.85h-0.85zM421.12 387.21h0.85v0.85h-0.85zM419.7 377.29h0.85v0.85h-0.85zM440.6 380.37h0.85v0.85h-0.85zM421.98 394.62h0.85v0.85h-0.85zM425.5 373.25h0.85v0.85h-0.85zM411.4 395.29h0.85v0.85h-0.85zM428.89 382.4h0.85v0.85h-0.85zM442.57 381.87h0.85v0.85h-0.85zM435.45 387.29h0.85v0.85h-0.85zM417.37 386.7h0.85v0.85h-0.85zM416.87 383.36h0.85v0.85h-0.85zM430.06 382.91h0.85v0.85h-0.85zM426.82 383.81h0.85v0.85h-0.85zM425.84 382.01h0.85v0.85h-0.85zM429.22 384.04h0.85v0.85h-0.85zM443.26 376.62h0.85v0.85h-0.85zM427.25 382.54h0.85v0.85h-0.85zM406.42 402.57h0.85v0.85h-0.85zM430.57 384.89h0.85v0.85h-0.85zM415.54 381.75h0.85v0.85h-0.85zM427.61 391.93h0.85v0.85h-0.85zM436.72 377.25h0.85v0.85h-0.85zM427.51 380.63h0.85v0.85h-0.85zM406.68 386.41h0.85v0.85h-0.85zM430.2 367.68h0.85v0.85h-0.85zM423.87 382.18h0.85v0.85h-0.85zM425.86 392.32h0.85v0.85h-0.85zM435.37 375.24h0.85v0.85h-0.85zM417.47 379.58h0.85v0.85h-0.85zM429.41 377.61h0.85v0.85h-0.85zM423.36 398.66h0.85v0.85h-0.85zM450.33 373.73h0.85v0.85h-0.85zM435.2 374.46h0.85v0.85h-0.85zM413.46 396.69h0.85v0.85h-0.85zM430.2 371.97h0.85v0.85h-0.85zM409.2 397.04h0.85v0.85h-0.85zM438.59 374.57h0.85v0.85h-0.85zM445.34 375.09h0.85v0.85h-0.85zM427.29 375.56h0.85v0.85h-0.85zM421.54 383.43h0.85v0.85h-0.85zM428.24 374.59h0.85v0.85h-0.85zM408.32 391.52h0.85v0.85h-0.85zM407.6 389.32h0.85v0.85h-0.85zM419.41 381.81h0.85v0.85h-0.85zM438.76 373.96h0.85v0.85h-0.85zM439.16 376.86h0.85v0.85h-0.85zM427.84 383.5h0.85v0.85h-0.85zM420.89 379.54h0.85v0.85h-0.85zM452.91 362.49h0.85v0.85h-0.85zM429.27 389h0.85v0.85h-0.85zM409.79 394.22h0.85v0.85h-0.85zM433.44 377.76h0.85v0.85h-0.85zM418.16 391.19h0.85v0.85h-0.85zM415.13 382.49h0.85v0.85h-0.85zM415.54 393.48h0.85v0.85h-0.85zM442.81 383.98h0.85v0.85h-0.85zM432.56 366.52h0.85v0.85h-0.85zM433.72 372.3h0.85v0.85h-0.85zM437.57 379.89h0.85v0.85h-0.85zM432.81 375.8h0.85v0.85h-0.85zM444.85 374.17h0.85v0.85h-0.85zM445.5 374.62h0.85v0.85h-0.85zM441.66 371.57h0.85v0.85h-0.85zM444.15 378.37h0.85v0.85h-0.85zM440.82 377.06h0.85v0.85h-0.85zM443.42 378h0.85v0.85h-0.85zM441.91 376.39h0.85v0.85h-0.85zM441.03 375.51h0.85v0.85h-0.85zM442.3 375.86h0.85v0.85h-0.85zM438.8 374.44h0.85v0.85h-0.85zM444.85 370.97h0.85v0.85h-0.85zM438.45 382.22h0.85v0.85h-0.85zM441.31 379.49h0.85v0.85h-0.85zM440.02 371.69h0.85v0.85h-0.85zM450.57 373.56h0.85v0.85h-0.85zM440.12 374.12h0.85v0.85h-0.85zM444.22 376.03h0.85v0.85h-0.85zM439.44 373.39h0.85v0.85h-0.85zM440.77 375.02h0.85v0.85h-0.85zM440.85 369.54h0.85v0.85h-0.85zM441.9 374.86h0.85v0.85h-0.85zM444.34 375.21h0.85v0.85h-0.85zM440.87 373.97h0.85v0.85h-0.85zM446.7 369.58h0.85v0.85h-0.85zM455.67 364.6h0.85v0.85h-0.85zM458.68 362.28h0.85v0.85h-0.85zM458.1 363.06h0.85v0.85h-0.85zM458.72 366.39h0.85v0.85h-0.85zM461.35 360.37h0.85v0.85h-0.85zM457.36 360.1h0.85v0.85h-0.85zM460.69 365.83h0.85v0.85h-0.85zM456.56 364.75h0.85v0.85h-0.85zM457.19 356.74h0.85v0.85h-0.85zM455.5 364.84h0.85v0.85h-0.85zM460.12 366.59h0.85v0.85h-0.85zM458 362.19h0.85v0.85h-0.85zM459.08 363.36h0.85v0.85h-0.85zM460.66 366.09h0.85v0.85h-0.85zM461.94 365.97h0.85v0.85h-0.85zM457.11 360.6h0.85v0.85h-0.85zM458.46 361.33h0.85v0.85h-0.85z" fill="#000" opacity="0.5"/>
<path d="M443.45 371.77h0.85v0.85h-0.85zM445.4 377.98h0.85v0.85h-0.85zM442.99 373.51h0.85v0.85h-0.85zM443.5 370.69h0.85v0.85h-0.85zM444.64 371.94h0.85v0.85h-0.85zM443.11 372.45h0.85v0.85h-0.85zM440.45 376.39h0.85v0.85h-0.85zM444.96 370.89h0.85v0.85h-0.85zM442 375.83h0.85v0.85h-0.85zM440.6 377.07h0.85v0.85h-0.85zM443.96 377.35h0.85v0.85h-0.85zM442.38 374.99h0.85v0.85h-0.85zM442.97 376.21h0.85v0.85h-0.85zM436.71 375.65h0.85v0.85h-0.85zM439.6 374.98h0.85v0.85h-0.85zM444.9 377.24h0.85v0.85h-0.85zM442.75 377.09h0.85v0.85h-0.85zM442.23 373.99h0.85v0.85h-0.85zM442.58 373.63h0.85v0.85h-0.85zM440.63 375.94h0.85v0.85h-0.85zM440.81 380.43h0.85v0.85h-0.85zM442.41 375.98h0.85v0.85h-0.85zM445.23 374.05h0.85v0.85h-0.85zM440.48 374.28h0.85v0.85h-0.85zM444.53 373.01h0.85v0.85h-0.85zM446.96 376.65h0.85v0.85h-0.85z" fill="#000" opacity="0.75"/>
<ellipse cx="418.5" cy="392.5" rx="12.7" ry="8" fill="#000" opacity="0.1" transform="rotate(-26 418.5 392.5)"/>
<ellipse cx="430.7" cy="384.3" rx="18.2" ry="8" fill="#000" opacity="0.1" transform="rotate(-36 430.7 384.3)"/>
<ellipse cx="418.5" cy="392.5" rx="11.1" ry="6.4" fill="#000" opacity="0.3" transform="rotate(-26 418.5 392.5)"/>
<ellipse cx="430.7" cy="384.3" rx="16.6" ry="6.4" fill="#000" opacity="0.3" transform="rotate(-36 430.7 384.3)"/>
<ellipse cx="418.5" cy="392.5" rx="9.5" ry="5" fill="#000" transform="rotate(-26 418.5 392.5)"/>
<ellipse cx="430.7" cy="384.3" rx="15" ry="5" fill="#000" transform="rotate(-36 430.7 384.3)"/>
<ellipse cx="416.5" cy="394.4" rx="3.5" ry="1.5" fill="#ddd" stroke="#fafafa" stroke-width="1.0" transform="rotate(-10 416.5 394.4)"/>
<ellipse cx="416.5" cy="394.4" rx="1.47" ry="0.75" fill="#333" transform="rotate(-10 416.5 394.4)"/>
<rect x="445.1" y="338.5" width="33.4" height="39.9" fill="none" stroke="#5f4a72" stroke-width="1.1"/>
<rect x="395.7" y="328.8" width="85.8" height="86.3" fill="none" stroke="#000" stroke-width="1.35"/>
<line x1="31.8" y1="438.6" x2="31.8" y2="333" stroke="#111" stroke-width="1.3"/>
<polygon points="31.8,327.4 34.8,334.2 28.8,334.2" fill="#111"/>
<line x1="31.2" y1="438.6" x2="481" y2="438.6" stroke="#111" stroke-width="1.3"/>
<polygon points="487.5,438.6 480.6,435.6 480.6,441.6" fill="#111"/>
<text x="0" y="0" font-size="8.9" text-anchor="middle" fill="#1e1e1e" transform="translate(27.9 385.2) rotate(-90) scale(1 1.12)">Human CD33</text>
<text x="0" y="0" font-size="8.9" text-anchor="start" fill="#1e1e1e" transform="translate(230 449.6) scale(1 1.12)">Human CD45</text>
</g><g>
<text x="0" y="0" font-size="11" text-anchor="start" font-weight="bold" fill="#000" transform="translate(21.9 472.3)">G</text>
<text x="0" y="0" font-size="8" text-anchor="middle" font-weight="bold" fill="#1e1e1e" transform="translate(106.5 479.3) scale(1 1.12)">Human CML CD45+ cells</text>
<line x1="44.6" y1="488.3" x2="44.6" y2="578.1" stroke="#1e1e1e" stroke-width="1.1"/>
<line x1="42.1" y1="490.8" x2="44.6" y2="490.8" stroke="#1e1e1e" stroke-width="1.1"/>
<text x="0" y="0" font-size="7.0" text-anchor="end" fill="#1e1e1e" transform="translate(39.5 493.32) scale(1 1.12)">3</text>
<line x1="42.1" y1="520.1" x2="44.6" y2="520.1" stroke="#1e1e1e" stroke-width="1.1"/>
<text x="0" y="0" font-size="7.0" text-anchor="end" fill="#1e1e1e" transform="translate(39.5 522.62) scale(1 1.12)">2</text>
<line x1="42.1" y1="548.9" x2="44.6" y2="548.9" stroke="#1e1e1e" stroke-width="1.1"/>
<text x="0" y="0" font-size="7.0" text-anchor="end" fill="#1e1e1e" transform="translate(39.5 551.42) scale(1 1.12)">1</text>
<line x1="42.1" y1="577.6" x2="44.6" y2="577.6" stroke="#1e1e1e" stroke-width="1.1"/>
<text x="0" y="0" font-size="7.0" text-anchor="end" fill="#1e1e1e" transform="translate(39.5 580.12) scale(1 1.12)">0</text>
<text x="0" y="0" font-size="8.1" text-anchor="middle" fill="#1e1e1e" transform="translate(29.6 534.2) rotate(-90) scale(1 1.12)">% of live BM cells</text>
<line x1="44.6" y1="577.5" x2="168.3" y2="577.5" stroke="#1e1e1e" stroke-width="1.1"/>
<line x1="66.5" y1="577.5" x2="66.5" y2="580.5" stroke="#1e1e1e" stroke-width="1.1"/>
<line x1="93.4" y1="577.5" x2="93.4" y2="580.5" stroke="#1e1e1e" stroke-width="1.1"/>
<line x1="119.2" y1="577.5" x2="119.2" y2="580.5" stroke="#1e1e1e" stroke-width="1.1"/>
<line x1="145" y1="577.5" x2="145" y2="580.5" stroke="#1e1e1e" stroke-width="1.1"/>
<line x1="66.5" y1="491.8" x2="145.3" y2="491.8" stroke="#4a4a4a" stroke-width="1.1"/>
<line x1="66.5" y1="488.5" x2="66.5" y2="495.1" stroke="#4a4a4a" stroke-width="1.1"/>
<line x1="145.3" y1="488.5" x2="145.3" y2="495.1" stroke="#4a4a4a" stroke-width="1.1"/>
<circle cx="103.9" cy="486.2" r="1.05" fill="#2a2a2a"/>
<circle cx="107.7" cy="486.2" r="1.05" fill="#2a2a2a"/>
<line x1="66.5" y1="499.8" x2="119.8" y2="499.8" stroke="#4a4a4a" stroke-width="1.1"/>
<line x1="66.5" y1="496.5" x2="66.5" y2="503.1" stroke="#4a4a4a" stroke-width="1.1"/>
<line x1="119.8" y1="496.5" x2="119.8" y2="503.1" stroke="#4a4a4a" stroke-width="1.1"/>
<circle cx="93" cy="495.6" r="1.05" fill="#2a2a2a"/>
<line x1="66.5" y1="507.8" x2="93.6" y2="507.8" stroke="#4a4a4a" stroke-width="1.1"/>
<line x1="66.5" y1="504.5" x2="66.5" y2="511.1" stroke="#4a4a4a" stroke-width="1.1"/>
<line x1="93.6" y1="504.5" x2="93.6" y2="511.1" stroke="#4a4a4a" stroke-width="1.1"/>
<text x="0" y="0" font-size="7.9" text-anchor="middle" fill="#333" transform="translate(79.5 505.6) scale(1 1.12)">ns</text>
<line x1="93.6" y1="516.3" x2="145.3" y2="516.3" stroke="#4a4a4a" stroke-width="1.1"/>
<line x1="93.6" y1="513" x2="93.6" y2="519.6" stroke="#4a4a4a" stroke-width="1.1"/>
<line x1="145.3" y1="513" x2="145.3" y2="519.6" stroke="#4a4a4a" stroke-width="1.1"/>
<circle cx="107.2" cy="511.7" r="1.05" fill="#2a2a2a"/>
<circle cx="111" cy="511.7" r="1.05" fill="#2a2a2a"/>
<circle cx="114.8" cy="511.7" r="1.05" fill="#2a2a2a"/>
<line x1="118.6" y1="524.4" x2="145.3" y2="524.4" stroke="#4a4a4a" stroke-width="1.1"/>
<line x1="118.6" y1="521.1" x2="118.6" y2="527.7" stroke="#4a4a4a" stroke-width="1.1"/>
<line x1="145.3" y1="521.1" x2="145.3" y2="527.7" stroke="#4a4a4a" stroke-width="1.1"/>
<circle cx="128.2" cy="520.2" r="1.05" fill="#2a2a2a"/>
<circle cx="132" cy="520.2" r="1.05" fill="#2a2a2a"/>
<circle cx="135.8" cy="520.2" r="1.05" fill="#2a2a2a"/>
<circle cx="66.5" cy="513.8" r="1.8" fill="#a51a3e"/>
<circle cx="59.5" cy="549.8" r="1.8" fill="#a51a3e"/>
<circle cx="68.6" cy="549.8" r="1.8" fill="#a51a3e"/>
<circle cx="72.8" cy="549.8" r="1.8" fill="#a51a3e"/>
<circle cx="64.4" cy="553.6" r="1.8" fill="#a51a3e"/>
<circle cx="65.9" cy="555.5" r="1.8" fill="#a51a3e"/>
<circle cx="63.8" cy="569.9" r="1.8" fill="#a51a3e"/>
<circle cx="69.5" cy="568.4" r="1.8" fill="#a51a3e"/>
<line x1="57.5" y1="553" x2="75.5" y2="553" stroke="#1a1a1a" stroke-width="1.1"/>
<line x1="66.5" y1="545.2" x2="66.5" y2="557.2" stroke="#1a1a1a" stroke-width="1.1"/>
<line x1="62.5" y1="545.2" x2="70.5" y2="545.2" stroke="#1a1a1a" stroke-width="1.1"/>
<line x1="62.5" y1="557.2" x2="70.5" y2="557.2" stroke="#1a1a1a" stroke-width="1.1"/>
<polygon points="87,548.26 88.87,551.49 85.13,551.49" fill="#80b65c"/>
<polygon points="93.4,547.06 95.27,550.29 91.53,550.29" fill="#80b65c"/>
<polygon points="98.6,548.26 100.47,551.49 96.73,551.49" fill="#80b65c"/>
<polygon points="88.1,562.66 89.97,565.89 86.23,565.89" fill="#80b65c"/>
<polygon points="94.4,562.66 96.27,565.89 92.53,565.89" fill="#80b65c"/>
<polygon points="93.4,569.46 95.27,572.69 91.53,572.69" fill="#80b65c"/>
<line x1="84.65" y1="558.7" x2="102.15" y2="558.7" stroke="#1a1a1a" stroke-width="1.1"/>
<line x1="93.4" y1="555.7" x2="93.4" y2="561" stroke="#1a1a1a" stroke-width="1.1"/>
<line x1="89.4" y1="555.7" x2="97.4" y2="555.7" stroke="#1a1a1a" stroke-width="1.1"/>
<line x1="89.4" y1="561" x2="97.4" y2="561" stroke="#1a1a1a" stroke-width="1.1"/>
<rect x="117.2" y="557.3" width="3.2" height="3.2" fill="#27427a"/>
<rect x="114.4" y="561.5" width="3.2" height="3.2" fill="#27427a"/>
<rect x="120.3" y="563.7" width="3.2" height="3.2" fill="#27427a"/>
<rect x="110.8" y="566.2" width="3.2" height="3.2" fill="#27427a"/>
<rect x="124.1" y="566.2" width="3.2" height="3.2" fill="#27427a"/>
<rect x="115.7" y="571.1" width="3.2" height="3.2" fill="#27427a"/>
<rect x="120.3" y="568.9" width="3.2" height="3.2" fill="#27427a"/>
<line x1="110.8" y1="567.8" x2="126.8" y2="567.8" stroke="#1a1a1a" stroke-width="1.1"/>
<line x1="118.8" y1="565.8" x2="118.8" y2="569.8" stroke="#1a1a1a" stroke-width="1.1"/>
<line x1="115.3" y1="565.8" x2="122.3" y2="565.8" stroke="#1a1a1a" stroke-width="1.1"/>
<line x1="115.3" y1="569.8" x2="122.3" y2="569.8" stroke="#1a1a1a" stroke-width="1.1"/>
<polygon points="139.9,575.04 141.39,572.47 138.41,572.47" fill="#2b2740"/>
<polygon points="144.8,574.24 146.29,571.67 143.31,571.67" fill="#2b2740"/>
<polygon points="149,575.04 150.49,572.47 147.51,572.47" fill="#2b2740"/>
<polygon points="143,577.14 144.49,574.57 141.51,574.57" fill="#2b2740"/>
<polygon points="147,576.84 148.49,574.27 145.51,574.27" fill="#2b2740"/>
<line x1="137.8" y1="574.8" x2="151.8" y2="574.8" stroke="#1a1a1a" stroke-width="1.1"/>
<line x1="144.8" y1="574" x2="144.8" y2="575.6" stroke="#1a1a1a" stroke-width="1.1"/>
<line x1="141.8" y1="574" x2="147.8" y2="574" stroke="#1a1a1a" stroke-width="1.1"/>
<line x1="141.8" y1="575.6" x2="147.8" y2="575.6" stroke="#1a1a1a" stroke-width="1.1"/>
<text x="0" y="0" font-size="7.5" text-anchor="end" fill="#1e1e1e" transform="translate(70.5 586.8) rotate(-45) scale(1 1.12)">Vehicle</text>
<text x="0" y="0" font-size="7.5" text-anchor="end" fill="#1e1e1e" transform="translate(97.4 586.8) rotate(-45) scale(1 1.12)">WNT974 5mg/kg</text>
<text x="0" y="0" font-size="7.5" text-anchor="end" fill="#1e1e1e" transform="translate(123.2 586.8) rotate(-45) scale(1 1.12)">Nil 50mg/kg</text>
<text x="0" y="0" font-size="7.5" text-anchor="end" fill="#1e1e1e" transform="translate(149 586.8) rotate(-45) scale(1 1.12)">Nil + WNT974</text>
<text x="0" y="0" font-size="8" text-anchor="middle" font-weight="bold" fill="#1e1e1e" transform="translate(277.6 479.4) scale(1 1.12)">Human CML C45+ cells</text>
<line x1="214.7" y1="487.8" x2="214.7" y2="578.2" stroke="#1e1e1e" stroke-width="1.1"/>
<line x1="211.7" y1="490.3" x2="214.7" y2="490.3" stroke="#1e1e1e" stroke-width="1.1"/>
<line x1="211.7" y1="512.2" x2="214.7" y2="512.2" stroke="#1e1e1e" stroke-width="1.1"/>
<line x1="211.7" y1="534" x2="214.7" y2="534" stroke="#1e1e1e" stroke-width="1.1"/>
<line x1="211.7" y1="555.9" x2="214.7" y2="555.9" stroke="#1e1e1e" stroke-width="1.1"/>
<line x1="211.7" y1="577.7" x2="214.7" y2="577.7" stroke="#1e1e1e" stroke-width="1.1"/>
<text x="0" y="0" font-size="8.2" text-anchor="end" fill="#1e1e1e" transform="translate(209.2 580.65) scale(1 1.12)">0</text>
<text x="0" y="0" font-size="7.9" text-anchor="end" fill="#1e1e1e" transform="translate(206.2 493.14) scale(1 1.12)">8x10</text>
<text x="0" y="0" font-size="5.056" text-anchor="start" fill="#1e1e1e" transform="translate(206.8 488.72) scale(1 1.12)">5</text>
<text x="0" y="0" font-size="7.9" text-anchor="end" fill="#1e1e1e" transform="translate(206.2 515.04) scale(1 1.12)">6x10</text>
<text x="0" y="0" font-size="5.056" text-anchor="start" fill="#1e1e1e" transform="translate(206.8 510.62) scale(1 1.12)">5</text>
<text x="0" y="0" font-size="7.9" text-anchor="end" fill="#1e1e1e" transform="translate(206.2 536.84) scale(1 1.12)">4x10</text>
<text x="0" y="0" font-size="5.056" text-anchor="start" fill="#1e1e1e" transform="translate(206.8 532.42) scale(1 1.12)">5</text>
<text x="0" y="0" font-size="7.9" text-anchor="end" fill="#1e1e1e" transform="translate(206.2 558.74) scale(1 1.12)">2x10</text>
<text x="0" y="0" font-size="5.056" text-anchor="start" fill="#1e1e1e" transform="translate(206.8 554.32) scale(1 1.12)">5</text>
<text x="0" y="0" font-size="8.8" text-anchor="middle" fill="#1e1e1e" transform="translate(185 532) rotate(-90) scale(1 1.12)">No. of cells</text>
<line x1="214.7" y1="577.7" x2="338.5" y2="577.7" stroke="#1e1e1e" stroke-width="1.1"/>
<line x1="236.8" y1="577.7" x2="236.8" y2="580.7" stroke="#1e1e1e" stroke-width="1.1"/>
<line x1="263.9" y1="577.7" x2="263.9" y2="580.7" stroke="#1e1e1e" stroke-width="1.1"/>
<line x1="290.8" y1="577.7" x2="290.8" y2="580.7" stroke="#1e1e1e" stroke-width="1.1"/>
<line x1="317.4" y1="577.7" x2="317.4" y2="580.7" stroke="#1e1e1e" stroke-width="1.1"/>
<line x1="236.8" y1="490" x2="317.2" y2="490" stroke="#4a4a4a" stroke-width="1.1"/>
<line x1="236.8" y1="486.7" x2="236.8" y2="493.3" stroke="#4a4a4a" stroke-width="1.1"/>
<line x1="317.2" y1="486.7" x2="317.2" y2="493.3" stroke="#4a4a4a" stroke-width="1.1"/>
<circle cx="272.2" cy="485.4" r="1.05" fill="#2a2a2a"/>
<circle cx="276" cy="485.4" r="1.05" fill="#2a2a2a"/>
<circle cx="279.8" cy="485.4" r="1.05" fill="#2a2a2a"/>
<line x1="236.8" y1="498.8" x2="290.6" y2="498.8" stroke="#4a4a4a" stroke-width="1.1"/>
<line x1="236.8" y1="495.5" x2="236.8" y2="502.1" stroke="#4a4a4a" stroke-width="1.1"/>
<line x1="290.6" y1="495.5" x2="290.6" y2="502.1" stroke="#4a4a4a" stroke-width="1.1"/>
<circle cx="264" cy="494.6" r="1.05" fill="#2a2a2a"/>
<line x1="236.8" y1="507.3" x2="263.9" y2="507.3" stroke="#4a4a4a" stroke-width="1.1"/>
<line x1="236.8" y1="504" x2="236.8" y2="510.6" stroke="#4a4a4a" stroke-width="1.1"/>
<line x1="263.9" y1="504" x2="263.9" y2="510.6" stroke="#4a4a4a" stroke-width="1.1"/>
<text x="0" y="0" font-size="7.9" text-anchor="middle" fill="#333" transform="translate(250.3 505.1) scale(1 1.12)">ns</text>
<line x1="263.9" y1="514.8" x2="317.2" y2="514.8" stroke="#4a4a4a" stroke-width="1.1"/>
<line x1="263.9" y1="511.5" x2="263.9" y2="518.1" stroke="#4a4a4a" stroke-width="1.1"/>
<line x1="317.2" y1="511.5" x2="317.2" y2="518.1" stroke="#4a4a4a" stroke-width="1.1"/>
<circle cx="287" cy="510.8" r="1.05" fill="#2a2a2a"/>
<circle cx="290.8" cy="510.8" r="1.05" fill="#2a2a2a"/>
<circle cx="294.6" cy="510.8" r="1.05" fill="#2a2a2a"/>
<line x1="289.7" y1="524.4" x2="317.2" y2="524.4" stroke="#4a4a4a" stroke-width="1.1"/>
<line x1="289.7" y1="521.1" x2="289.7" y2="527.7" stroke="#4a4a4a" stroke-width="1.1"/>
<line x1="317.2" y1="521.1" x2="317.2" y2="527.7" stroke="#4a4a4a" stroke-width="1.1"/>
<circle cx="301.5" cy="520.2" r="1.05" fill="#2a2a2a"/>
<circle cx="305.3" cy="520.2" r="1.05" fill="#2a2a2a"/>
<circle cx="236.8" cy="518" r="1.8" fill="#a51a3e"/>
<circle cx="236.8" cy="531.8" r="1.8" fill="#a51a3e"/>
<circle cx="232.6" cy="542.8" r="1.8" fill="#a51a3e"/>
<circle cx="238.9" cy="542.8" r="1.8" fill="#a51a3e"/>
<circle cx="240" cy="549.1" r="1.8" fill="#a51a3e"/>
<circle cx="234.7" cy="567.1" r="1.8" fill="#a51a3e"/>
<circle cx="240" cy="566.1" r="1.8" fill="#a51a3e"/>
<line x1="228.05" y1="544.9" x2="245.55" y2="544.9" stroke="#1a1a1a" stroke-width="1.1"/>
<line x1="236.8" y1="539.6" x2="236.8" y2="550.8" stroke="#1a1a1a" stroke-width="1.1"/>
<line x1="232.8" y1="539.6" x2="240.8" y2="539.6" stroke="#1a1a1a" stroke-width="1.1"/>
<line x1="232.8" y1="550.8" x2="240.8" y2="550.8" stroke="#1a1a1a" stroke-width="1.1"/>
<polygon points="263.9,529.26 265.77,532.49 262.03,532.49" fill="#80b65c"/>
<polygon points="261.1,542.96 262.97,546.19 259.23,546.19" fill="#80b65c"/>
<polygon points="266.4,546.16 268.27,549.39 264.53,549.39" fill="#80b65c"/>
<polygon points="262.2,555.66 264.07,558.89 260.33,558.89" fill="#80b65c"/>
<polygon points="261.1,559.86 262.97,563.09 259.23,563.09" fill="#80b65c"/>
<polygon points="265.4,563.06 267.27,566.29 263.53,566.29" fill="#80b65c"/>
<polygon points="263.9,568.36 265.77,571.59 262.03,571.59" fill="#80b65c"/>
<line x1="255.15" y1="553.4" x2="272.65" y2="553.4" stroke="#1a1a1a" stroke-width="1.1"/>
<line x1="263.9" y1="549.1" x2="263.9" y2="557" stroke="#1a1a1a" stroke-width="1.1"/>
<line x1="259.9" y1="549.1" x2="267.9" y2="549.1" stroke="#1a1a1a" stroke-width="1.1"/>
<line x1="259.9" y1="557" x2="267.9" y2="557" stroke="#1a1a1a" stroke-width="1.1"/>
<rect x="286.4" y="552.8" width="3.2" height="3.2" fill="#27427a"/>
<rect x="292.3" y="550.7" width="3.2" height="3.2" fill="#27427a"/>
<rect x="286.9" y="560.2" width="3.2" height="3.2" fill="#27427a"/>
<rect x="287.7" y="565.5" width="3.2" height="3.2" fill="#27427a"/>
<rect x="293.4" y="566.6" width="3.2" height="3.2" fill="#27427a"/>
<rect x="289.2" y="570.8" width="3.2" height="3.2" fill="#27427a"/>
<rect x="284.4" y="562.4" width="3.2" height="3.2" fill="#27427a"/>
<line x1="282.8" y1="563.3" x2="298.8" y2="563.3" stroke="#1a1a1a" stroke-width="1.1"/>
<line x1="290.8" y1="560.8" x2="290.8" y2="566.1" stroke="#1a1a1a" stroke-width="1.1"/>
<line x1="287.3" y1="560.8" x2="294.3" y2="560.8" stroke="#1a1a1a" stroke-width="1.1"/>
<line x1="287.3" y1="566.1" x2="294.3" y2="566.1" stroke="#1a1a1a" stroke-width="1.1"/>
<polygon points="312.5,573.74 313.99,571.17 311.01,571.17" fill="#2b2740"/>
<polygon points="317.6,573.34 319.09,570.77 316.12,570.77" fill="#2b2740"/>
<polygon points="322,573.74 323.49,571.17 320.51,571.17" fill="#2b2740"/>
<polygon points="315,576.04 316.49,573.47 313.51,573.47" fill="#2b2740"/>
<polygon points="320,576.04 321.49,573.47 318.51,573.47" fill="#2b2740"/>
<line x1="310.6" y1="573.3" x2="324.6" y2="573.3" stroke="#1a1a1a" stroke-width="1.1"/>
<line x1="317.6" y1="572.5" x2="317.6" y2="574.2" stroke="#1a1a1a" stroke-width="1.1"/>
<line x1="314.6" y1="572.5" x2="320.6" y2="572.5" stroke="#1a1a1a" stroke-width="1.1"/>
<line x1="314.6" y1="574.2" x2="320.6" y2="574.2" stroke="#1a1a1a" stroke-width="1.1"/>
<text x="0" y="0" font-size="7.5" text-anchor="end" fill="#1e1e1e" transform="translate(240.8 587) rotate(-45) scale(1 1.12)">Vehicle</text>
<text x="0" y="0" font-size="7.5" text-anchor="end" fill="#1e1e1e" transform="translate(267.9 587) rotate(-45) scale(1 1.12)">WNT974 5mg/kg</text>
<text x="0" y="0" font-size="7.5" text-anchor="end" fill="#1e1e1e" transform="translate(294.8 587) rotate(-45) scale(1 1.12)">Nil 50mg/kg</text>
<text x="0" y="0" font-size="7.5" text-anchor="end" fill="#1e1e1e" transform="translate(321.4 587) rotate(-45) scale(1 1.12)">Nil + WNT974</text>
</g><g class="hv">
<text x="0" y="0" font-size="11" text-anchor="start" font-weight="bold" fill="#000" transform="translate(7.8 656.2)">H</text>
<text x="0" y="0" font-size="8.8" text-anchor="middle" font-weight="bold" fill="#1e1e1e" transform="translate(97.4 663.8) scale(1 1.12)">% Human CD45+ CD33+</text>
<line x1="47.7" y1="683.3" x2="47.7" y2="755.6" stroke="#1e1e1e" stroke-width="1.1"/>
<line x1="44.7" y1="685.8" x2="47.7" y2="685.8" stroke="#1e1e1e" stroke-width="1.1"/>
<text x="0" y="0" font-size="8.8" text-anchor="end" fill="#1e1e1e" transform="translate(41.4 688.97) scale(1 1.12)">3</text>
<line x1="44.7" y1="708.9" x2="47.7" y2="708.9" stroke="#1e1e1e" stroke-width="1.1"/>
<text x="0" y="0" font-size="8.8" text-anchor="end" fill="#1e1e1e" transform="translate(41.4 712.07) scale(1 1.12)">2</text>
<line x1="44.7" y1="731.9" x2="47.7" y2="731.9" stroke="#1e1e1e" stroke-width="1.1"/>
<text x="0" y="0" font-size="8.8" text-anchor="end" fill="#1e1e1e" transform="translate(41.4 735.07) scale(1 1.12)">1</text>
<line x1="44.7" y1="755" x2="47.7" y2="755" stroke="#1e1e1e" stroke-width="1.1"/>
<text x="0" y="0" font-size="8.8" text-anchor="end" fill="#1e1e1e" transform="translate(41.4 758.17) scale(1 1.12)">0</text>
<text x="0" y="0" font-size="8.9" text-anchor="middle" fill="#1e1e1e" transform="translate(32 719.4) rotate(-90) scale(1 1.12)">% of live BM cells</text>
<line x1="47.7" y1="755.1" x2="145.8" y2="755.1" stroke="#1e1e1e" stroke-width="1.1"/>
<line x1="65.4" y1="755.1" x2="65.4" y2="758.1" stroke="#1e1e1e" stroke-width="1.1"/>
<line x1="86.5" y1="755.1" x2="86.5" y2="758.1" stroke="#1e1e1e" stroke-width="1.1"/>
<line x1="107.7" y1="755.1" x2="107.7" y2="758.1" stroke="#1e1e1e" stroke-width="1.1"/>
<line x1="128.4" y1="755.1" x2="128.4" y2="758.1" stroke="#1e1e1e" stroke-width="1.1"/>
<line x1="65.4" y1="681.6" x2="128.4" y2="681.6" stroke="#4a4a4a" stroke-width="1.1"/>
<line x1="65.4" y1="678.3" x2="65.4" y2="684.9" stroke="#4a4a4a" stroke-width="1.1"/>
<line x1="128.4" y1="678.3" x2="128.4" y2="684.9" stroke="#4a4a4a" stroke-width="1.1"/>
<circle cx="94.5" cy="676.8" r="1.35" fill="#2a2a2a"/>
<circle cx="98.9" cy="676.8" r="1.35" fill="#2a2a2a"/>
<line x1="65.4" y1="690.1" x2="108.1" y2="690.1" stroke="#4a4a4a" stroke-width="1.1"/>
<line x1="65.4" y1="686.8" x2="65.4" y2="693.4" stroke="#4a4a4a" stroke-width="1.1"/>
<line x1="108.1" y1="686.8" x2="108.1" y2="693.4" stroke="#4a4a4a" stroke-width="1.1"/>
<circle cx="86.5" cy="685.2" r="1.35" fill="#2a2a2a"/>
<line x1="65.4" y1="697.5" x2="86.5" y2="697.5" stroke="#4a4a4a" stroke-width="1.1"/>
<line x1="65.4" y1="694.2" x2="65.4" y2="700.8" stroke="#4a4a4a" stroke-width="1.1"/>
<line x1="86.5" y1="694.2" x2="86.5" y2="700.8" stroke="#4a4a4a" stroke-width="1.1"/>
<text x="0" y="0" font-size="8" text-anchor="middle" fill="#333" transform="translate(76 695.3) scale(1 1.12)">ns</text>
<line x1="86.5" y1="706" x2="128.4" y2="706" stroke="#4a4a4a" stroke-width="1.1"/>
<line x1="86.5" y1="702.7" x2="86.5" y2="709.3" stroke="#4a4a4a" stroke-width="1.1"/>
<line x1="128.4" y1="702.7" x2="128.4" y2="709.3" stroke="#4a4a4a" stroke-width="1.1"/>
<circle cx="103.7" cy="701.3" r="1.35" fill="#2a2a2a"/>
<circle cx="108.1" cy="701.3" r="1.35" fill="#2a2a2a"/>
<circle cx="112.5" cy="701.3" r="1.35" fill="#2a2a2a"/>
<line x1="107.3" y1="714.4" x2="128.4" y2="714.4" stroke="#4a4a4a" stroke-width="1.1"/>
<line x1="107.3" y1="711.1" x2="107.3" y2="717.7" stroke="#4a4a4a" stroke-width="1.1"/>
<line x1="128.4" y1="711.1" x2="128.4" y2="717.7" stroke="#4a4a4a" stroke-width="1.1"/>
<circle cx="113.9" cy="709.3" r="1.35" fill="#2a2a2a"/>
<circle cx="118.3" cy="709.3" r="1.35" fill="#2a2a2a"/>
<circle cx="122.7" cy="709.3" r="1.35" fill="#2a2a2a"/>
<circle cx="65.4" cy="704.3" r="1.75" fill="#a51a3e"/>
<circle cx="60.1" cy="732.8" r="1.75" fill="#a51a3e"/>
<circle cx="71.3" cy="732.8" r="1.75" fill="#a51a3e"/>
<circle cx="65" cy="734.5" r="1.75" fill="#a51a3e"/>
<circle cx="63.3" cy="737.7" r="1.75" fill="#a51a3e"/>
<circle cx="67.1" cy="737.7" r="1.75" fill="#a51a3e"/>
<circle cx="62.8" cy="748.7" r="1.75" fill="#a51a3e"/>
<circle cx="67.5" cy="747.9" r="1.75" fill="#a51a3e"/>
<line x1="57.9" y1="733.5" x2="72.9" y2="733.5" stroke="#1a1a1a" stroke-width="1.1"/>
<line x1="65.4" y1="729.2" x2="65.4" y2="738.8" stroke="#1a1a1a" stroke-width="1.1"/>
<line x1="61.9" y1="729.2" x2="68.9" y2="729.2" stroke="#1a1a1a" stroke-width="1.1"/>
<line x1="61.9" y1="738.8" x2="68.9" y2="738.8" stroke="#1a1a1a" stroke-width="1.1"/>
<polygon points="81.7,731.18 83.46,734.22 79.94,734.22" fill="#80b65c"/>
<polygon points="86.5,730.18 88.26,733.22 84.74,733.22" fill="#80b65c"/>
<polygon points="91.3,731.18 93.06,734.22 89.54,734.22" fill="#80b65c"/>
<polygon points="84,741.18 85.76,744.22 82.24,744.22" fill="#80b65c"/>
<polygon points="89,741.18 90.76,744.22 87.24,744.22" fill="#80b65c"/>
<polygon points="86.5,748.58 88.26,751.62 84.74,751.62" fill="#80b65c"/>
<line x1="79" y1="739.8" x2="94" y2="739.8" stroke="#1a1a1a" stroke-width="1.1"/>
<line x1="86.5" y1="737.3" x2="86.5" y2="742.4" stroke="#1a1a1a" stroke-width="1.1"/>
<line x1="83" y1="737.3" x2="90" y2="737.3" stroke="#1a1a1a" stroke-width="1.1"/>
<line x1="83" y1="742.4" x2="90" y2="742.4" stroke="#1a1a1a" stroke-width="1.1"/>
<rect x="106.15" y="738.25" width="3.1" height="3.1" fill="#27427a"/>
<rect x="101.45" y="742.95" width="3.1" height="3.1" fill="#27427a"/>
<rect x="110.45" y="742.95" width="3.1" height="3.1" fill="#27427a"/>
<rect x="104.45" y="745.05" width="3.1" height="3.1" fill="#27427a"/>
<rect x="108.45" y="746.45" width="3.1" height="3.1" fill="#27427a"/>
<rect x="102.45" y="748.25" width="3.1" height="3.1" fill="#27427a"/>
<rect x="110.95" y="748.25" width="3.1" height="3.1" fill="#27427a"/>
<line x1="100.7" y1="747.2" x2="114.7" y2="747.2" stroke="#1a1a1a" stroke-width="1.1"/>
<line x1="107.7" y1="745.4" x2="107.7" y2="749" stroke="#1a1a1a" stroke-width="1.1"/>
<line x1="104.7" y1="745.4" x2="110.7" y2="745.4" stroke="#1a1a1a" stroke-width="1.1"/>
<line x1="104.7" y1="749" x2="110.7" y2="749" stroke="#1a1a1a" stroke-width="1.1"/>
<polygon points="124,753.04 125.48,750.47 122.52,750.47" fill="#2b2740"/>
<polygon points="128.4,752.74 129.89,750.17 126.92,750.17" fill="#2b2740"/>
<polygon points="133,753.04 134.49,750.47 131.51,750.47" fill="#2b2740"/>
<polygon points="126,754.74 127.48,752.17 124.52,752.17" fill="#2b2740"/>
<polygon points="131,754.74 132.49,752.17 129.51,752.17" fill="#2b2740"/>
<line x1="121.9" y1="752.4" x2="134.9" y2="752.4" stroke="#1a1a1a" stroke-width="1.1"/>
<line x1="128.4" y1="751.8" x2="128.4" y2="753.2" stroke="#1a1a1a" stroke-width="1.1"/>
<line x1="125.4" y1="751.8" x2="131.4" y2="751.8" stroke="#1a1a1a" stroke-width="1.1"/>
<line x1="125.4" y1="753.2" x2="131.4" y2="753.2" stroke="#1a1a1a" stroke-width="1.1"/>
<text x="0" y="0" font-size="8.3" text-anchor="end" fill="#1e1e1e" transform="translate(69.4 765.3) rotate(-45) scale(1 1.12)">Vehicle</text>
<text x="0" y="0" font-size="8.3" text-anchor="end" fill="#1e1e1e" transform="translate(90.5 765.3) rotate(-45) scale(1 1.12)">WNT974 5mg/kg</text>
<text x="0" y="0" font-size="8.3" text-anchor="end" fill="#1e1e1e" transform="translate(111.7 765.3) rotate(-45) scale(1 1.12)">Nil 50mg/kg</text>
<text x="0" y="0" font-size="8.3" text-anchor="end" fill="#1e1e1e" transform="translate(132.4 765.3) rotate(-45) scale(1 1.12)">Nil + WNT974</text>
<text x="0" y="0" font-size="8.8" text-anchor="middle" font-weight="bold" fill="#1e1e1e" transform="translate(260.4 652.7) scale(1 1.12)">Human CML CD45+ cell</text>
<text x="0" y="0" font-size="8.8" text-anchor="middle" font-weight="bold" fill="#1e1e1e" transform="translate(260.4 663) scale(1 1.12)">subpopulations</text>
<line x1="202.9" y1="672.5" x2="202.9" y2="755.8" stroke="#1e1e1e" stroke-width="1.1"/>
<line x1="199.9" y1="675" x2="202.9" y2="675" stroke="#1e1e1e" stroke-width="1.1"/>
<text x="0" y="0" font-size="8.3" text-anchor="end" fill="#1e1e1e" transform="translate(197.7 677.99) scale(1 1.12)">0.04</text>
<line x1="199.9" y1="695.1" x2="202.9" y2="695.1" stroke="#1e1e1e" stroke-width="1.1"/>
<text x="0" y="0" font-size="8.3" text-anchor="end" fill="#1e1e1e" transform="translate(197.7 698.09) scale(1 1.12)">0.03</text>
<line x1="199.9" y1="715.2" x2="202.9" y2="715.2" stroke="#1e1e1e" stroke-width="1.1"/>
<text x="0" y="0" font-size="8.3" text-anchor="end" fill="#1e1e1e" transform="translate(197.7 718.19) scale(1 1.12)">0.02</text>
<line x1="199.9" y1="735.3" x2="202.9" y2="735.3" stroke="#1e1e1e" stroke-width="1.1"/>
<text x="0" y="0" font-size="8.3" text-anchor="end" fill="#1e1e1e" transform="translate(197.7 738.29) scale(1 1.12)">0.01</text>
<line x1="199.9" y1="755.3" x2="202.9" y2="755.3" stroke="#1e1e1e" stroke-width="1.1"/>
<text x="0" y="0" font-size="8.3" text-anchor="end" fill="#1e1e1e" transform="translate(197.7 758.29) scale(1 1.12)">0.00</text>
<text x="0" y="0" font-size="8.9" text-anchor="middle" fill="#1e1e1e" transform="translate(175.1 713.6) rotate(-90) scale(1 1.12)">% of live BM cells</text>
<line x1="202.9" y1="755.2" x2="317.3" y2="755.2" stroke="#1e1e1e" stroke-width="1.1"/>
<line x1="217.6" y1="755.2" x2="217.6" y2="758.2" stroke="#1e1e1e" stroke-width="1.1"/>
<line x1="245.9" y1="755.2" x2="245.9" y2="758.2" stroke="#1e1e1e" stroke-width="1.1"/>
<line x1="274.2" y1="755.2" x2="274.2" y2="758.2" stroke="#1e1e1e" stroke-width="1.1"/>
<line x1="302.5" y1="755.2" x2="302.5" y2="758.2" stroke="#1e1e1e" stroke-width="1.1"/>
<rect x="206.1" y="753.8" width="5.1" height="1.4" fill="#a3123a" stroke="#2a1a1a" stroke-opacity="0.35" stroke-width="0.6"/>
<line x1="208.65" y1="754.4" x2="208.65" y2="753.21" stroke="#222" stroke-width="1.0"/>
<line x1="207.45" y1="753.21" x2="209.85" y2="753.21" stroke="#222" stroke-width="1.0"/>
<line x1="207.45" y1="754.4" x2="209.85" y2="754.4" stroke="#222" stroke-width="1.0" opacity="0.6"/>
<rect x="212.5" y="753.8" width="5.1" height="1.4" fill="#6aa842" stroke="#2a1a1a" stroke-opacity="0.35" stroke-width="0.6"/>
<line x1="215.05" y1="754.4" x2="215.05" y2="753.21" stroke="#222" stroke-width="1.0"/>
<line x1="213.85" y1="753.21" x2="216.25" y2="753.21" stroke="#222" stroke-width="1.0"/>
<line x1="213.85" y1="754.4" x2="216.25" y2="754.4" stroke="#222" stroke-width="1.0" opacity="0.6"/>
<rect x="218.9" y="754.6" width="4.6" height="0.6" fill="#2b4c8c" stroke="#2a1a1a" stroke-opacity="0.35" stroke-width="0.6"/>
<rect x="224.7" y="754.6" width="4.9" height="0.6" fill="#55286b" stroke="#2a1a1a" stroke-opacity="0.35" stroke-width="0.6"/>
<line x1="227.15" y1="754.7" x2="227.15" y2="754.4" stroke="#222" stroke-width="1.0"/>
<line x1="225.95" y1="754.4" x2="228.35" y2="754.4" stroke="#222" stroke-width="1.0"/>
<line x1="225.95" y1="754.7" x2="228.35" y2="754.7" stroke="#222" stroke-width="1.0" opacity="0.6"/>
<rect x="234.4" y="752.61" width="5.1" height="2.59" fill="#a3123a" stroke="#2a1a1a" stroke-opacity="0.35" stroke-width="0.6"/>
<line x1="236.95" y1="754.7" x2="236.95" y2="750.41" stroke="#222" stroke-width="1.0"/>
<line x1="235.75" y1="750.41" x2="238.15" y2="750.41" stroke="#222" stroke-width="1.0"/>
<line x1="235.75" y1="754.7" x2="238.15" y2="754.7" stroke="#222" stroke-width="1.0" opacity="0.6"/>
<rect x="240.8" y="754.2" width="5.1" height="1" fill="#6aa842" stroke="#2a1a1a" stroke-opacity="0.35" stroke-width="0.6"/>
<line x1="243.35" y1="754.6" x2="243.35" y2="753.8" stroke="#222" stroke-width="1.0"/>
<line x1="242.15" y1="753.8" x2="244.55" y2="753.8" stroke="#222" stroke-width="1.0"/>
<line x1="242.15" y1="754.6" x2="244.55" y2="754.6" stroke="#222" stroke-width="1.0" opacity="0.6"/>
<rect x="247.2" y="753.6" width="4.6" height="1.6" fill="#2b4c8c" stroke="#2a1a1a" stroke-opacity="0.35" stroke-width="0.6"/>
<line x1="249.5" y1="754.2" x2="249.5" y2="753.01" stroke="#222" stroke-width="1.0"/>
<line x1="248.3" y1="753.01" x2="250.7" y2="753.01" stroke="#222" stroke-width="1.0"/>
<line x1="248.3" y1="754.2" x2="250.7" y2="754.2" stroke="#222" stroke-width="1.0" opacity="0.6"/>
<rect x="253" y="752.81" width="4.9" height="2.39" fill="#55286b" stroke="#2a1a1a" stroke-opacity="0.35" stroke-width="0.6"/>
<line x1="255.45" y1="754.7" x2="255.45" y2="750.81" stroke="#222" stroke-width="1.0"/>
<line x1="254.25" y1="750.81" x2="256.65" y2="750.81" stroke="#222" stroke-width="1.0"/>
<line x1="254.25" y1="754.7" x2="256.65" y2="754.7" stroke="#222" stroke-width="1.0" opacity="0.6"/>
<rect x="262.7" y="705.33" width="5.1" height="49.88" fill="#a3123a" stroke="#2a1a1a" stroke-opacity="0.35" stroke-width="0.6"/>
<line x1="265.25" y1="723.88" x2="265.25" y2="686.77" stroke="#222" stroke-width="1.0"/>
<line x1="264.05" y1="686.77" x2="266.45" y2="686.77" stroke="#222" stroke-width="1.0"/>
<line x1="264.05" y1="723.88" x2="266.45" y2="723.88" stroke="#222" stroke-width="1.0" opacity="0.6"/>
<rect x="269.1" y="723.68" width="5.1" height="31.52" fill="#6aa842" stroke="#2a1a1a" stroke-opacity="0.35" stroke-width="0.6"/>
<line x1="271.65" y1="732.26" x2="271.65" y2="715.1" stroke="#222" stroke-width="1.0"/>
<line x1="270.45" y1="715.1" x2="272.85" y2="715.1" stroke="#222" stroke-width="1.0"/>
<line x1="270.45" y1="732.26" x2="272.85" y2="732.26" stroke="#222" stroke-width="1.0" opacity="0.6"/>
<rect x="275.5" y="745.42" width="4.6" height="9.78" fill="#2b4c8c" stroke="#2a1a1a" stroke-opacity="0.35" stroke-width="0.6"/>
<line x1="277.8" y1="750.41" x2="277.8" y2="740.44" stroke="#222" stroke-width="1.0"/>
<line x1="276.6" y1="740.44" x2="279" y2="740.44" stroke="#222" stroke-width="1.0"/>
<line x1="276.6" y1="750.41" x2="279" y2="750.41" stroke="#222" stroke-width="1.0" opacity="0.6"/>
<rect x="281.3" y="748.22" width="4.9" height="6.98" fill="#55286b" stroke="#2a1a1a" stroke-opacity="0.35" stroke-width="0.6"/>
<rect x="291" y="706.92" width="5.1" height="48.28" fill="#a3123a" stroke="#2a1a1a" stroke-opacity="0.35" stroke-width="0.6"/>
<line x1="293.55" y1="728.07" x2="293.55" y2="685.77" stroke="#222" stroke-width="1.0"/>
<line x1="292.35" y1="685.77" x2="294.75" y2="685.77" stroke="#222" stroke-width="1.0"/>
<line x1="292.35" y1="728.07" x2="294.75" y2="728.07" stroke="#222" stroke-width="1.0" opacity="0.6"/>
<rect x="297.4" y="708.32" width="5.1" height="46.88" fill="#6aa842" stroke="#2a1a1a" stroke-opacity="0.35" stroke-width="0.6"/>
<line x1="299.95" y1="717.49" x2="299.95" y2="699.14" stroke="#222" stroke-width="1.0"/>
<line x1="298.75" y1="699.14" x2="301.15" y2="699.14" stroke="#222" stroke-width="1.0"/>
<line x1="298.75" y1="717.49" x2="301.15" y2="717.49" stroke="#222" stroke-width="1.0" opacity="0.6"/>
<rect x="303.8" y="753.21" width="4.6" height="2" fill="#2b4c8c" stroke="#2a1a1a" stroke-opacity="0.35" stroke-width="0.6"/>
<rect x="309.6" y="752.21" width="4.9" height="2.99" fill="#55286b" stroke="#2a1a1a" stroke-opacity="0.35" stroke-width="0.6"/>
<line x1="312.05" y1="753.01" x2="312.05" y2="751.41" stroke="#222" stroke-width="1.0"/>
<line x1="310.85" y1="751.41" x2="313.25" y2="751.41" stroke="#222" stroke-width="1.0"/>
<line x1="310.85" y1="753.01" x2="313.25" y2="753.01" stroke="#222" stroke-width="1.0" opacity="0.6"/>
<line x1="207.6" y1="678.2" x2="225.7" y2="678.2" stroke="#4a4a4a" stroke-width="1.1"/>
<line x1="207.6" y1="674.9" x2="207.6" y2="681.5" stroke="#4a4a4a" stroke-width="1.1"/>
<line x1="225.7" y1="674.9" x2="225.7" y2="681.5" stroke="#4a4a4a" stroke-width="1.1"/>
<text x="0" y="0" font-size="8" text-anchor="middle" fill="#333" transform="translate(216.65 676) scale(1 1.12)">ns</text>
<line x1="236.5" y1="678.2" x2="255" y2="678.2" stroke="#4a4a4a" stroke-width="1.1"/>
<line x1="236.5" y1="674.9" x2="236.5" y2="681.5" stroke="#4a4a4a" stroke-width="1.1"/>
<line x1="255" y1="674.9" x2="255" y2="681.5" stroke="#4a4a4a" stroke-width="1.1"/>
<text x="0" y="0" font-size="8" text-anchor="middle" fill="#333" transform="translate(245.75 676) scale(1 1.12)">ns</text>
<line x1="264.4" y1="678.5" x2="282.7" y2="678.5" stroke="#4a4a4a" stroke-width="1.1"/>
<line x1="264.4" y1="675.2" x2="264.4" y2="681.8" stroke="#4a4a4a" stroke-width="1.1"/>
<line x1="282.7" y1="675.2" x2="282.7" y2="681.8" stroke="#4a4a4a" stroke-width="1.1"/>
<circle cx="273.55" cy="673.7" r="1.35" fill="#2a2a2a"/>
<line x1="293.5" y1="678.5" x2="311.5" y2="678.5" stroke="#4a4a4a" stroke-width="1.1"/>
<line x1="293.5" y1="675.2" x2="293.5" y2="681.8" stroke="#4a4a4a" stroke-width="1.1"/>
<line x1="311.5" y1="675.2" x2="311.5" y2="681.8" stroke="#4a4a4a" stroke-width="1.1"/>
<circle cx="302.5" cy="673.7" r="1.35" fill="#2a2a2a"/>
<text x="0" y="0" font-size="8.3" text-anchor="end" fill="#1e1e1e" transform="translate(221.9 765.5) rotate(-45) scale(1 1.12)">CD45+ CD19+</text>
<text x="0" y="0" font-size="8.3" text-anchor="end" fill="#1e1e1e" transform="translate(250.2 765.5) rotate(-45) scale(1 1.12)">CD45+ CD3+</text>
<text x="0" y="0" font-size="8.3" text-anchor="end" fill="#1e1e1e" transform="translate(278.5 765.5) rotate(-45) scale(1 1.12)">CD45+ CD14+</text>
<text x="0" y="0" font-size="8.3" text-anchor="end" fill="#1e1e1e" transform="translate(306.8 765.5) rotate(-45) scale(1 1.12)">CD45+ CD15+</text>
<rect x="190" y="811.9" width="8.6" height="4" fill="#a3123a"/>
<text x="0" y="0" font-size="7.7" text-anchor="start" fill="#1e1e1e" transform="translate(200.6 816.6) scale(1 1.12)">Vehicle</text>
<rect x="268" y="811.9" width="8.6" height="4" fill="#2b4c8c"/>
<text x="0" y="0" font-size="7.7" text-anchor="start" fill="#1e1e1e" transform="translate(278.6 816.6) scale(1 1.12)">Nil 50mg/kg</text>
<rect x="190" y="822.3" width="8.6" height="4" fill="#6aa842"/>
<text x="0" y="0" font-size="7.7" text-anchor="start" fill="#1e1e1e" transform="translate(200.6 827) scale(1 1.12)">WNT974 5mg/kg</text>
<rect x="268" y="822.3" width="8.6" height="4" fill="#55286b"/>
<text x="0" y="0" font-size="7.7" text-anchor="start" fill="#1e1e1e" transform="translate(278.6 827) scale(1 1.12)">Nil + WNT974</text>
<text x="0" y="0" font-size="11" text-anchor="start" font-weight="bold" fill="#000" transform="translate(356.6 656.4)">J</text>
<text x="0" y="0" font-size="8.8" text-anchor="middle" font-weight="bold" fill="#1e1e1e" transform="translate(457.8 663.4) scale(1 1.12)">Human CML CFC</text>
<line x1="402.6" y1="675.6" x2="402.6" y2="755.5" stroke="#1e1e1e" stroke-width="1.1"/>
<line x1="399.6" y1="678.1" x2="402.6" y2="678.1" stroke="#1e1e1e" stroke-width="1.1"/>
<text x="0" y="0" font-size="8.3" text-anchor="end" fill="#1e1e1e" transform="translate(396.3 681.09) scale(1 1.12)">40</text>
<line x1="399.6" y1="697.4" x2="402.6" y2="697.4" stroke="#1e1e1e" stroke-width="1.1"/>
<text x="0" y="0" font-size="8.3" text-anchor="end" fill="#1e1e1e" transform="translate(396.3 700.39) scale(1 1.12)">30</text>
<line x1="399.6" y1="716.6" x2="402.6" y2="716.6" stroke="#1e1e1e" stroke-width="1.1"/>
<text x="0" y="0" font-size="8.3" text-anchor="end" fill="#1e1e1e" transform="translate(396.3 719.59) scale(1 1.12)">20</text>
<line x1="399.6" y1="735.8" x2="402.6" y2="735.8" stroke="#1e1e1e" stroke-width="1.1"/>
<text x="0" y="0" font-size="8.3" text-anchor="end" fill="#1e1e1e" transform="translate(396.3 738.79) scale(1 1.12)">10</text>
<line x1="399.6" y1="755" x2="402.6" y2="755" stroke="#1e1e1e" stroke-width="1.1"/>
<text x="0" y="0" font-size="8.3" text-anchor="end" fill="#1e1e1e" transform="translate(396.3 757.99) scale(1 1.12)">0</text>
<text x="369.2" y="715.0" font-size="9.2" text-anchor="middle" fill="#1e1e1e" transform="rotate(-90 369.2 715.0)">Colonies/2·10<tspan font-size="6" dy="-3.6">5</tspan></text>
<text x="0" y="0" font-size="8.6" text-anchor="middle" fill="#1e1e1e" transform="translate(381 715.2) rotate(-90) scale(1 1.12)">huCD45+ cells</text>
<line x1="402.6" y1="755" x2="511" y2="755" stroke="#1e1e1e" stroke-width="1.1"/>
<line x1="422.3" y1="755" x2="422.3" y2="758" stroke="#1e1e1e" stroke-width="1.1"/>
<line x1="445.9" y1="755" x2="445.9" y2="758" stroke="#1e1e1e" stroke-width="1.1"/>
<line x1="468.8" y1="755" x2="468.8" y2="758" stroke="#1e1e1e" stroke-width="1.1"/>
<line x1="492.8" y1="755" x2="492.8" y2="758" stroke="#1e1e1e" stroke-width="1.1"/>
<line x1="422.3" y1="674.2" x2="492.8" y2="674.2" stroke="#4a4a4a" stroke-width="1.1"/>
<line x1="422.3" y1="670.9" x2="422.3" y2="677.5" stroke="#4a4a4a" stroke-width="1.1"/>
<line x1="492.8" y1="670.9" x2="492.8" y2="677.5" stroke="#4a4a4a" stroke-width="1.1"/>
<circle cx="451.1" cy="669.4" r="1.35" fill="#2a2a2a"/>
<circle cx="455.5" cy="669.4" r="1.35" fill="#2a2a2a"/>
<circle cx="459.9" cy="669.4" r="1.35" fill="#2a2a2a"/>
<circle cx="464.3" cy="669.4" r="1.35" fill="#2a2a2a"/>
<line x1="422.3" y1="682.6" x2="469" y2="682.6" stroke="#4a4a4a" stroke-width="1.1"/>
<line x1="422.3" y1="679.3" x2="422.3" y2="685.9" stroke="#4a4a4a" stroke-width="1.1"/>
<line x1="469" y1="679.3" x2="469" y2="685.9" stroke="#4a4a4a" stroke-width="1.1"/>
<circle cx="446.2" cy="677.7" r="1.35" fill="#2a2a2a"/>
<line x1="422.3" y1="692.6" x2="446.3" y2="692.6" stroke="#4a4a4a" stroke-width="1.1"/>
<line x1="422.3" y1="689.3" x2="422.3" y2="695.9" stroke="#4a4a4a" stroke-width="1.1"/>
<line x1="446.3" y1="689.3" x2="446.3" y2="695.9" stroke="#4a4a4a" stroke-width="1.1"/>
<text x="0" y="0" font-size="8" text-anchor="middle" fill="#333" transform="translate(433.5 690.4) scale(1 1.12)">ns</text>
<line x1="446.3" y1="699.5" x2="492.8" y2="699.5" stroke="#4a4a4a" stroke-width="1.1"/>
<line x1="446.3" y1="696.2" x2="446.3" y2="702.8" stroke="#4a4a4a" stroke-width="1.1"/>
<line x1="492.8" y1="696.2" x2="492.8" y2="702.8" stroke="#4a4a4a" stroke-width="1.1"/>
<circle cx="466.3" cy="695.1" r="1.35" fill="#2a2a2a"/>
<circle cx="470.7" cy="695.1" r="1.35" fill="#2a2a2a"/>
<line x1="468.9" y1="711.2" x2="492.8" y2="711.2" stroke="#4a4a4a" stroke-width="1.1"/>
<line x1="468.9" y1="707.9" x2="468.9" y2="714.5" stroke="#4a4a4a" stroke-width="1.1"/>
<line x1="492.8" y1="707.9" x2="492.8" y2="714.5" stroke="#4a4a4a" stroke-width="1.1"/>
<circle cx="480.7" cy="706.5" r="1.35" fill="#2a2a2a"/>
<circle cx="422.3" cy="703.1" r="1.9" fill="#a51a3e"/>
<circle cx="422.3" cy="715" r="1.9" fill="#a51a3e"/>
<circle cx="420.2" cy="721.7" r="1.9" fill="#a51a3e"/>
<circle cx="424.5" cy="721.7" r="1.9" fill="#a51a3e"/>
<circle cx="418.8" cy="728.5" r="1.9" fill="#a51a3e"/>
<circle cx="425.1" cy="728.1" r="1.9" fill="#a51a3e"/>
<circle cx="417.7" cy="731.9" r="1.9" fill="#a51a3e"/>
<circle cx="422.3" cy="734.8" r="1.9" fill="#a51a3e"/>
<circle cx="427.2" cy="734.4" r="1.9" fill="#a51a3e"/>
<line x1="414.8" y1="724.3" x2="429.8" y2="724.3" stroke="#1a1a1a" stroke-width="1.1"/>
<line x1="422.3" y1="720.7" x2="422.3" y2="728.1" stroke="#1a1a1a" stroke-width="1.1"/>
<line x1="418.8" y1="720.7" x2="425.8" y2="720.7" stroke="#1a1a1a" stroke-width="1.1"/>
<line x1="418.8" y1="728.1" x2="425.8" y2="728.1" stroke="#1a1a1a" stroke-width="1.1"/>
<polygon points="445.6,705.76 447.09,708.33 444.12,708.33" fill="#a9c47e"/>
<polygon points="444.1,727.56 445.59,730.13 442.62,730.13" fill="#a9c47e"/>
<polygon points="443.1,737.16 444.59,739.73 441.62,739.73" fill="#a9c47e"/>
<polygon points="448.4,737.16 449.88,739.73 446.91,739.73" fill="#a9c47e"/>
<polygon points="445.6,744.46 447.09,747.03 444.12,747.03" fill="#a9c47e"/>
<line x1="438.35" y1="731.3" x2="452.85" y2="731.3" stroke="#1a1a1a" stroke-width="1.1"/>
<line x1="445.6" y1="727.7" x2="445.6" y2="734.8" stroke="#1a1a1a" stroke-width="1.1"/>
<line x1="442.1" y1="727.7" x2="449.1" y2="727.7" stroke="#1a1a1a" stroke-width="1.1"/>
<line x1="442.1" y1="734.8" x2="449.1" y2="734.8" stroke="#1a1a1a" stroke-width="1.1"/>
<rect x="464.6" y="722.1" width="3.4" height="3.4" fill="#27427a"/>
<rect x="470.6" y="722.1" width="3.4" height="3.4" fill="#27427a"/>
<rect x="463.2" y="735.9" width="3.4" height="3.4" fill="#27427a"/>
<rect x="468.9" y="737" width="3.4" height="3.4" fill="#27427a"/>
<rect x="465.7" y="743.7" width="3.4" height="3.4" fill="#27427a"/>
<rect x="472.1" y="733.8" width="3.4" height="3.4" fill="#27427a"/>
<line x1="461.5" y1="736.1" x2="475.5" y2="736.1" stroke="#1a1a1a" stroke-width="1.1"/>
<line x1="468.5" y1="732.9" x2="468.5" y2="739.1" stroke="#1a1a1a" stroke-width="1.1"/>
<line x1="465.5" y1="732.9" x2="471.5" y2="732.9" stroke="#1a1a1a" stroke-width="1.1"/>
<line x1="465.5" y1="739.1" x2="471.5" y2="739.1" stroke="#1a1a1a" stroke-width="1.1"/>
<polygon points="490.3,740.81 491.95,737.96 488.65,737.96" fill="#2b2740"/>
<polygon points="497,740.81 498.65,737.96 495.35,737.96" fill="#2b2740"/>
<polygon points="488.5,747.71 490.15,744.86 486.85,744.86" fill="#2b2740"/>
<polygon points="492.8,748.01 494.45,745.16 491.15,745.16" fill="#2b2740"/>
<polygon points="497.5,747.71 499.15,744.86 495.85,744.86" fill="#2b2740"/>
<line x1="485.55" y1="745.4" x2="500.05" y2="745.4" stroke="#1a1a1a" stroke-width="1.1"/>
<line x1="492.8" y1="744.6" x2="492.8" y2="746.2" stroke="#1a1a1a" stroke-width="1.1"/>
<line x1="489.8" y1="744.6" x2="495.8" y2="744.6" stroke="#1a1a1a" stroke-width="1.1"/>
<line x1="489.8" y1="746.2" x2="495.8" y2="746.2" stroke="#1a1a1a" stroke-width="1.1"/>
<text x="0" y="0" font-size="8.4" text-anchor="end" fill="#1e1e1e" transform="translate(426.3 765.3) rotate(-45) scale(1 1.12)">Vehicle</text>
<text x="0" y="0" font-size="8.4" text-anchor="end" fill="#1e1e1e" transform="translate(449.9 765.3) rotate(-45) scale(1 1.12)">WNT974 5mg/kg</text>
<text x="0" y="0" font-size="8.4" text-anchor="end" fill="#1e1e1e" transform="translate(472.8 765.3) rotate(-45) scale(1 1.12)">Nil 50mg/kg</text>
<text x="0" y="0" font-size="8.4" text-anchor="end" fill="#1e1e1e" transform="translate(496.8 765.3) rotate(-45) scale(1 1.12)">Nil + WNT974</text>
<text x="0" y="0" font-size="11" text-anchor="start" font-weight="bold" fill="#000" transform="translate(10 855.3)">I</text>
<text x="0" y="0" font-size="8.7" text-anchor="middle" font-weight="bold" fill="#1e1e1e" transform="translate(113.6 852.6) scale(1 1.12)">No. of Human</text>
<text x="0" y="0" font-size="8.7" text-anchor="middle" font-weight="bold" fill="#1e1e1e" transform="translate(113.6 863.1) scale(1 1.12)">CD45+ CD33+</text>
<line x1="69.4" y1="888.7" x2="69.4" y2="952.9" stroke="#1e1e1e" stroke-width="1.1"/>
<line x1="66.4" y1="891.2" x2="69.4" y2="891.2" stroke="#1e1e1e" stroke-width="1.1"/>
<text x="0" y="0" font-size="8.1" text-anchor="end" fill="#1e1e1e" transform="translate(63.1 894.12) scale(1 1.12)">800000</text>
<line x1="66.4" y1="906.5" x2="69.4" y2="906.5" stroke="#1e1e1e" stroke-width="1.1"/>
<text x="0" y="0" font-size="8.1" text-anchor="end" fill="#1e1e1e" transform="translate(63.1 909.42) scale(1 1.12)">600000</text>
<line x1="66.4" y1="921.7" x2="69.4" y2="921.7" stroke="#1e1e1e" stroke-width="1.1"/>
<text x="0" y="0" font-size="8.1" text-anchor="end" fill="#1e1e1e" transform="translate(63.1 924.62) scale(1 1.12)">400000</text>
<line x1="66.4" y1="937" x2="69.4" y2="937" stroke="#1e1e1e" stroke-width="1.1"/>
<text x="0" y="0" font-size="8.1" text-anchor="end" fill="#1e1e1e" transform="translate(63.1 939.92) scale(1 1.12)">200000</text>
<line x1="66.4" y1="952.4" x2="69.4" y2="952.4" stroke="#1e1e1e" stroke-width="1.1"/>
<text x="0" y="0" font-size="8.1" text-anchor="end" fill="#1e1e1e" transform="translate(63.1 955.32) scale(1 1.12)">0</text>
<text x="0" y="0" font-size="8.8" text-anchor="middle" fill="#1e1e1e" transform="translate(18.6 920.5) rotate(-90) scale(1 1.12)">No. of cells</text>
<text x="0" y="0" font-size="8.77" text-anchor="middle" fill="#1e1e1e" transform="translate(31 920.2) rotate(-90) scale(1 1.12)">(2 Femurs+2Tibia)</text>
<line x1="69.4" y1="952.4" x2="157" y2="952.4" stroke="#1e1e1e" stroke-width="1.1"/>
<line x1="85.4" y1="952.4" x2="85.4" y2="955.4" stroke="#1e1e1e" stroke-width="1.1"/>
<line x1="104.3" y1="952.4" x2="104.3" y2="955.4" stroke="#1e1e1e" stroke-width="1.1"/>
<line x1="122.8" y1="952.4" x2="122.8" y2="955.4" stroke="#1e1e1e" stroke-width="1.1"/>
<line x1="141.2" y1="952.4" x2="141.2" y2="955.4" stroke="#1e1e1e" stroke-width="1.1"/>
<line x1="85.4" y1="882" x2="141.2" y2="882" stroke="#4a4a4a" stroke-width="1.1"/>
<line x1="85.4" y1="878.7" x2="85.4" y2="885.3" stroke="#4a4a4a" stroke-width="1.1"/>
<line x1="141.2" y1="878.7" x2="141.2" y2="885.3" stroke="#4a4a4a" stroke-width="1.1"/>
<circle cx="109.1" cy="876.6" r="1.35" fill="#2a2a2a"/>
<circle cx="113.5" cy="876.6" r="1.35" fill="#2a2a2a"/>
<circle cx="117.9" cy="876.6" r="1.35" fill="#2a2a2a"/>
<line x1="85.4" y1="889.6" x2="122.8" y2="889.6" stroke="#4a4a4a" stroke-width="1.1"/>
<line x1="85.4" y1="886.3" x2="85.4" y2="892.9" stroke="#4a4a4a" stroke-width="1.1"/>
<line x1="122.8" y1="886.3" x2="122.8" y2="892.9" stroke="#4a4a4a" stroke-width="1.1"/>
<circle cx="103.8" cy="884.8" r="1.35" fill="#2a2a2a"/>
<line x1="85.4" y1="899.5" x2="104.3" y2="899.5" stroke="#4a4a4a" stroke-width="1.1"/>
<line x1="85.4" y1="896.2" x2="85.4" y2="902.8" stroke="#4a4a4a" stroke-width="1.1"/>
<line x1="104.3" y1="896.2" x2="104.3" y2="902.8" stroke="#4a4a4a" stroke-width="1.1"/>
<text x="0" y="0" font-size="8" text-anchor="middle" fill="#333" transform="translate(94.6 897.3) scale(1 1.12)">ns</text>
<line x1="104.3" y1="905.8" x2="141.2" y2="905.8" stroke="#4a4a4a" stroke-width="1.1"/>
<line x1="104.3" y1="902.5" x2="104.3" y2="909.1" stroke="#4a4a4a" stroke-width="1.1"/>
<line x1="141.2" y1="902.5" x2="141.2" y2="909.1" stroke="#4a4a4a" stroke-width="1.1"/>
<circle cx="118.4" cy="900.8" r="1.35" fill="#2a2a2a"/>
<circle cx="122.8" cy="900.8" r="1.35" fill="#2a2a2a"/>
<circle cx="127.2" cy="900.8" r="1.35" fill="#2a2a2a"/>
<line x1="122.8" y1="914.5" x2="141.2" y2="914.5" stroke="#4a4a4a" stroke-width="1.1"/>
<line x1="122.8" y1="911.2" x2="122.8" y2="917.8" stroke="#4a4a4a" stroke-width="1.1"/>
<line x1="141.2" y1="911.2" x2="141.2" y2="917.8" stroke="#4a4a4a" stroke-width="1.1"/>
<circle cx="129.8" cy="909.5" r="1.35" fill="#2a2a2a"/>
<circle cx="134.2" cy="909.5" r="1.35" fill="#2a2a2a"/>
<circle cx="85.4" cy="910.4" r="1.6" fill="#a51a3e"/>
<circle cx="85.4" cy="920.3" r="1.6" fill="#a51a3e"/>
<circle cx="82.5" cy="926" r="1.6" fill="#a51a3e"/>
<circle cx="88.5" cy="926" r="1.6" fill="#a51a3e"/>
<circle cx="84" cy="930" r="1.6" fill="#a51a3e"/>
<circle cx="89" cy="931" r="1.6" fill="#a51a3e"/>
<circle cx="82" cy="945" r="1.6" fill="#a51a3e"/>
<circle cx="89" cy="944" r="1.6" fill="#a51a3e"/>
<line x1="77.9" y1="928.9" x2="92.9" y2="928.9" stroke="#1a1a1a" stroke-width="1.1"/>
<line x1="85.4" y1="925" x2="85.4" y2="933" stroke="#1a1a1a" stroke-width="1.1"/>
<line x1="81.9" y1="925" x2="88.9" y2="925" stroke="#1a1a1a" stroke-width="1.1"/>
<line x1="81.9" y1="933" x2="88.9" y2="933" stroke="#1a1a1a" stroke-width="1.1"/>
<polygon points="104.3,918.12 105.73,920.59 102.87,920.59" fill="#a9c47e"/>
<polygon points="101,927.52 102.43,929.99 99.57,929.99" fill="#a9c47e"/>
<polygon points="104.3,931.52 105.73,933.99 102.87,933.99" fill="#a9c47e"/>
<polygon points="107,935.52 108.43,937.99 105.57,937.99" fill="#a9c47e"/>
<polygon points="101.5,939.52 102.93,941.99 100.07,941.99" fill="#a9c47e"/>
<polygon points="104.3,944.52 105.73,946.99 102.87,946.99" fill="#a9c47e"/>
<line x1="97.3" y1="935" x2="111.3" y2="935" stroke="#1a1a1a" stroke-width="1.1"/>
<line x1="104.3" y1="932.5" x2="104.3" y2="937.5" stroke="#1a1a1a" stroke-width="1.1"/>
<line x1="101.3" y1="932.5" x2="107.3" y2="932.5" stroke="#1a1a1a" stroke-width="1.1"/>
<line x1="101.3" y1="937.5" x2="107.3" y2="937.5" stroke="#1a1a1a" stroke-width="1.1"/>
<circle cx="119" cy="936" r="1.4" fill="#2c4f8e"/>
<circle cx="126" cy="935.5" r="1.4" fill="#2c4f8e"/>
<circle cx="121" cy="940" r="1.4" fill="#2c4f8e"/>
<circle cx="125" cy="942" r="1.4" fill="#2c4f8e"/>
<circle cx="119.5" cy="944" r="1.4" fill="#2c4f8e"/>
<circle cx="124" cy="946" r="1.4" fill="#2c4f8e"/>
<line x1="116.05" y1="941.5" x2="129.55" y2="941.5" stroke="#1a1a1a" stroke-width="1.1"/>
<line x1="122.8" y1="939.5" x2="122.8" y2="943.5" stroke="#1a1a1a" stroke-width="1.1"/>
<line x1="119.8" y1="939.5" x2="125.8" y2="939.5" stroke="#1a1a1a" stroke-width="1.1"/>
<line x1="119.8" y1="943.5" x2="125.8" y2="943.5" stroke="#1a1a1a" stroke-width="1.1"/>
<polygon points="137.5,949.48 138.93,947.01 136.07,947.01" fill="#2b2740"/>
<polygon points="141.2,949.78 142.63,947.31 139.77,947.31" fill="#2b2740"/>
<polygon points="145,949.48 146.43,947.01 143.57,947.01" fill="#2b2740"/>
<polygon points="139,951.48 140.43,949.01 137.57,949.01" fill="#2b2740"/>
<polygon points="143.5,951.48 144.93,949.01 142.07,949.01" fill="#2b2740"/>
<line x1="134.7" y1="949.2" x2="147.7" y2="949.2" stroke="#1a1a1a" stroke-width="1.1"/>
<line x1="141.2" y1="948.6" x2="141.2" y2="949.9" stroke="#1a1a1a" stroke-width="1.1"/>
<line x1="138.2" y1="948.6" x2="144.2" y2="948.6" stroke="#1a1a1a" stroke-width="1.1"/>
<line x1="138.2" y1="949.9" x2="144.2" y2="949.9" stroke="#1a1a1a" stroke-width="1.1"/>
<text x="0" y="0" font-size="8.2" text-anchor="end" fill="#1e1e1e" transform="translate(89.4 963.7) rotate(-45) scale(1 1.12)">Vehicle</text>
<text x="0" y="0" font-size="8.2" text-anchor="end" fill="#1e1e1e" transform="translate(108.3 963.7) rotate(-45) scale(1 1.12)">WNT974 5mg/kg</text>
<text x="0" y="0" font-size="8.2" text-anchor="end" fill="#1e1e1e" transform="translate(126.8 963.7) rotate(-45) scale(1 1.12)">Nil 50mg/kg</text>
<text x="0" y="0" font-size="8.2" text-anchor="end" fill="#1e1e1e" transform="translate(145.2 963.7) rotate(-45) scale(1 1.12)">Nil + WNT974</text>
<text x="0" y="0" font-size="8.7" text-anchor="middle" font-weight="bold" fill="#1e1e1e" transform="translate(281.1 852.7) scale(1 1.12)">Human CMLCD45+ cell</text>
<text x="0" y="0" font-size="8.7" text-anchor="middle" font-weight="bold" fill="#1e1e1e" transform="translate(281.2 863.1) scale(1 1.12)">subpopulations</text>
<line x1="224.4" y1="871.6" x2="224.4" y2="953" stroke="#1e1e1e" stroke-width="1.1"/>
<line x1="221.4" y1="874.1" x2="224.4" y2="874.1" stroke="#1e1e1e" stroke-width="1.1"/>
<text x="0" y="0" font-size="7.9" text-anchor="end" fill="#1e1e1e" transform="translate(218.8 876.94) scale(1 1.12)">15000</text>
<line x1="221.4" y1="900.2" x2="224.4" y2="900.2" stroke="#1e1e1e" stroke-width="1.1"/>
<text x="0" y="0" font-size="7.9" text-anchor="end" fill="#1e1e1e" transform="translate(218.8 903.04) scale(1 1.12)">10000</text>
<line x1="221.4" y1="926.3" x2="224.4" y2="926.3" stroke="#1e1e1e" stroke-width="1.1"/>
<text x="0" y="0" font-size="7.9" text-anchor="end" fill="#1e1e1e" transform="translate(218.8 929.14) scale(1 1.12)">5000</text>
<line x1="221.4" y1="952.5" x2="224.4" y2="952.5" stroke="#1e1e1e" stroke-width="1.1"/>
<text x="0" y="0" font-size="7.9" text-anchor="end" fill="#1e1e1e" transform="translate(218.8 955.34) scale(1 1.12)">0</text>
<text x="0" y="0" font-size="8.8" text-anchor="middle" fill="#1e1e1e" transform="translate(178.6 911.7) rotate(-90) scale(1 1.12)">No. of cells</text>
<text x="0" y="0" font-size="8.6" text-anchor="middle" fill="#1e1e1e" transform="translate(190.3 911) rotate(-90) scale(1 1.12)">(2 Femurs+2Tibia)</text>
<line x1="224.4" y1="952.4" x2="337" y2="952.4" stroke="#1e1e1e" stroke-width="1.1"/>
<line x1="238.6" y1="952.4" x2="238.6" y2="955.4" stroke="#1e1e1e" stroke-width="1.1"/>
<line x1="267" y1="952.4" x2="267" y2="955.4" stroke="#1e1e1e" stroke-width="1.1"/>
<line x1="294.8" y1="952.4" x2="294.8" y2="955.4" stroke="#1e1e1e" stroke-width="1.1"/>
<line x1="322.6" y1="952.4" x2="322.6" y2="955.4" stroke="#1e1e1e" stroke-width="1.1"/>
<rect x="227.1" y="950.57" width="5.1" height="1.83" fill="#a3123a" stroke="#2a1a1a" stroke-opacity="0.35" stroke-width="0.6"/>
<line x1="229.65" y1="951.25" x2="229.65" y2="949.89" stroke="#222" stroke-width="1.0"/>
<line x1="228.45" y1="949.89" x2="230.85" y2="949.89" stroke="#222" stroke-width="1.0"/>
<line x1="228.45" y1="951.25" x2="230.85" y2="951.25" stroke="#222" stroke-width="1.0" opacity="0.6"/>
<rect x="233.5" y="951.1" width="5.1" height="1.3" fill="#6aa842" stroke="#2a1a1a" stroke-opacity="0.35" stroke-width="0.6"/>
<line x1="236.05" y1="951.77" x2="236.05" y2="950.42" stroke="#222" stroke-width="1.0"/>
<line x1="234.85" y1="950.42" x2="237.25" y2="950.42" stroke="#222" stroke-width="1.0"/>
<line x1="234.85" y1="951.77" x2="237.25" y2="951.77" stroke="#222" stroke-width="1.0" opacity="0.6"/>
<rect x="239.9" y="951.98" width="4.6" height="0.42" fill="#2b4c8c" stroke="#2a1a1a" stroke-opacity="0.35" stroke-width="0.6"/>
<line x1="242.2" y1="951.9" x2="242.2" y2="951.77" stroke="#222" stroke-width="1.0"/>
<line x1="241" y1="951.77" x2="243.4" y2="951.77" stroke="#222" stroke-width="1.0"/>
<line x1="241" y1="951.9" x2="243.4" y2="951.9" stroke="#222" stroke-width="1.0" opacity="0.6"/>
<rect x="245.7" y="951.98" width="4.9" height="0.42" fill="#55286b" stroke="#2a1a1a" stroke-opacity="0.35" stroke-width="0.6"/>
<line x1="248.15" y1="951.9" x2="248.15" y2="951.83" stroke="#222" stroke-width="1.0"/>
<line x1="246.95" y1="951.83" x2="249.35" y2="951.83" stroke="#222" stroke-width="1.0"/>
<line x1="246.95" y1="951.9" x2="249.35" y2="951.9" stroke="#222" stroke-width="1.0" opacity="0.6"/>
<rect x="255.5" y="952.4" width="5.1" height="0" fill="#a3123a" stroke="#2a1a1a" stroke-opacity="0.35" stroke-width="0.6"/>
<rect x="261.9" y="952.4" width="5.1" height="0" fill="#6aa842" stroke="#2a1a1a" stroke-opacity="0.35" stroke-width="0.6"/>
<rect x="268.3" y="952.4" width="4.6" height="0" fill="#2b4c8c" stroke="#2a1a1a" stroke-opacity="0.35" stroke-width="0.6"/>
<rect x="274.1" y="952.4" width="4.9" height="0" fill="#55286b" stroke="#2a1a1a" stroke-opacity="0.35" stroke-width="0.6"/>
<rect x="283.3" y="909.33" width="5.1" height="43.07" fill="#a3123a" stroke="#2a1a1a" stroke-opacity="0.35" stroke-width="0.6"/>
<line x1="285.85" y1="926.04" x2="285.85" y2="892.63" stroke="#222" stroke-width="1.0"/>
<line x1="284.65" y1="892.63" x2="287.05" y2="892.63" stroke="#222" stroke-width="1.0"/>
<line x1="284.65" y1="926.04" x2="287.05" y2="926.04" stroke="#222" stroke-width="1.0" opacity="0.6"/>
<rect x="289.7" y="925.78" width="5.1" height="26.62" fill="#6aa842" stroke="#2a1a1a" stroke-opacity="0.35" stroke-width="0.6"/>
<line x1="292.25" y1="932.56" x2="292.25" y2="918.99" stroke="#222" stroke-width="1.0"/>
<line x1="291.05" y1="918.99" x2="293.45" y2="918.99" stroke="#222" stroke-width="1.0"/>
<line x1="291.05" y1="932.56" x2="293.45" y2="932.56" stroke="#222" stroke-width="1.0" opacity="0.6"/>
<rect x="296.1" y="943.58" width="4.6" height="8.82" fill="#2b4c8c" stroke="#2a1a1a" stroke-opacity="0.35" stroke-width="0.6"/>
<line x1="298.4" y1="948.59" x2="298.4" y2="938.57" stroke="#222" stroke-width="1.0"/>
<line x1="297.2" y1="938.57" x2="299.6" y2="938.57" stroke="#222" stroke-width="1.0"/>
<line x1="297.2" y1="948.59" x2="299.6" y2="948.59" stroke="#222" stroke-width="1.0" opacity="0.6"/>
<rect x="301.9" y="946.03" width="4.9" height="6.37" fill="#55286b" stroke="#2a1a1a" stroke-opacity="0.35" stroke-width="0.6"/>
<rect x="311.1" y="909.33" width="5.1" height="43.07" fill="#a3123a" stroke="#2a1a1a" stroke-opacity="0.35" stroke-width="0.6"/>
<line x1="313.65" y1="927.34" x2="313.65" y2="891.33" stroke="#222" stroke-width="1.0"/>
<line x1="312.45" y1="891.33" x2="314.85" y2="891.33" stroke="#222" stroke-width="1.0"/>
<line x1="312.45" y1="927.34" x2="314.85" y2="927.34" stroke="#222" stroke-width="1.0" opacity="0.6"/>
<rect x="317.5" y="911.58" width="5.1" height="40.82" fill="#6aa842" stroke="#2a1a1a" stroke-opacity="0.35" stroke-width="0.6"/>
<line x1="320.05" y1="919.93" x2="320.05" y2="903.23" stroke="#222" stroke-width="1.0"/>
<line x1="318.85" y1="903.23" x2="321.25" y2="903.23" stroke="#222" stroke-width="1.0"/>
<line x1="318.85" y1="919.93" x2="321.25" y2="919.93" stroke="#222" stroke-width="1.0" opacity="0.6"/>
<rect x="323.9" y="949.95" width="4.6" height="2.45" fill="#2b4c8c" stroke="#2a1a1a" stroke-opacity="0.35" stroke-width="0.6"/>
<rect x="329.7" y="949.01" width="4.9" height="3.39" fill="#55286b" stroke="#2a1a1a" stroke-opacity="0.35" stroke-width="0.6"/>
<line x1="332.15" y1="949.79" x2="332.15" y2="948.22" stroke="#222" stroke-width="1.0"/>
<line x1="330.95" y1="948.22" x2="333.35" y2="948.22" stroke="#222" stroke-width="1.0"/>
<line x1="330.95" y1="949.79" x2="333.35" y2="949.79" stroke="#222" stroke-width="1.0" opacity="0.6"/>
<line x1="229.2" y1="876.5" x2="247.7" y2="876.5" stroke="#4a4a4a" stroke-width="1.1"/>
<line x1="229.2" y1="873.2" x2="229.2" y2="879.8" stroke="#4a4a4a" stroke-width="1.1"/>
<line x1="247.7" y1="873.2" x2="247.7" y2="879.8" stroke="#4a4a4a" stroke-width="1.1"/>
<text x="0" y="0" font-size="8" text-anchor="middle" fill="#333" transform="translate(238.45 874.3) scale(1 1.12)">ns</text>
<line x1="258.1" y1="876.5" x2="275.4" y2="876.5" stroke="#4a4a4a" stroke-width="1.1"/>
<line x1="258.1" y1="873.2" x2="258.1" y2="879.8" stroke="#4a4a4a" stroke-width="1.1"/>
<line x1="275.4" y1="873.2" x2="275.4" y2="879.8" stroke="#4a4a4a" stroke-width="1.1"/>
<text x="0" y="0" font-size="8" text-anchor="middle" fill="#333" transform="translate(266.75 874.3) scale(1 1.12)">ns</text>
<line x1="285" y1="877.1" x2="303.3" y2="877.1" stroke="#4a4a4a" stroke-width="1.1"/>
<line x1="285" y1="873.8" x2="285" y2="880.4" stroke="#4a4a4a" stroke-width="1.1"/>
<line x1="303.3" y1="873.8" x2="303.3" y2="880.4" stroke="#4a4a4a" stroke-width="1.1"/>
<circle cx="294.15" cy="872.3" r="1.35" fill="#2a2a2a"/>
<line x1="313.5" y1="877.1" x2="331.5" y2="877.1" stroke="#4a4a4a" stroke-width="1.1"/>
<line x1="313.5" y1="873.8" x2="313.5" y2="880.4" stroke="#4a4a4a" stroke-width="1.1"/>
<line x1="331.5" y1="873.8" x2="331.5" y2="880.4" stroke="#4a4a4a" stroke-width="1.1"/>
<circle cx="322.5" cy="872.3" r="1.35" fill="#2a2a2a"/>
<text x="0" y="0" font-size="8.3" text-anchor="end" fill="#1e1e1e" transform="translate(243.4 963) rotate(-45) scale(1 1.12)">CD45+ CD19+</text>
<text x="0" y="0" font-size="8.3" text-anchor="end" fill="#1e1e1e" transform="translate(271.8 963) rotate(-45) scale(1 1.12)">CD45+ CD3+</text>
<text x="0" y="0" font-size="8.3" text-anchor="end" fill="#1e1e1e" transform="translate(299.6 963) rotate(-45) scale(1 1.12)">CD45+ CD14+</text>
<text x="0" y="0" font-size="8.3" text-anchor="end" fill="#1e1e1e" transform="translate(327.4 963) rotate(-45) scale(1 1.12)">CD45+ CD15+</text>
<rect x="211.5" y="1009.4" width="8.6" height="4" fill="#a3123a"/>
<text x="0" y="0" font-size="7.7" text-anchor="start" fill="#1e1e1e" transform="translate(222.1 1014.1) scale(1 1.12)">Vehicle</text>
<rect x="289.2" y="1009.4" width="8.6" height="4" fill="#2b4c8c"/>
<text x="0" y="0" font-size="7.7" text-anchor="start" fill="#1e1e1e" transform="translate(299.8 1014.1) scale(1 1.12)">Nil 50mg/kg</text>
<rect x="211.5" y="1019.9" width="8.6" height="4" fill="#6aa842"/>
<text x="0" y="0" font-size="7.7" text-anchor="start" fill="#1e1e1e" transform="translate(222.1 1024.6) scale(1 1.12)">WNT974 5mg/kg</text>
<rect x="289.2" y="1019.9" width="8.6" height="4" fill="#55286b"/>
<text x="0" y="0" font-size="7.7" text-anchor="start" fill="#1e1e1e" transform="translate(299.8 1024.6) scale(1 1.12)">Nil + WNT974</text>
<text x="0" y="0" font-size="11" text-anchor="start" font-weight="bold" fill="#000" transform="translate(358 855.5)">K</text>
<text x="0" y="0" font-size="8.85" text-anchor="middle" font-weight="bold" fill="#1e1e1e" transform="translate(453.5 863) scale(1 1.12)">FISH Analysis - BCR-ABL</text>
<line x1="403" y1="875.1" x2="403" y2="953" stroke="#1e1e1e" stroke-width="1.1"/>
<line x1="400" y1="877.6" x2="403" y2="877.6" stroke="#1e1e1e" stroke-width="1.1"/>
<text x="0" y="0" font-size="7.6" text-anchor="end" fill="#1e1e1e" transform="translate(397.7 880.34) scale(1 1.12)">120</text>
<line x1="400" y1="890.08" x2="403" y2="890.08" stroke="#1e1e1e" stroke-width="1.1"/>
<text x="0" y="0" font-size="7.6" text-anchor="end" fill="#1e1e1e" transform="translate(397.7 892.82) scale(1 1.12)">100</text>
<line x1="400" y1="902.56" x2="403" y2="902.56" stroke="#1e1e1e" stroke-width="1.1"/>
<text x="0" y="0" font-size="7.6" text-anchor="end" fill="#1e1e1e" transform="translate(397.7 905.3) scale(1 1.12)">80</text>
<line x1="400" y1="915.04" x2="403" y2="915.04" stroke="#1e1e1e" stroke-width="1.1"/>
<text x="0" y="0" font-size="7.6" text-anchor="end" fill="#1e1e1e" transform="translate(397.7 917.78) scale(1 1.12)">60</text>
<line x1="400" y1="927.52" x2="403" y2="927.52" stroke="#1e1e1e" stroke-width="1.1"/>
<text x="0" y="0" font-size="7.6" text-anchor="end" fill="#1e1e1e" transform="translate(397.7 930.26) scale(1 1.12)">40</text>
<line x1="400" y1="940" x2="403" y2="940" stroke="#1e1e1e" stroke-width="1.1"/>
<text x="0" y="0" font-size="7.6" text-anchor="end" fill="#1e1e1e" transform="translate(397.7 942.74) scale(1 1.12)">20</text>
<line x1="400" y1="952.48" x2="403" y2="952.48" stroke="#1e1e1e" stroke-width="1.1"/>
<text x="0" y="0" font-size="7.6" text-anchor="end" fill="#1e1e1e" transform="translate(397.7 955.22) scale(1 1.12)">0</text>
<text x="0" y="0" font-size="8.15" text-anchor="middle" fill="#1e1e1e" transform="translate(365.8 912.9) rotate(-90) scale(1 1.12)">BCR-ABL+ HuCD45+</text>
<text x="0" y="0" font-size="8.8" text-anchor="middle" fill="#1e1e1e" transform="translate(377.8 911.7) rotate(-90) scale(1 1.12)">cells (%)</text>
<line x1="403" y1="952.3" x2="503.9" y2="952.3" stroke="#1e1e1e" stroke-width="1.1"/>
<line x1="420.9" y1="952.3" x2="420.9" y2="955.3" stroke="#1e1e1e" stroke-width="1.1"/>
<line x1="442.5" y1="952.3" x2="442.5" y2="955.3" stroke="#1e1e1e" stroke-width="1.1"/>
<line x1="464" y1="952.3" x2="464" y2="955.3" stroke="#1e1e1e" stroke-width="1.1"/>
<line x1="485.5" y1="952.3" x2="485.5" y2="955.3" stroke="#1e1e1e" stroke-width="1.1"/>
<rect x="411.1" y="890.4" width="19.4" height="61.9" fill="#a3123a" stroke="#2a1a1a" stroke-opacity="0.35" stroke-width="0.6"/>
<rect x="432.8" y="891.5" width="19" height="60.8" fill="#6aa842" stroke="#2a1a1a" stroke-opacity="0.35" stroke-width="0.6"/>
<rect x="454.3" y="892.6" width="19.1" height="59.7" fill="#2b4c8c" stroke="#2a1a1a" stroke-opacity="0.35" stroke-width="0.6"/>
<rect x="475.8" y="892.3" width="19.2" height="60" fill="#55286b" stroke="#2a1a1a" stroke-opacity="0.35" stroke-width="0.6"/>
<text x="0" y="0" font-size="8.4" text-anchor="end" fill="#1e1e1e" transform="translate(424.9 963.7) rotate(-45) scale(1 1.12)">Vehicle</text>
<text x="0" y="0" font-size="8.4" text-anchor="end" fill="#1e1e1e" transform="translate(446.5 963.7) rotate(-45) scale(1 1.12)">WNT974 5mg/kg</text>
<text x="0" y="0" font-size="8.4" text-anchor="end" fill="#1e1e1e" transform="translate(468 963.7) rotate(-45) scale(1 1.12)">Nil 50mg/kg</text>
<text x="0" y="0" font-size="8.4" text-anchor="end" fill="#1e1e1e" transform="translate(489.5 963.7) rotate(-45) scale(1 1.12)">Nil + WNT974</text>
</g>
<rect x="0" y="0" width="520" height="1.1" fill="#000"/><rect x="0" y="0" width="1.5" height="1035" fill="#000"/><rect x="518.7" y="0" width="1.3" height="1035" fill="#000"/><rect x="0" y="1033.5" width="520" height="1.5" fill="#000"/>
</svg>
</body></html>
